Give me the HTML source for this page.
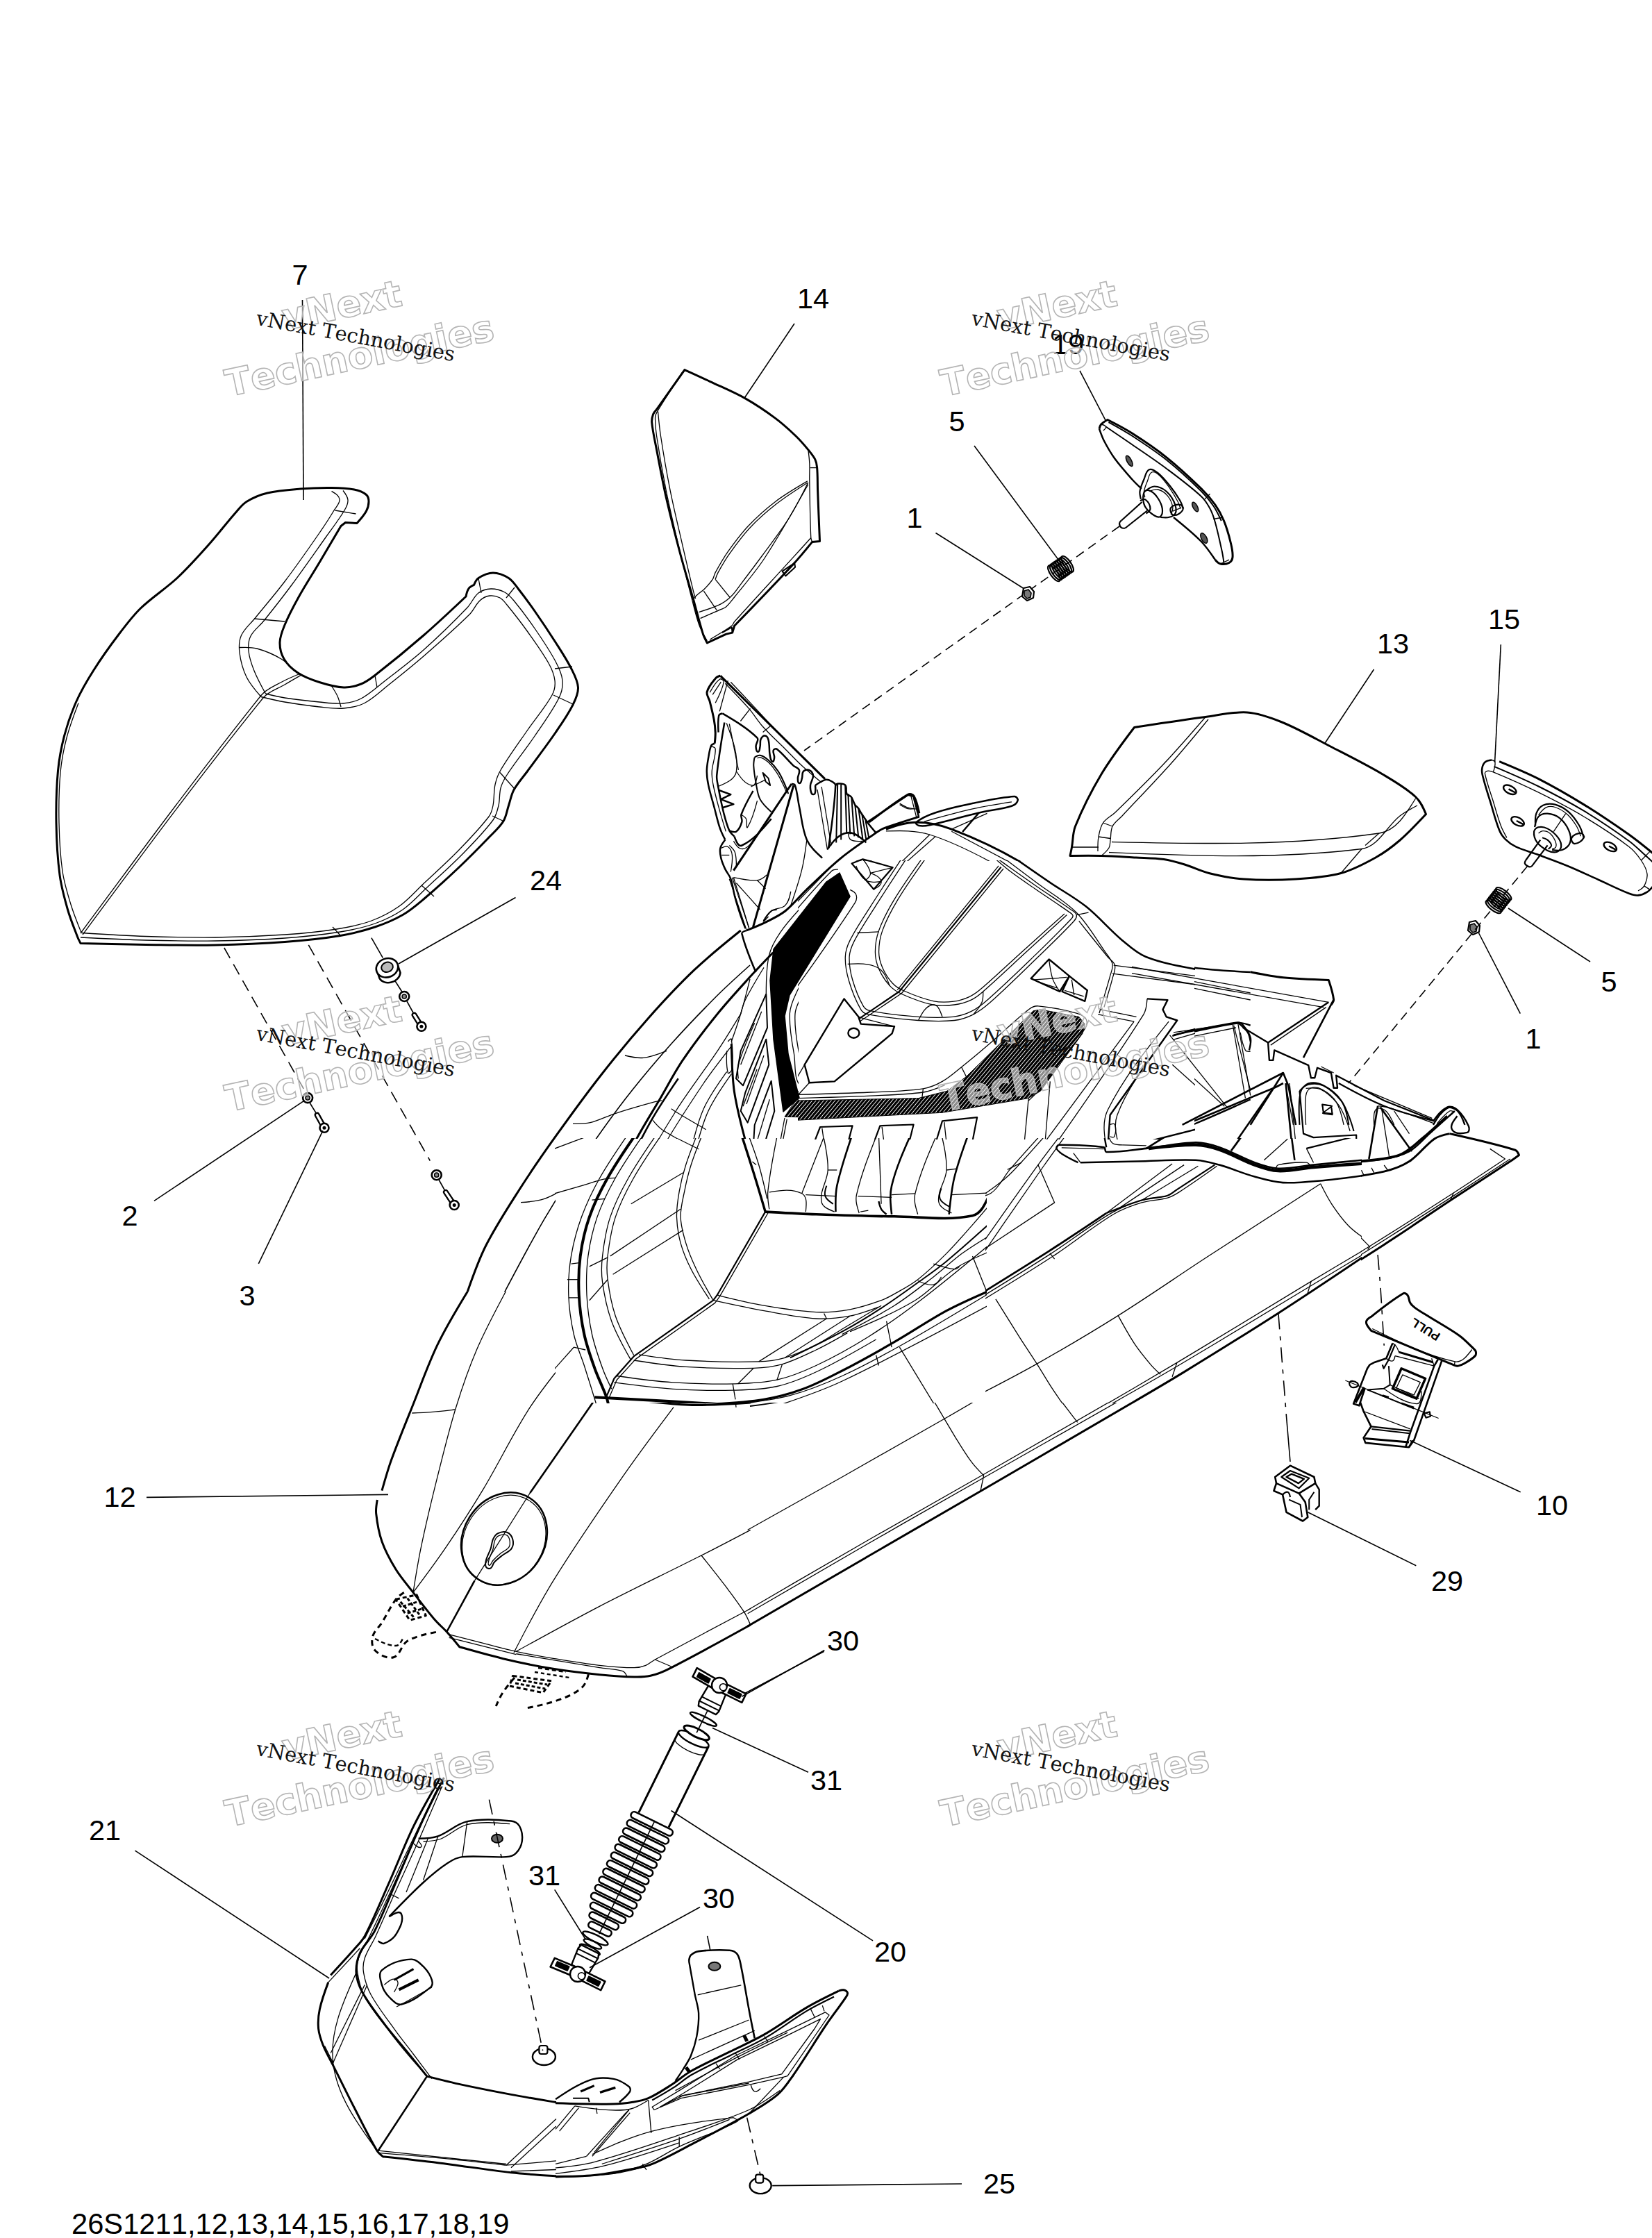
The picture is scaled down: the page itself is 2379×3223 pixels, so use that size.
<!DOCTYPE html>
<html><head><meta charset="utf-8"><title>26S1211</title>
<style>
html,body{margin:0;padding:0;background:#fff;}
svg{display:block;}
text{font-kerning:none;font-family:"Liberation Sans",sans-serif;fill:#000;}
path,line,ellipse,circle,polyline{stroke-linejoin:round;}
</style></head><body>
<svg width="2379" height="3223" viewBox="0 0 2379 3223">
<defs><clipPath id="exHD"><path clip-rule="evenodd" d="M0,0H2379V3223H0Z M800,1640H1420V2020H800Z M1150,1240H1720V1640H1150Z M1420,1640H1960V2020H1420Z"/></clipPath></defs>
<rect width="2379" height="3223" fill="#fff"/>
<g>
<defs>
<pattern id="hat" width="5" height="5" patternUnits="userSpaceOnUse" patternTransform="rotate(-50)"><rect width="5" height="5" fill="#fff"/><rect width="5" height="3.7" fill="#000"/></pattern>
<pattern id="hat2" width="4.2" height="4.2" patternUnits="userSpaceOnUse" patternTransform="rotate(-50)"><rect width="4.2" height="4.2" fill="#fff"/><rect width="4.2" height="3.3" fill="#000"/></pattern>
</defs>
<defs><clipPath id="inHD"><rect x="799" y="1639" width="622" height="382"/></clipPath></defs>
<defs><clipPath id="inHS"><rect x="1149" y="1239" width="572" height="402"/></clipPath></defs>
<defs><clipPath id="inHR"><rect x="1419" y="1639" width="542" height="382"/></clipPath></defs>
</g>
<g clip-path="url(#exHD)">
<path d="M1066.7,1340.0 C1043.9,1358.3 1021.1,1376.6 1000.0,1396.7 C976.6,1418.9 954.7,1442.6 933.3,1466.7 C910.3,1492.6 888.1,1519.4 866.7,1546.7 C843.6,1576.0 821.7,1606.3 800.0,1636.7 C782.8,1660.7 765.9,1685.1 750.0,1710.0 C732.6,1737.3 714.7,1764.5 700.0,1793.3 C689.1,1814.6 681.2,1837.3 673.3,1860.0" fill="none" stroke="#000" stroke-width="3"/>
<path d="M1080.0,1390.0 C1064.2,1404.2 1048.3,1418.3 1033.3,1433.3 C1010.5,1456.1 988.1,1479.3 966.7,1503.3 C943.6,1529.3 921.2,1555.8 900.0,1583.3 C876.7,1613.6 854.7,1644.9 833.3,1676.7 C815.8,1702.8 799.1,1729.5 783.3,1756.7 C763.5,1790.8 745.1,1825.7 726.7,1860.7" fill="none" stroke="#000" stroke-width="1.6"/>
<path d="M1113.3,1371.7 C1103.2,1382.1 1093.1,1392.6 1083.3,1403.3 C1066.4,1422.0 1049.2,1440.4 1033.3,1460.0 C1015.8,1481.6 998.9,1503.7 983.3,1526.7 C971.1,1544.8 961.1,1564.4 950.0,1583.3 C938.9,1602.2 927.1,1620.7 916.7,1640.0 C906.0,1659.7 895.8,1679.6 886.7,1700.0 C876.9,1721.8 867.9,1744.1 860.0,1766.7 C852.3,1788.6 846.3,1811.0 840.0,1833.3 C837.4,1842.4 835.4,1851.5 833.3,1860.7" fill="none" stroke="#000" stroke-width="3"/>
<path d="M976.7,1553.3 C964.0,1571.9 951.3,1590.6 940.0,1610.0 C928.0,1630.6 917.3,1652.0 906.7,1673.3 C895.1,1696.4 882.8,1719.3 873.3,1743.3 C863.9,1767.2 856.7,1791.9 850.0,1816.7 C846.1,1831.1 843.9,1845.9 841.7,1860.7" fill="none" stroke="#000" stroke-width="2.5"/>
<path d="M1066.7,1460.0 C1055.8,1477.9 1045.0,1495.9 1033.3,1513.3 C1013.8,1542.6 992.1,1570.3 973.3,1600.0 C954.2,1630.3 936.0,1661.3 920.0,1693.3 C907.1,1719.2 895.2,1745.7 886.7,1773.3 C880.7,1792.7 878.2,1813.1 876.7,1833.3 C876.0,1842.5 878.0,1851.6 880.0,1860.7" fill="none" stroke="#000" stroke-width="1.3"/>
<path d="M1053.3,1506.7 C1039.5,1524.1 1025.8,1541.6 1013.3,1560.0 C991.3,1592.7 969.8,1625.9 950.0,1660.0 C934.3,1687.1 919.6,1714.8 906.7,1743.3 C898.4,1761.6 890.7,1780.4 886.7,1800.0 C882.6,1819.9 882.6,1840.3 882.7,1860.7" fill="none" stroke="#000" stroke-width="1.3"/>
<path d="M1053.3,1546.7 C1041.1,1563.8 1028.9,1581.0 1020.0,1600.0 C1011.0,1619.1 1006.7,1640.0 1000.0,1660.0 C995.6,1673.3 989.7,1686.3 986.7,1700.0 C983.0,1716.4 980.0,1733.2 980.0,1750.0 C980.0,1764.6 982.2,1779.4 986.7,1793.3 C991.2,1807.5 998.6,1820.8 1006.7,1833.3 C1013.1,1843.4 1021.6,1852.0 1030.0,1860.7" fill="none" stroke="#000" stroke-width="1.3"/>
<path d="M1046.7,1543.3 C1034.4,1560.5 1022.0,1577.6 1013.3,1596.7 C1004.1,1616.8 1000.1,1638.9 993.3,1660.0 C989.0,1673.4 983.0,1686.3 980.0,1700.0 C976.5,1716.4 974.0,1733.2 974.0,1750.0 C974.0,1764.6 975.7,1779.4 980.0,1793.3 C984.4,1807.6 992.2,1820.7 1000.0,1833.3 C1006.1,1843.2 1013.9,1851.9 1021.7,1860.7" fill="none" stroke="#000" stroke-width="1.3"/>
<path d="M1080.0,1410.0 C1075.8,1426.7 1071.6,1443.5 1066.7,1460.0 C1062.7,1473.5 1058.0,1486.7 1053.3,1500.0" fill="none" stroke="#000" stroke-width="1.3"/>
<path d="M1100.0,1393.3 C1090.7,1408.7 1081.3,1424.0 1073.3,1440.0 C1070.2,1446.3 1068.4,1453.1 1066.7,1460.0" fill="none" stroke="#000" stroke-width="1.3"/>
<path d="M900.0,1520.0 C908.9,1522.2 917.8,1524.3 926.7,1523.3 C938.2,1522.1 949.1,1517.7 960.0,1513.3" fill="none" stroke="#000" stroke-width="1.3"/>
<path d="M825.0,1618.3 C833.4,1618.5 841.9,1618.6 850.0,1616.7 C862.6,1613.6 874.3,1607.3 886.7,1603.3 C905.4,1597.3 924.3,1591.9 943.3,1586.7 C946.6,1585.8 950.0,1585.4 953.3,1585.0" fill="none" stroke="#000" stroke-width="1.3"/>
<path d="M750.0,1731.7 C761.3,1731.0 772.7,1730.3 783.3,1726.7 C800.7,1720.7 815.9,1709.1 833.3,1703.3 C846.2,1699.1 859.9,1697.9 873.3,1696.7 C877.8,1696.2 882.2,1697.3 886.7,1698.3" fill="none" stroke="#000" stroke-width="1.3"/>
<path d="M940.0,1613.3 C944.1,1618.3 948.1,1623.2 953.3,1626.7 C968.2,1636.6 984.4,1644.5 1000.0,1653.3 C1002.2,1654.6 1004.4,1655.6 1006.7,1656.7" fill="none" stroke="#000" stroke-width="1.3"/>
<path d="M966.7,1596.7 C969.9,1599.0 973.2,1601.3 976.7,1603.3 C989.9,1611.3 1003.3,1619.0 1016.7,1626.7" fill="none" stroke="#000" stroke-width="1.3"/>
<path d="M900.0,1735.0 L985.0,1686.7" fill="none" stroke="#000" stroke-width="1.3"/>
<path d="M846.7,1826.7 C857.0,1823.5 867.4,1820.3 876.7,1815.0 C911.9,1794.7 945.3,1771.3 980.0,1750.0 C981.6,1749.0 983.5,1748.7 985.3,1748.3" fill="none" stroke="#000" stroke-width="1.3"/>
<path d="M886.7,1836.7 L980.0,1776.7" fill="none" stroke="#000" stroke-width="1.3"/>
<path d="M856.7,1726.7 L870.0,1725.0" fill="none" stroke="#000" stroke-width="1.3"/>
<path d="M820.0,1815.0 L838.3,1815.0" fill="none" stroke="#000" stroke-width="1.3"/>
<path d="M815.0,1850.0 L833.3,1850.0" fill="none" stroke="#000" stroke-width="1.3"/>
<path d="M875.0,1810.0 L883.3,1808.3" fill="none" stroke="#000" stroke-width="1.3"/>
<path d="M876.7,1838.3 L885.0,1836.7" fill="none" stroke="#000" stroke-width="1.3"/>
<path d="M813.3,1860.7 C815.8,1840.3 818.3,1819.9 823.3,1800.0 C828.3,1780.6 835.6,1761.8 843.3,1743.3 C850.1,1727.3 858.4,1712.0 866.7,1696.7" fill="none" stroke="#000" stroke-width="1.3"/>
<path d="M1053.3,1503.3 C1053.8,1524.5 1054.2,1545.7 1056.7,1566.7 C1058.7,1583.5 1062.7,1600.1 1066.7,1616.7 C1071.6,1636.8 1077.3,1656.8 1083.3,1676.7 C1090.1,1699.0 1097.6,1721.2 1105.0,1743.3" fill="none" stroke="#000" stroke-width="3"/>
<path d="M1048.3,1500.0 C1050.7,1497.3 1053.1,1494.7 1053.3,1496.7 C1055.4,1511.0 1055.5,1525.6 1054.0,1540.0 C1053.7,1542.5 1049.0,1547.4 1048.3,1545.0 C1045.5,1534.8 1046.1,1524.1 1046.7,1513.3" fill="none" stroke="#000" stroke-width="1.3"/>
<path d="M1105.0,1743.3 L1033.3,1860.7" fill="none" stroke="#000" stroke-width="2.5"/>
<path d="M1108.3,1746.0 L1037.3,1860.7" fill="none" stroke="#000" stroke-width="1.3"/>
<path d="M1105.0,1743.3 C1125.5,1745.1 1146.1,1746.8 1166.7,1748.3 C1194.7,1750.4 1222.7,1752.2 1250.7,1754.0" fill="none" stroke="#000" stroke-width="3"/>
<path d="M1110.0,1716.7 C1127.7,1715.1 1145.4,1713.5 1160.0,1721.7 C1168.0,1726.1 1167.3,1737.2 1166.7,1748.3" fill="none" stroke="#000" stroke-width="1.3"/>
<path d="M1105.0,1743.3 L1130.0,1610.0" fill="none" stroke="#000" stroke-width="1.3"/>
<path d="M1108.3,1743.3 L1133.3,1611.7" fill="none" stroke="#000" stroke-width="1.3"/>
<path d="M1160.0,1300.0 C1147.0,1313.9 1134.0,1327.7 1123.3,1343.3 C1116.4,1353.5 1110.0,1364.6 1107.3,1376.7 C1103.2,1395.2 1103.3,1414.2 1103.3,1433.3" fill="none" stroke="#000" stroke-width="1.3"/>
<path d="M1233.3,1300.0 C1214.8,1322.8 1196.3,1345.6 1180.0,1370.0 C1167.3,1389.0 1156.5,1409.3 1146.7,1430.0 C1142.2,1439.5 1137.7,1449.5 1137.3,1460.0 C1136.6,1479.0 1139.8,1498.0 1143.3,1516.7 C1146.5,1533.7 1141.5,1559.8 1157.3,1566.7 C1185.9,1579.1 1218.3,1571.2 1250.7,1563.3" fill="none" stroke="#000" stroke-width="1.3"/>
<path d="M1246.7,1300.0 C1227.1,1323.9 1207.5,1347.9 1190.0,1373.3 C1176.9,1392.4 1165.7,1412.8 1155.0,1433.3 C1150.6,1441.8 1145.6,1450.5 1145.0,1460.0 C1143.9,1477.8 1146.8,1495.8 1150.0,1513.3 C1152.9,1529.2 1158.1,1544.6 1163.3,1560.0" fill="none" stroke="#000" stroke-width="1.3"/>
<path d="M1130.0,1608.3 L1146.7,1583.3 L1250.7,1583.3 L1250.7,1610.7Z" fill="url(#hat2)" stroke="#000" stroke-width="1"/>
<path d="M1103.3,1431.7 L1066.7,1513.3 L1060.0,1553.3 L1070.0,1563.3 L1105.0,1480.0Z" fill="none" stroke="#000" stroke-width="2"/>
<path d="M1103.3,1496.7 L1073.3,1573.3 L1066.7,1600.0 L1076.7,1616.7 L1107.3,1533.3Z" fill="none" stroke="#000" stroke-width="2"/>
<path d="M1110.7,1556.7 L1086.7,1620.0 L1083.3,1676.7 L1090.0,1683.3 L1115.3,1600.0Z" fill="none" stroke="#000" stroke-width="2"/>
<path d="M1096.7,1456.7 L1066.7,1533.3" fill="none" stroke="#000" stroke-width="1.3"/>
<path d="M1100.0,1520.0 L1075.0,1590.0" fill="none" stroke="#000" stroke-width="1.3"/>
<path d="M1108.3,1583.3 L1088.3,1650.0" fill="none" stroke="#000" stroke-width="1.3"/>
<path d="M1086.7,1473.3 C1078.0,1493.0 1069.3,1512.7 1063.3,1533.3 C1061.5,1539.7 1062.4,1546.5 1063.3,1553.3" fill="none" stroke="#000" stroke-width="1.3"/>
<path d="M1090.0,1540.0 L1070.0,1593.3" fill="none" stroke="#000" stroke-width="1.3"/>
<path d="M1218.3,1438.3 C1222.2,1446.0 1226.0,1453.7 1233.3,1456.7 C1238.9,1459.0 1244.8,1455.3 1250.7,1451.7" fill="none" stroke="#000" stroke-width="2.2"/>
<path d="M1218.3,1438.3 C1196.4,1468.7 1174.5,1499.1 1160.0,1533.3 C1156.4,1541.8 1158.5,1555.9 1166.7,1560.0 C1178.6,1566.0 1194.1,1561.2 1206.7,1556.7 C1222.8,1550.9 1236.7,1540.4 1250.7,1530.0" fill="none" stroke="#000" stroke-width="2.2"/>
<path d="M1166.7,1560.0 C1154.4,1567.8 1142.2,1575.6 1150.0,1576.7 C1183.3,1581.3 1217.0,1576.5 1250.7,1571.7" fill="none" stroke="#000" stroke-width="1.3"/>
<ellipse cx="1229.3" cy="1490.0" rx="7" ry="8.5" fill="none" stroke="#000" stroke-width="2"/>
<path d="M1250.7,1320.0 C1242.0,1327.2 1233.2,1334.3 1226.7,1343.3 C1221.7,1350.2 1218.0,1358.3 1216.7,1366.7 C1215.6,1373.3 1217.6,1380.4 1220.0,1386.7 C1223.2,1395.0 1228.3,1402.5 1233.3,1410.0" fill="none" stroke="#000" stroke-width="1.3"/>
<path d="M1250.7,1331.7 C1244.1,1337.2 1237.5,1342.7 1233.3,1350.0 C1229.3,1357.0 1227.3,1365.3 1226.7,1373.3 C1226.2,1379.0 1228.1,1384.5 1230.0,1390.0" fill="none" stroke="#000" stroke-width="1.3"/>
<path d="M1218.3,1380.0 C1225.8,1380.3 1233.2,1380.5 1240.0,1383.3 C1244.5,1385.2 1247.6,1389.3 1250.7,1393.3" fill="none" stroke="#000" stroke-width="1.3"/>
<path d="M1180.0,1625.0 C1195.8,1622.4 1211.5,1619.8 1226.7,1623.3 C1231.1,1624.4 1230.7,1632.1 1230.0,1636.7 C1228.4,1647.1 1223.0,1656.5 1220.0,1666.7 C1215.2,1683.2 1210.2,1699.8 1206.7,1716.7 C1204.6,1726.5 1204.0,1736.6 1203.3,1746.7" fill="none" stroke="#000" stroke-width="2.2"/>
<path d="M1180.0,1625.0 C1172.5,1657.6 1165.1,1690.3 1160.0,1723.3 C1158.9,1730.5 1160.3,1737.7 1161.7,1745.0" fill="none" stroke="#000" stroke-width="1.3"/>
<path d="M1183.3,1626.7 C1188.6,1646.5 1194.0,1666.4 1193.3,1686.7 C1192.8,1702.8 1187.2,1718.9 1180.0,1733.3 C1176.8,1739.7 1170.1,1743.2 1163.3,1746.7" fill="none" stroke="#000" stroke-width="1.3"/>
<path d="M1193.3,1686.7 L1213.3,1686.7" fill="none" stroke="#000" stroke-width="1.3"/>
<path d="M1190.0,1710.0 C1188.0,1716.9 1186.0,1723.7 1188.3,1730.0 C1189.9,1734.2 1195.0,1735.4 1200.0,1736.7" fill="none" stroke="#000" stroke-width="1.3"/>
<path d="M1250.7,1670.0 C1245.0,1688.7 1239.2,1707.4 1236.7,1726.7 C1235.6,1734.5 1237.8,1742.2 1240.0,1750.0" fill="none" stroke="#000" stroke-width="1.3"/>
<path d="M1250.0,1583.3 L1333.3,1566.7 L1360.0,1556.7 L1383.3,1540.0 L1483.3,1456.7 L1496.7,1451.7 L1550.0,1460.0 L1563.3,1470.0 L1560.0,1486.7 L1490.0,1563.3 L1466.7,1576.7 L1383.3,1596.7 L1250.0,1611.7Z" fill="url(#hat2)" stroke="#000" stroke-width="1"/>
<path d="M1250.0,1563.3 C1276.8,1563.3 1303.5,1563.3 1330.0,1560.0 C1339.4,1558.8 1348.3,1554.5 1356.7,1550.0 C1365.1,1545.5 1372.5,1539.3 1380.0,1533.3 C1414.7,1505.9 1447.8,1476.4 1483.3,1450.0 C1487.0,1447.3 1492.1,1446.3 1496.7,1446.7 C1516.9,1448.5 1537.3,1450.6 1556.7,1456.7 C1562.8,1458.6 1569.0,1463.8 1570.7,1470.0 C1572.7,1477.6 1571.1,1486.8 1566.7,1493.3 C1551.5,1515.4 1532.4,1534.4 1513.3,1553.3" fill="none" stroke="#000" stroke-width="1.3"/>
<path d="M1250.0,1570.0 C1276.8,1569.3 1303.5,1568.7 1330.0,1565.0 C1339.9,1563.6 1349.4,1559.6 1358.3,1555.0 C1366.8,1550.6 1374.2,1544.5 1381.7,1538.3" fill="none" stroke="#000" stroke-width="1.3"/>
<path d="M1503.3,1640.0 L1513.3,1553.3" fill="none" stroke="#000" stroke-width="1.3"/>
<path d="M1466.7,1666.7 L1483.3,1583.3" fill="none" stroke="#000" stroke-width="1.3"/>
<path d="M1260.0,1300.0 C1258.3,1316.7 1256.7,1333.4 1258.3,1350.0 C1260.0,1367.0 1263.1,1384.3 1270.0,1400.0 C1275.1,1411.6 1282.4,1423.6 1293.3,1430.0 C1310.3,1439.9 1330.5,1444.0 1350.0,1446.7 C1363.3,1448.5 1377.2,1447.2 1390.0,1443.3 C1400.0,1440.3 1408.3,1433.0 1416.7,1426.7 C1459.5,1394.1 1501.8,1360.9 1543.3,1326.7 C1546.4,1324.1 1550.8,1320.6 1550.0,1316.7 C1549.2,1312.7 1543.4,1312.1 1540.0,1310.0 C1534.5,1306.6 1528.9,1303.3 1523.3,1300.0" fill="none" stroke="#000" stroke-width="1.3"/>
<path d="M1273.3,1300.0 C1271.1,1316.7 1268.8,1333.3 1270.0,1350.0 C1271.1,1364.8 1274.2,1379.7 1280.0,1393.3 C1284.4,1403.5 1290.6,1414.2 1300.0,1420.0 C1314.9,1429.2 1332.6,1434.0 1350.0,1436.7 C1362.1,1438.5 1374.8,1436.6 1386.7,1433.3 C1395.3,1430.9 1402.9,1425.4 1410.0,1420.0 C1452.9,1387.6 1496.5,1355.8 1536.7,1320.0 C1539.3,1317.7 1536.3,1313.8 1533.3,1310.0" fill="none" stroke="#000" stroke-width="1.3"/>
<path d="M1250.0,1456.7 L1293.3,1430.0" fill="none" stroke="#000" stroke-width="1.3"/>
<path d="M1250.0,1343.3 L1266.7,1343.3" fill="none" stroke="#000" stroke-width="1.3"/>
<path d="M1296.7,1426.7 L1396.7,1300.0" fill="none" stroke="#000" stroke-width="1.3"/>
<path d="M1303.3,1420.0 L1403.3,1300.0" fill="none" stroke="#000" stroke-width="1.3"/>
<path d="M1350.0,1446.7 L1356.7,1466.7" fill="none" stroke="#000" stroke-width="1.3"/>
<path d="M1413.3,1426.7 L1416.7,1446.7" fill="none" stroke="#000" stroke-width="1.3"/>
<path d="M1250.0,1460.0 C1283.3,1462.9 1316.6,1465.9 1350.0,1466.7 C1363.4,1467.0 1377.2,1467.2 1390.0,1463.3 C1400.0,1460.3 1408.8,1453.6 1416.7,1446.7 C1462.2,1406.8 1506.4,1365.3 1550.0,1323.3 C1552.2,1321.3 1552.7,1318.1 1553.3,1315.0" fill="none" stroke="#000" stroke-width="1.3"/>
<path d="M1250.0,1473.3 C1266.5,1470.9 1283.0,1468.4 1290.0,1480.0 C1295.7,1489.5 1277.9,1498.8 1270.0,1506.7 C1264.3,1512.3 1257.2,1516.2 1250.0,1520.0" fill="none" stroke="#000" stroke-width="2"/>
<path d="M1550.0,1300.0 C1561.4,1308.6 1572.8,1317.1 1583.3,1326.7 C1595.0,1337.2 1604.4,1350.2 1616.7,1360.0 C1626.8,1368.1 1637.7,1375.9 1650.0,1380.0 C1671.5,1387.2 1694.2,1390.4 1716.7,1393.3 C1744.5,1397.0 1772.6,1398.5 1800.7,1400.0" fill="none" stroke="#000" stroke-width="2.5"/>
<path d="M1523.3,1300.0 C1532.8,1303.5 1542.4,1307.0 1550.0,1313.3 C1562.7,1323.9 1573.9,1336.4 1583.3,1350.0 C1591.8,1362.2 1601.0,1375.3 1603.3,1390.0 C1605.6,1404.4 1600.1,1419.1 1596.7,1433.3 C1594.5,1442.6 1590.6,1451.3 1586.7,1460.0" fill="none" stroke="#000" stroke-width="1.3"/>
<path d="M1516.7,1300.0 C1526.1,1304.9 1535.5,1309.7 1543.3,1316.7 C1555.7,1327.6 1567.1,1339.9 1576.7,1353.3 C1585.0,1365.1 1594.3,1377.5 1596.7,1391.7 C1599.0,1405.5 1593.2,1419.6 1590.0,1433.3 C1588.1,1441.4 1584.9,1449.0 1581.7,1456.7" fill="none" stroke="#000" stroke-width="1.3"/>
<path d="M1603.3,1390.0 L1800.7,1430.0" fill="none" stroke="#000" stroke-width="1.3"/>
<path d="M1606.7,1400.0 L1800.7,1440.0" fill="none" stroke="#000" stroke-width="1.3"/>
<path d="M1536.7,1310.0 L1570.0,1316.7" fill="none" stroke="#000" stroke-width="1.3"/>
<path d="M1486.7,1410.0 L1513.3,1381.7 L1540.0,1410.0 L1526.7,1428.3Z" fill="none" stroke="#000" stroke-width="2.2"/>
<path d="M1513.3,1381.7 C1513.7,1391.3 1514.1,1400.9 1516.7,1410.0 C1518.6,1416.7 1522.6,1422.5 1526.7,1428.3" fill="none" stroke="#000" stroke-width="1.3"/>
<path d="M1491.7,1411.7 C1500.0,1410.8 1508.3,1410.0 1516.7,1410.0 C1523.4,1410.0 1530.0,1410.8 1536.7,1411.7" fill="none" stroke="#000" stroke-width="1.3"/>
<path d="M1503.3,1415.0 L1506.7,1411.7" fill="none" stroke="#000" stroke-width="1.3"/>
<path d="M1540.0,1410.0 L1563.3,1426.7 L1560.0,1436.7 L1530.0,1426.7Z" fill="none" stroke="#000" stroke-width="2.2"/>
<path d="M1543.3,1415.0 L1548.3,1431.7" fill="none" stroke="#000" stroke-width="1.3"/>
<path d="M1533.3,1425.0 L1558.3,1431.7" fill="none" stroke="#000" stroke-width="1.3"/>
<path d="M1655.0,1440.0 C1653.9,1451.8 1652.8,1463.6 1646.7,1473.3 C1608.5,1534.2 1565.9,1592.1 1523.3,1650.0" fill="none" stroke="#000" stroke-width="1.3"/>
<path d="M1636.7,1470.0 L1516.7,1643.3" fill="none" stroke="#000" stroke-width="1.3"/>
<path d="M1653.3,1440.0 C1663.5,1439.0 1673.8,1438.1 1681.7,1443.3 C1685.3,1445.7 1673.7,1449.0 1673.3,1453.3 C1673.0,1457.3 1676.9,1460.7 1680.0,1463.3 C1684.4,1467.0 1697.8,1466.7 1695.0,1471.7 C1667.6,1519.8 1624.5,1557.9 1598.3,1606.7 C1590.2,1621.9 1592.6,1640.1 1595.0,1658.3" fill="none" stroke="#000" stroke-width="2.4"/>
<path d="M1683.3,1473.3 C1650.9,1517.5 1618.5,1561.6 1593.3,1610.0 C1587.7,1620.8 1590.5,1633.8 1593.3,1646.7" fill="none" stroke="#000" stroke-width="1.3"/>
<path d="M1666.7,1513.3 C1644.7,1544.1 1622.8,1574.9 1610.0,1610.0 C1605.4,1622.7 1611.0,1636.3 1616.7,1650.0" fill="none" stroke="#000" stroke-width="1.3"/>
<path d="M1526.7,1660.0 C1524.2,1658.1 1521.7,1656.1 1521.7,1653.3 C1521.7,1650.6 1523.9,1646.9 1526.7,1646.7 C1547.7,1644.6 1568.8,1645.6 1590.0,1646.7" fill="none" stroke="#000" stroke-width="2.2"/>
<path d="M1596.7,1620.0 C1599.6,1619.0 1602.6,1617.9 1603.3,1620.0 C1605.2,1625.2 1604.7,1631.5 1602.7,1636.7 C1601.9,1638.5 1599.3,1637.6 1596.7,1636.7" fill="none" stroke="#000" stroke-width="1.3"/>
<path d="M1526.7,1660.0 C1536.2,1666.3 1545.7,1672.6 1556.7,1673.3 C1598.8,1676.0 1641.1,1670.0 1683.3,1670.0 C1700.0,1670.0 1717.2,1669.2 1733.3,1673.3 C1756.7,1679.3 1778.7,1689.7 1800.7,1700.0" fill="none" stroke="#000" stroke-width="3"/>
<path d="M1540.0,1663.3 L1556.7,1676.0" fill="none" stroke="#000" stroke-width="1.3"/>
<path d="M1653.3,1653.3 C1674.4,1651.3 1695.5,1649.3 1716.7,1650.0 C1728.0,1650.4 1739.2,1653.2 1750.0,1656.7 C1767.3,1662.2 1784.0,1669.4 1800.7,1676.7" fill="none" stroke="#000" stroke-width="3"/>
<path d="M1616.7,1650.0 C1628.1,1650.2 1639.5,1650.5 1650.0,1646.7 C1701.2,1628.1 1750.9,1605.7 1800.7,1583.3" fill="none" stroke="#000" stroke-width="2.4"/>
<path d="M1626.7,1646.7 C1633.2,1649.2 1639.8,1651.7 1646.7,1651.7 C1649.4,1651.7 1651.4,1649.2 1653.3,1646.7" fill="none" stroke="#000" stroke-width="1.3"/>
<path d="M1686.7,1493.3 C1718.7,1485.7 1750.8,1478.1 1783.3,1473.3 C1789.2,1472.5 1794.9,1474.6 1800.7,1476.7" fill="none" stroke="#000" stroke-width="2.4"/>
<path d="M1690.0,1498.3 L1780.0,1480.0" fill="none" stroke="#000" stroke-width="1.3"/>
<path d="M1683.3,1520.0 L1763.3,1593.3" fill="none" stroke="#000" stroke-width="1.3"/>
<path d="M1776.7,1476.7 L1800.7,1570.0" fill="none" stroke="#000" stroke-width="1.3"/>
<path d="M1783.3,1473.3 C1788.3,1477.4 1793.2,1481.4 1796.7,1486.7 C1799.2,1490.6 1799.9,1495.3 1800.7,1500.0" fill="none" stroke="#000" stroke-width="2.2"/>
<path d="M1293.3,1860.7 C1330.7,1824.5 1368.1,1788.3 1403.3,1750.0 C1422.6,1729.1 1437.5,1704.4 1456.7,1683.3 C1470.9,1667.6 1489.3,1655.9 1503.3,1640.0 C1531.6,1608.0 1557.0,1573.6 1583.3,1540.0 C1601.4,1516.9 1619.1,1493.5 1636.7,1470.0" fill="none" stroke="#000" stroke-width="1.3"/>
<path d="M1303.3,1860.7 C1339.6,1825.6 1375.9,1790.5 1410.0,1753.3 C1429.3,1732.4 1446.3,1709.5 1463.3,1686.7" fill="none" stroke="#000" stroke-width="1.3"/>
<path d="M1250.0,1860.7 C1272.2,1840.4 1294.4,1820.2 1316.7,1800.0 C1341.1,1777.8 1366.6,1756.7 1390.0,1733.3 C1411.1,1712.2 1430.6,1689.4 1450.0,1666.7" fill="none" stroke="#000" stroke-width="2"/>
<path d="M1450.0,1666.7 C1456.7,1663.3 1463.3,1660.0 1470.0,1656.7 C1481.1,1651.1 1492.2,1645.6 1503.3,1640.0" fill="none" stroke="#000" stroke-width="1.3"/>
<path d="M1453.3,1680.0 L1466.7,1690.0" fill="none" stroke="#000" stroke-width="1.3"/>
<path d="M1376.7,1833.3 C1396.8,1807.9 1416.9,1782.4 1436.7,1756.7 C1456.9,1730.2 1475.6,1702.5 1496.7,1676.7 C1504.6,1666.9 1514.0,1658.5 1523.3,1650.0" fill="none" stroke="#000" stroke-width="1.3"/>
<path d="M1383.3,1836.7 C1403.5,1811.2 1423.6,1785.8 1443.3,1760.0 C1463.6,1733.5 1483.5,1706.8 1503.3,1680.0" fill="none" stroke="#000" stroke-width="1.3"/>
<path d="M1493.3,1676.7 C1510.7,1695.4 1528.0,1714.1 1520.0,1733.3 C1499.0,1783.8 1457.8,1822.2 1416.7,1860.7" fill="none" stroke="#000" stroke-width="1.3"/>
<path d="M1403.3,1810.0 L1416.7,1860.7" fill="none" stroke="#000" stroke-width="1.3"/>
<path d="M1336.7,1860.7 C1383.5,1825.6 1430.4,1790.6 1483.3,1766.7 C1518.5,1750.8 1558.8,1750.9 1596.7,1743.3 C1620.0,1738.7 1643.5,1735.3 1666.7,1730.0 C1672.5,1728.7 1678.5,1726.9 1683.3,1723.3 C1695.4,1714.5 1704.4,1701.9 1716.7,1693.3 C1726.8,1686.2 1738.4,1681.4 1750.0,1676.7" fill="none" stroke="#000" stroke-width="2.2"/>
<path d="M1350.0,1860.7 C1394.9,1828.3 1439.8,1795.9 1490.0,1773.3 C1524.3,1757.9 1563.2,1756.2 1600.0,1748.3 C1623.2,1743.4 1646.9,1740.6 1670.0,1735.0 C1677.0,1733.3 1684.1,1730.9 1690.0,1726.7 C1702.1,1717.9 1712.7,1707.3 1723.3,1696.7" fill="none" stroke="#000" stroke-width="1.3"/>
<path d="M1436.7,1860.7 C1484.9,1821.8 1533.1,1782.9 1583.3,1746.7 C1619.8,1720.4 1658.3,1696.8 1696.7,1673.3" fill="none" stroke="#000" stroke-width="1.3"/>
<path d="M1663.3,1860.7 L1800.7,1773.3" fill="none" stroke="#000" stroke-width="1.3"/>
<path d="M1316.7,1840.0 C1325.6,1846.8 1334.5,1853.5 1343.3,1850.0 C1350.8,1847.0 1350.4,1836.8 1350.0,1826.7" fill="none" stroke="#000" stroke-width="1.3"/>
<path d="M1510.0,1803.3 L1523.3,1815.0" fill="none" stroke="#000" stroke-width="1.3"/>
<path d="M1250.0,1754.0 L1403.3,1750.0" fill="none" stroke="#000" stroke-width="3"/>
<path d="M1250.0,1748.3 L1400.0,1745.0" fill="none" stroke="#000" stroke-width="1.3"/>
<path d="M1265.0,1623.3 C1282.5,1619.7 1300.0,1616.1 1316.7,1620.7 C1321.9,1622.1 1315.0,1631.5 1313.3,1636.7 C1309.4,1649.1 1304.0,1661.0 1300.0,1673.3 C1294.0,1692.1 1287.9,1710.9 1283.3,1730.0 C1281.8,1736.5 1281.7,1743.3 1281.7,1750.0" fill="none" stroke="#000" stroke-width="2.2"/>
<path d="M1265.0,1623.3 C1265.8,1649.0 1266.7,1674.6 1270.0,1700.0 C1272.2,1717.0 1276.9,1733.5 1281.7,1750.0" fill="none" stroke="#000" stroke-width="1.3"/>
<path d="M1250.0,1663.3 L1265.0,1623.3" fill="none" stroke="#000" stroke-width="1.3"/>
<path d="M1356.7,1615.0 C1375.6,1607.6 1394.6,1600.1 1406.7,1611.7 C1417.0,1621.5 1401.7,1640.0 1396.7,1653.3 C1390.5,1669.6 1379.7,1683.8 1373.3,1700.0 C1369.6,1709.5 1367.3,1719.8 1366.7,1730.0 C1366.2,1736.7 1368.1,1743.4 1370.0,1750.0" fill="none" stroke="#000" stroke-width="2.2"/>
<path d="M1356.7,1615.0 C1341.8,1652.9 1326.9,1690.7 1316.7,1730.0 C1314.9,1736.7 1318.3,1743.3 1321.7,1750.0" fill="none" stroke="#000" stroke-width="1.3"/>
<path d="M1360.0,1616.7 C1361.5,1639.0 1363.1,1661.3 1360.0,1683.3 C1357.4,1701.8 1352.0,1720.2 1343.3,1736.7 C1340.3,1742.4 1333.5,1744.5 1326.7,1746.7" fill="none" stroke="#000" stroke-width="1.3"/>
<path d="M1360.0,1683.3 L1380.0,1683.3" fill="none" stroke="#000" stroke-width="1.3"/>
<path d="M1356.7,1711.7 C1354.9,1719.0 1353.1,1726.4 1355.0,1733.3 C1356.2,1737.5 1360.6,1739.6 1365.0,1741.7" fill="none" stroke="#000" stroke-width="1.3"/>
<path d="M1283.3,1730.0 L1316.7,1730.0" fill="none" stroke="#000" stroke-width="1.3"/>
<path d="M1366.7,1730.0 L1406.7,1730.0" fill="none" stroke="#000" stroke-width="1.3"/>
<path d="M1263.3,1730.0 C1264.6,1736.2 1265.8,1742.4 1270.0,1746.7 C1271.8,1748.4 1274.2,1745.9 1276.7,1743.3" fill="none" stroke="#000" stroke-width="1.3"/>
<path d="M1275.9,1194.1 C1290.2,1189.2 1304.4,1184.3 1319.2,1184.3 C1336.6,1184.3 1354.1,1187.9 1370.3,1194.1 C1405.7,1207.7 1440.3,1223.7 1472.6,1243.3 C1510.0,1265.9 1544.5,1292.9 1578.9,1320.0" fill="none" stroke="#000" stroke-width="3"/>
<path d="M1275.9,1196.9 C1297.4,1196.2 1318.8,1195.6 1338.9,1202.0 C1374.7,1213.3 1408.4,1230.9 1441.2,1249.2 C1476.8,1269.0 1510.1,1292.6 1543.5,1316.1" fill="none" stroke="#000" stroke-width="1.3"/>
<path d="M1370.3,1197.3 L1460.8,1245.3" fill="none" stroke="#000" stroke-width="1.3"/>
<path d="M1319.2,1184.3 C1327.3,1177.9 1337.0,1173.7 1346.7,1170.5 C1364.7,1164.5 1383.3,1160.6 1401.8,1156.7 C1421.4,1152.7 1440.9,1148.1 1460.8,1146.9 C1463.4,1146.7 1466.3,1150.4 1465.6,1152.8 C1464.5,1156.5 1460.6,1159.5 1456.9,1160.7 C1441.6,1165.5 1425.3,1166.8 1409.7,1170.5 C1386.0,1176.0 1362.7,1183.1 1338.9,1188.2 C1333.7,1189.3 1328.3,1190.0 1323.1,1189.0 C1321.1,1188.6 1317.6,1185.5 1319.2,1184.3Z" fill="none" stroke="#000" stroke-width="2.5"/>
<path d="M1331.0,1183.1 C1354.5,1176.5 1378.0,1170.0 1401.8,1164.6 C1420.0,1160.5 1438.5,1157.6 1456.9,1154.8" fill="none" stroke="#000" stroke-width="1.3"/>
<path d="M1409.7,1170.5 L1386.1,1198.0" fill="none" stroke="#000" stroke-width="2.5"/>
<path d="M1421.5,1171.3 L1370.3,1194.1" fill="none" stroke="#000" stroke-width="1.3"/>
<path d="M1248.4,1184.3 L1307.4,1144.9 L1315.3,1146.9 L1323.1,1176.4" fill="none" stroke="#000" stroke-width="2.5"/>
<path d="M1295.6,1158.7 C1299.4,1161.1 1303.1,1163.4 1307.4,1164.6 C1310.6,1165.5 1313.9,1165.0 1317.2,1164.6" fill="none" stroke="#000" stroke-width="1.3"/>
<path d="M1441.2,1249.2 L1378.2,1320.0" fill="none" stroke="#000" stroke-width="2.5"/>
<path d="M1445.1,1250.8 L1382.9,1320.0" fill="none" stroke="#000" stroke-width="1.3"/>
<path d="M1438.0,1247.6 L1374.3,1320.0" fill="none" stroke="#000" stroke-width="1.3"/>
<path d="M1472.6,1243.3 L1441.2,1249.2" fill="none" stroke="#000" stroke-width="1.3"/>
<path d="M1338.9,1202.0 L1298.3,1241.3" fill="none" stroke="#000" stroke-width="1.3"/>
<path d="M1346.7,1205.1 L1305.4,1241.3" fill="none" stroke="#000" stroke-width="1.3"/>
<path d="M1539.5,1312.1 C1541.8,1315.1 1544.1,1318.0 1547.4,1318.0 C1554.2,1318.0 1560.7,1315.1 1567.1,1312.1" fill="none" stroke="#000" stroke-width="1.3"/>
<path d="M1226.7,1243.3 L1242.5,1237.4 L1285.7,1249.2 L1258.2,1280.7Z" fill="none" stroke="#000" stroke-width="2.2"/>
<path d="M1242.5,1237.4 C1246.2,1242.3 1249.9,1247.3 1250.3,1253.1 C1250.6,1257.5 1247.5,1261.2 1244.4,1264.9" fill="none" stroke="#000" stroke-width="1.3"/>
<path d="M1250.3,1253.1 L1285.7,1249.2" fill="none" stroke="#000" stroke-width="1.3"/>
<path d="M1250.3,1253.1 C1258.2,1255.6 1266.1,1258.1 1268.0,1264.9 C1269.7,1270.9 1264.0,1275.8 1258.2,1280.7" fill="none" stroke="#000" stroke-width="1.3"/>
<path d="M1232.6,1245.3 C1235.2,1253.2 1237.7,1261.2 1244.4,1264.9 C1251.3,1268.8 1259.7,1266.8 1268.0,1264.9" fill="none" stroke="#000" stroke-width="1.3"/>
<path d="M1209.0,1253.1 C1205.0,1256.9 1200.9,1260.8 1197.2,1264.9 C1181.2,1283.1 1165.6,1301.5 1150.0,1320.0" fill="none" stroke="#000" stroke-width="1.3"/>
<path d="M1205.1,1251.2 L1150.0,1312.1" fill="none" stroke="#000" stroke-width="1.3"/>
<path d="M673.3,1860.0 C658.0,1885.1 642.7,1910.2 630.0,1936.7 C616.0,1965.9 605.4,1996.6 593.3,2026.7 C583.1,2052.1 572.7,2077.5 563.3,2103.3 C558.2,2117.5 554.1,2132.1 550.0,2146.7" fill="none" stroke="#000" stroke-width="3"/>
<path d="M543.3,2160.0 C542.1,2166.7 540.9,2173.4 541.7,2180.0 C543.2,2193.5 545.5,2207.2 550.0,2220.0 C555.0,2234.1 562.2,2247.3 570.0,2260.0 C577.3,2271.8 586.5,2282.3 595.0,2293.3 C605.4,2306.8 615.6,2320.4 626.7,2333.3 C631.8,2339.3 638.0,2344.2 643.3,2350.0 C649.7,2357.0 655.7,2364.3 661.7,2371.7 C684.4,2378.1 707.0,2384.6 730.0,2390.0 C752.1,2395.2 774.3,2399.7 796.7,2403.3 C818.8,2406.9 841.0,2409.4 863.3,2411.7 C880.0,2413.3 896.6,2414.6 913.3,2415.0 C921.1,2415.2 929.1,2415.1 936.7,2413.3 C945.9,2411.2 954.9,2407.6 963.3,2403.3 C1002.9,2383.2 1041.8,2361.6 1080.7,2340.0" fill="none" stroke="#000" stroke-width="3"/>
<path d="M645.0,2353.3 C662.2,2357.8 679.4,2362.3 696.7,2366.7 C712.2,2370.6 727.7,2374.9 743.3,2378.3 C761.0,2382.2 778.8,2385.4 796.7,2388.3 C818.8,2392.0 841.0,2395.8 863.3,2398.3 C879.9,2400.2 896.6,2401.7 913.3,2401.7 C919.0,2401.7 924.7,2400.4 930.0,2398.3 C934.9,2396.4 938.7,2392.5 943.3,2390.0 C989.0,2365.3 1034.8,2341.0 1080.7,2316.7" fill="none" stroke="#000" stroke-width="1.3"/>
<path d="M743.3,2381.7 C783.3,2388.4 823.3,2395.1 863.3,2401.7 C874.4,2403.5 886.0,2403.1 896.7,2406.7 C900.0,2407.8 901.7,2411.4 903.3,2415.0" fill="none" stroke="#000" stroke-width="1.3"/>
<path d="M943.3,2390.0 L966.7,2400.0" fill="none" stroke="#000" stroke-width="1.3"/>
<path d="M646.7,2358.3 L743.3,2382.7" fill="none" stroke="#000" stroke-width="1.3"/>
<path d="M728.3,1860.0 C713.6,1887.4 698.9,1914.8 686.7,1943.3 C675.0,1970.5 665.4,1998.5 656.7,2026.7 C646.5,2059.6 638.4,2093.2 630.0,2126.7 C621.7,2159.9 613.7,2193.2 606.7,2226.7 C602.0,2248.7 598.5,2271.0 595.0,2293.3" fill="none" stroke="#000" stroke-width="1.3"/>
<path d="M593.3,2035.0 C603.3,2034.6 613.4,2034.1 623.3,2033.3 C633.9,2032.5 644.5,2031.2 655.0,2030.0" fill="none" stroke="#000" stroke-width="1.3"/>
<path d="M828.3,1941.7 C805.6,1969.2 782.8,1996.8 763.3,2026.7 C738.8,2064.2 719.7,2104.9 696.7,2143.3 C679.7,2171.6 661.8,2199.4 643.3,2226.7 C627.9,2249.4 611.5,2271.4 595.0,2293.3" fill="none" stroke="#000" stroke-width="1.3"/>
<path d="M858.3,2013.3 L763.3,2150.0" fill="none" stroke="#000" stroke-width="2.6"/>
<path d="M683.3,2276.7 L643.3,2350.0" fill="none" stroke="#000" stroke-width="2.6"/>
<path d="M763.3,2150.0 L683.3,2276.7" fill="none" stroke="#000" stroke-width="1.3"/>
<path d="M970.0,2026.7 C945.1,2059.7 920.2,2092.7 896.7,2126.7 C862.4,2176.1 828.3,2225.6 796.7,2276.7 C776.0,2310.1 758.0,2345.0 740.0,2380.0" fill="none" stroke="#000" stroke-width="1.3"/>
<path d="M743.3,2378.3 C783.1,2356.3 823.0,2334.3 863.3,2313.3 C911.9,2288.2 961.2,2264.7 1010.0,2240.0 C1033.7,2228.0 1057.2,2215.7 1080.7,2203.3" fill="none" stroke="#000" stroke-width="1.3"/>
<path d="M1010.0,2240.0 C1022.4,2255.4 1034.7,2270.9 1046.7,2286.7 C1055.3,2298.1 1064.0,2309.6 1071.7,2321.7 C1075.3,2327.4 1078.0,2333.7 1080.7,2340.0" fill="none" stroke="#000" stroke-width="1.3"/>
<ellipse cx="726.0" cy="2216.0" rx="58.7" ry="69.3" transform="rotate(32 726.0 2216.0)" fill="none" stroke="#000" stroke-width="2.6"/>
<ellipse cx="727.0" cy="2218.0" rx="57.0" ry="67.7" transform="rotate(32 726.0 2216.0)" fill="none" stroke="#000" stroke-width="1.2"/>
<path d="M716.7,2208.3 C720.7,2206.3 725.8,2205.1 730.0,2206.7 C734.0,2208.2 737.1,2212.5 738.3,2216.7 C739.6,2221.0 739.1,2226.2 736.7,2230.0 C733.7,2234.7 727.7,2236.5 723.3,2240.0 C719.3,2243.2 715.1,2246.2 711.7,2250.0 C709.5,2252.4 709.5,2256.7 706.7,2258.3 C704.7,2259.5 701.1,2258.7 700.0,2256.7 C698.3,2253.8 699.2,2249.9 700.0,2246.7 C701.5,2240.9 704.8,2235.7 706.7,2230.0 C708.1,2225.7 708.1,2220.8 710.0,2216.7 C711.5,2213.4 713.5,2209.9 716.7,2208.3Z" fill="none" stroke="#000" stroke-width="2"/>
<path d="M718.3,2211.7 C721.7,2210.1 725.9,2209.2 729.3,2210.7 C732.1,2211.8 733.4,2215.4 734.0,2218.3 C734.6,2221.6 734.6,2225.6 732.7,2228.3 C729.8,2232.4 724.5,2234.1 720.7,2237.3 C716.9,2240.5 713.3,2243.7 710.0,2247.3 C708.2,2249.3 707.6,2252.2 705.7,2254.0 C705.1,2254.5 703.5,2254.1 703.3,2253.3 C702.8,2251.2 703.4,2248.8 704.0,2246.7 C705.6,2241.2 708.3,2236.1 710.0,2230.7 C711.2,2226.6 711.0,2222.2 712.7,2218.3 C713.8,2215.7 715.7,2212.9 718.3,2211.7Z" fill="none" stroke="#000" stroke-width="1.3"/>
<path d="M831.7,1860.0 C834.0,1876.7 836.4,1893.5 840.0,1910.0 C843.7,1926.9 847.9,1943.6 853.3,1960.0 C859.0,1977.0 866.2,1993.5 873.3,2010.0" fill="none" stroke="#000" stroke-width="3.5"/>
<path d="M858.3,2013.3 C876.7,2014.3 895.0,2015.3 913.3,2016.7 C941.1,2018.7 968.8,2022.8 996.7,2023.3 C1024.7,2023.9 1052.7,2021.9 1080.7,2020.0" fill="none" stroke="#000" stroke-width="3.2"/>
<path d="M813.3,1860.0 C814.8,1876.8 816.2,1893.6 820.0,1910.0 C824.0,1927.1 830.2,1943.7 836.7,1960.0 C843.6,1977.6 851.8,1994.6 860.0,2011.7" fill="none" stroke="#000" stroke-width="1.3"/>
<path d="M820.0,1860.0 C821.6,1875.7 823.2,1891.3 826.7,1906.7 C830.5,1923.6 835.8,1940.3 841.7,1956.7 C848.1,1974.8 855.7,1992.4 863.3,2010.0" fill="none" stroke="#000" stroke-width="1.3"/>
<path d="M850.0,1860.0 C854.2,1876.7 858.4,1893.5 863.3,1910.0 C870.6,1934.6 883.2,1957.9 886.7,1983.3 C887.8,1991.7 882.2,1999.2 876.7,2006.7" fill="none" stroke="#000" stroke-width="1.3"/>
<path d="M876.7,1860.0 C880.1,1874.9 883.4,1889.7 890.0,1903.3 C898.0,1920.0 920.0,1931.5 920.0,1950.0 C920.0,1964.9 905.0,1974.1 890.0,1983.3" fill="none" stroke="#000" stroke-width="1.3"/>
<path d="M896.7,1860.0 C899.7,1872.3 902.8,1884.6 906.7,1896.7 C911.7,1912.4 917.5,1927.9 923.3,1943.3" fill="none" stroke="#000" stroke-width="1.3"/>
<path d="M1080.7,1890.0 L920.0,1950.0" fill="none" stroke="#000" stroke-width="2.4"/>
<path d="M1080.7,1893.3 C1026.6,1911.0 972.6,1928.6 921.7,1953.3 C907.5,1960.2 898.3,1974.5 888.3,1986.7 C882.6,1993.6 878.8,2001.8 875.0,2010.0" fill="none" stroke="#000" stroke-width="1.3"/>
<path d="M1030.0,1873.3 L1080.7,1866.7" fill="none" stroke="#000" stroke-width="1.3"/>
<path d="M890.0,1983.3 C925.5,1985.7 961.1,1988.1 996.7,1990.0 C1024.7,1991.5 1052.7,1992.4 1080.7,1993.3" fill="none" stroke="#000" stroke-width="1.3"/>
<path d="M880.0,2006.7 C918.9,2008.8 957.7,2011.0 996.7,2011.7 C1024.7,2012.1 1052.7,2011.1 1080.7,2010.0" fill="none" stroke="#000" stroke-width="1.3"/>
<path d="M920.0,1950.0 C934.4,1952.7 948.8,1955.5 963.3,1956.7 C1002.4,1959.9 1041.5,1961.6 1080.7,1963.3" fill="none" stroke="#000" stroke-width="1.3"/>
<path d="M828.3,1941.7 L843.3,1940.0" fill="none" stroke="#000" stroke-width="1.3"/>
<path d="M1056.7,1993.3 L1060.0,2026.7" fill="none" stroke="#000" stroke-width="1.3"/>
<path d="M1023.3,1860.0 C1026.9,1866.7 1030.4,1873.3 1036.7,1873.3 C1043.0,1873.3 1046.5,1866.7 1050.0,1860.0" fill="none" stroke="#000" stroke-width="1.3"/>
<path d="M581.7,2293.3 C577.3,2296.3 573.0,2299.2 570.0,2303.3 C562.4,2313.8 556.9,2325.7 550.0,2336.7 C545.8,2343.5 538.6,2348.9 536.7,2356.7 C535.0,2363.2 535.2,2371.9 540.0,2376.7 C546.7,2383.4 557.5,2389.3 566.7,2386.7 C576.5,2383.9 577.8,2368.5 586.7,2363.3 C599.7,2355.8 614.9,2352.9 630.0,2350.0" fill="none" stroke="#000" stroke-width="3" stroke-dasharray="8 6"/>
<path d="M570.0,2303.3 L600.0,2296.7 L613.3,2326.7 L590.0,2333.3 L570.0,2303.3" fill="none" stroke="#000" stroke-width="3" stroke-dasharray="6 4"/>
<path d="M576.7,2306.7 L596.7,2330.0" fill="none" stroke="#000" stroke-width="3" stroke-dasharray="5 3"/>
<path d="M586.7,2301.7 L605.0,2326.7" fill="none" stroke="#000" stroke-width="3" stroke-dasharray="5 3"/>
<path d="M580.0,2313.3 L601.7,2306.7" fill="none" stroke="#000" stroke-width="3" stroke-dasharray="5 3"/>
<path d="M586.7,2323.3 L608.3,2316.7" fill="none" stroke="#000" stroke-width="3" stroke-dasharray="5 3"/>
<path d="M540.0,2360.0 C549.7,2365.0 559.5,2370.0 570.0,2370.0 C574.7,2370.0 577.4,2365.0 580.0,2360.0" fill="none" stroke="#000" stroke-width="2.4" stroke-dasharray="6 4"/>
<path d="M847.5,2411.0 C845.4,2418.3 843.2,2425.7 837.8,2430.5 C828.9,2438.4 817.5,2443.3 806.3,2447.4 C790.7,2453.2 774.3,2456.6 757.9,2460.0" fill="none" stroke="#000" stroke-width="3" stroke-dasharray="8 6"/>
<path d="M741.0,2416.0 C735.0,2423.0 729.0,2430.0 724.0,2437.7 C720.1,2443.7 717.2,2450.4 714.3,2457.0" fill="none" stroke="#000" stroke-width="3" stroke-dasharray="8 6"/>
<path d="M738.5,2413.5 L794.2,2420.8 L782.1,2437.7 L733.7,2428.0Z" fill="none" stroke="#000" stroke-width="3" stroke-dasharray="6 4"/>
<path d="M745.0,2419.0 L788.0,2426.0" fill="none" stroke="#000" stroke-width="3" stroke-dasharray="5 3"/>
<path d="M742.0,2424.0 L785.0,2432.0" fill="none" stroke="#000" stroke-width="3" stroke-dasharray="5 3"/>
<path d="M775.0,2402.0 L815.0,2408.0" fill="none" stroke="#000" stroke-width="2.4" stroke-dasharray="6 4"/>
<path d="M770.0,2408.0 L820.0,2416.0" fill="none" stroke="#000" stroke-width="2.4" stroke-dasharray="5 4"/>
<path d="M211.0,2156.4 L559.0,2152.4" fill="none" stroke="#000" stroke-width="1.6"/>
<path d="M1076.7,2342.0 C1133.3,2309.1 1190.0,2276.2 1246.7,2243.3 C1302.2,2211.1 1357.8,2179.0 1413.3,2146.7 C1485.8,2104.5 1558.2,2062.3 1630.7,2020.0" fill="none" stroke="#000" stroke-width="3"/>
<path d="M1076.7,2318.7 C1133.3,2285.7 1189.9,2252.6 1246.7,2220.0 C1303.2,2187.5 1360.1,2155.7 1416.7,2123.3 C1488.1,2082.4 1559.4,2041.2 1630.7,2000.0" fill="none" stroke="#000" stroke-width="1.3"/>
<path d="M1076.7,2323.7 C1133.3,2290.7 1189.9,2257.7 1246.7,2225.0 C1302.1,2193.1 1357.7,2161.6 1413.3,2130.0 C1485.7,2088.8 1558.2,2047.7 1630.7,2006.7" fill="none" stroke="#000" stroke-width="1.3"/>
<path d="M1416.7,2125.0 L1411.7,2148.3" fill="none" stroke="#000" stroke-width="1.3"/>
<path d="M1076.7,2203.3 C1122.3,2177.8 1167.9,2152.4 1213.3,2126.7 C1262.3,2099.0 1311.3,2071.4 1360.0,2043.3 C1404.6,2017.6 1449.0,1991.3 1493.3,1965.0 C1533.4,1941.3 1573.3,1917.1 1613.3,1893.3 C1619.1,1889.9 1624.9,1886.6 1630.7,1883.3" fill="none" stroke="#000" stroke-width="1.3"/>
<path d="M1296.7,1940.0 C1302.0,1950.1 1307.3,1960.3 1313.3,1970.0 C1321.8,1983.6 1331.4,1996.5 1340.0,2010.0 C1347.0,2020.9 1353.3,2032.2 1360.0,2043.3 C1366.7,2054.4 1373.1,2065.7 1380.0,2076.7 C1386.4,2086.8 1392.7,2097.1 1400.0,2106.7 C1405.0,2113.2 1410.8,2119.1 1416.7,2125.0" fill="none" stroke="#000" stroke-width="1.3"/>
<path d="M1430.0,1866.7 C1435.5,1875.6 1441.0,1884.5 1446.7,1893.3 C1455.4,1906.8 1464.6,1919.9 1473.3,1933.3 C1480.1,1943.8 1486.8,1954.3 1493.3,1965.0 C1499.0,1974.3 1503.9,1984.2 1510.0,1993.3 C1516.2,2002.6 1523.3,2011.1 1530.0,2020.0 C1537.2,2029.5 1544.4,2038.9 1551.7,2048.3" fill="none" stroke="#000" stroke-width="1.3"/>
<path d="M1610.0,1895.0 L1630.7,1923.3" fill="none" stroke="#000" stroke-width="1.3"/>
<path d="M1080.0,2016.7 C1096.8,2013.9 1113.6,2011.0 1130.0,2006.7 C1147.0,2002.1 1163.7,1996.5 1180.0,1990.0 C1197.1,1983.2 1213.5,1974.9 1230.0,1966.7 C1246.9,1958.2 1263.4,1949.0 1280.0,1940.0 C1302.3,1927.9 1324.4,1915.6 1346.7,1903.3 C1368.9,1891.1 1391.0,1878.7 1413.3,1866.7 C1417.7,1864.3 1422.2,1862.1 1426.7,1860.0" fill="none" stroke="#000" stroke-width="3.2"/>
<path d="M1080.0,2025.0 C1102.5,2022.3 1125.0,2019.6 1146.7,2013.3 C1169.7,2006.7 1191.6,1996.8 1213.3,1986.7 C1241.7,1973.4 1269.1,1958.2 1296.7,1943.3 C1324.7,1928.2 1352.2,1912.1 1380.0,1896.7 C1402.2,1884.3 1424.4,1872.2 1446.7,1860.0" fill="none" stroke="#000" stroke-width="1.8"/>
<path d="M1080.0,2020.0 C1102.5,2017.3 1125.0,2014.6 1146.7,2008.3 C1169.7,2001.7 1191.6,1991.8 1213.3,1981.7 C1240.6,1969.0 1267.0,1954.5 1293.3,1940.0" fill="none" stroke="#000" stroke-width="1.3"/>
<path d="M1080.0,1873.3 C1102.2,1877.2 1124.3,1881.1 1146.7,1883.3 C1168.8,1885.5 1191.1,1887.3 1213.3,1886.7 C1231.2,1886.2 1249.4,1884.6 1266.7,1880.0 C1283.0,1875.6 1298.2,1867.8 1313.3,1860.0" fill="none" stroke="#000" stroke-width="1.3"/>
<path d="M1080.0,1880.0 C1102.1,1884.8 1124.2,1889.5 1146.7,1891.7 C1171.0,1894.0 1195.6,1895.5 1220.0,1893.3 C1240.4,1891.5 1260.2,1885.8 1280.0,1880.0" fill="none" stroke="#000" stroke-width="1.3"/>
<path d="M1080.0,1963.3 C1096.0,1963.5 1112.0,1963.7 1126.7,1958.3 C1149.3,1950.1 1167.6,1932.3 1190.0,1923.3 C1219.0,1911.7 1251.9,1910.4 1280.0,1896.7 C1296.3,1888.7 1308.1,1874.4 1320.0,1860.0" fill="none" stroke="#000" stroke-width="1.3"/>
<path d="M1080.0,1973.3 C1093.1,1978.0 1106.3,1982.6 1120.0,1983.3 C1129.2,1983.8 1138.1,1980.0 1146.7,1976.7 C1169.3,1967.8 1192.0,1958.4 1213.3,1946.7 C1236.6,1933.9 1258.5,1918.9 1280.0,1903.3 C1298.6,1889.9 1316.0,1875.0 1333.3,1860.0" fill="none" stroke="#000" stroke-width="1.3"/>
<path d="M1093.3,1960.0 L1190.0,1893.3" fill="none" stroke="#000" stroke-width="1.3"/>
<path d="M1130.0,1960.0 L1220.0,1886.7" fill="none" stroke="#000" stroke-width="1.3"/>
<path d="M1276.7,1903.3 L1283.3,1940.0" fill="none" stroke="#000" stroke-width="1.3"/>
<path d="M1123.3,1961.7 L1120.0,1983.3" fill="none" stroke="#000" stroke-width="1.3"/>
<path d="M1260.0,1953.3 L1265.0,1966.7" fill="none" stroke="#000" stroke-width="1.3"/>
<path d="M1190.0,1893.3 L1193.3,1885.0" fill="none" stroke="#000" stroke-width="1.3"/>
<path d="M1223.3,1893.3 L1226.7,1886.7" fill="none" stroke="#000" stroke-width="1.3"/>
<path d="M1080.0,2006.7 C1091.0,2003.3 1102.0,2000.0 1113.3,2000.0 C1127.9,2000.0 1142.3,2003.3 1156.7,2006.7" fill="none" stroke="#000" stroke-width="1.3"/>
<path d="M1186.7,2378.3 L1066.7,2441.7" fill="none" stroke="#000" stroke-width="1.6"/>
<path d="M1630.0,2019.4 C1666.6,1998.8 1703.2,1978.1 1739.0,1955.9 C1788.0,1925.4 1835.7,1892.7 1884.2,1861.5 C1920.4,1838.2 1957.1,1815.9 1993.2,1792.4 C2026.2,1771.1 2058.5,1748.7 2091.3,1727.1 C2119.0,1708.8 2147.1,1690.9 2174.8,1672.6 C2179.1,1669.7 2183.3,1666.6 2187.5,1663.5 C2186.2,1660.3 2185.0,1657.1 2182.1,1656.2 C2151.1,1646.7 2119.3,1639.7 2087.6,1632.6" fill="none" stroke="#000" stroke-width="3"/>
<path d="M1630.0,1994.0 C1652.0,1982.9 1674.0,1971.8 1695.4,1959.5 C1760.6,1922.1 1825.1,1883.5 1889.7,1845.1 C1917.7,1828.4 1945.6,1811.5 1973.2,1794.3 C2013.4,1769.2 2053.3,1743.7 2093.1,1718.0 C2118.1,1701.9 2142.8,1685.4 2167.5,1669.0" fill="none" stroke="#000" stroke-width="1.3"/>
<path d="M1630.0,1999.5 C1652.0,1988.4 1674.0,1977.3 1695.4,1965.0 C1758.8,1928.3 1821.4,1890.0 1884.2,1852.4 C1913.4,1834.9 1942.6,1817.7 1971.4,1799.7 C2011.6,1774.7 2051.4,1749.0 2091.3,1723.4 C2119.2,1705.5 2147.0,1687.2 2174.8,1669.0" fill="none" stroke="#000" stroke-width="1.3"/>
<path d="M1695.4,1959.5 L1691.7,1974.0" fill="none" stroke="#000" stroke-width="1.3"/>
<path d="M1889.7,1845.1 L1884.2,1861.5" fill="none" stroke="#000" stroke-width="1.3"/>
<path d="M1973.2,1794.3 L1969.6,1799.7" fill="none" stroke="#000" stroke-width="1.3"/>
<path d="M2093.1,1718.0 L2089.4,1727.1" fill="none" stroke="#000" stroke-width="1.3"/>
<path d="M2145.7,1654.4 L2167.5,1669.0" fill="none" stroke="#000" stroke-width="1.3"/>
<path d="M1630.0,1879.6 C1678.3,1848.0 1726.6,1816.3 1775.3,1785.2 C1817.4,1758.2 1859.9,1731.7 1902.4,1705.3" fill="none" stroke="#000" stroke-width="1.3"/>
<path d="M1902.4,1705.3 C1908.2,1715.1 1914.1,1724.9 1920.6,1734.3 C1927.4,1744.3 1934.5,1754.2 1942.4,1763.4 C1951.5,1774.2 1961.5,1784.2 1971.4,1794.3" fill="none" stroke="#000" stroke-width="1.3"/>
<path d="M1630.0,1926.8 C1635.9,1935.4 1641.7,1944.1 1648.2,1952.3 C1655.1,1961.0 1662.5,1969.4 1670.0,1977.7" fill="none" stroke="#000" stroke-width="1.3"/>
<path d="M1630.0,1665.3 C1654.2,1664.6 1678.5,1663.9 1702.6,1665.3 C1720.9,1666.4 1739.3,1668.4 1757.1,1672.6 C1775.8,1676.9 1793.4,1684.9 1811.6,1690.8 C1823.6,1694.6 1835.3,1700.8 1847.9,1701.6 C1872.1,1703.3 1896.4,1700.4 1920.6,1698.0 C1944.9,1695.6 1969.4,1692.7 1993.2,1687.1 C2005.9,1684.2 2018.6,1679.7 2029.5,1672.6 C2043.2,1663.7 2052.4,1649.1 2065.8,1639.9 C2072.2,1635.6 2079.9,1634.1 2087.6,1632.6" fill="none" stroke="#000" stroke-width="3"/>
<path d="M1651.8,1650.8 C1674.8,1647.9 1697.7,1645.0 1720.8,1645.4 C1733.1,1645.6 1745.4,1648.8 1757.1,1652.6 C1773.4,1657.9 1788.1,1667.4 1804.3,1672.6 C1818.5,1677.1 1833.1,1681.2 1847.9,1681.7 C1872.2,1682.4 1896.4,1678.3 1920.6,1676.2 C1944.8,1674.1 1969.2,1673.0 1993.2,1669.0 C2005.7,1666.9 2018.5,1664.2 2029.5,1658.1 C2040.8,1651.8 2049.0,1641.2 2058.6,1632.6 C2070.8,1621.8 2082.8,1610.9 2094.9,1600.0" fill="none" stroke="#000" stroke-width="2.4"/>
<path d="M1659.1,1655.2 C1685.7,1651.9 1712.4,1648.6 1739.0,1650.8 C1754.2,1652.1 1767.9,1660.8 1782.5,1665.3 C1799.4,1670.5 1815.9,1677.4 1833.4,1679.9 C1850.2,1682.3 1867.3,1680.9 1884.2,1679.9 C1908.5,1678.4 1932.7,1675.6 1956.9,1672.6 C1976.3,1670.2 1996.5,1670.2 2015.0,1663.5 C2027.6,1659.0 2037.3,1648.4 2047.7,1639.9 C2060.3,1629.6 2072.2,1618.4 2084.0,1607.2" fill="none" stroke="#000" stroke-width="3.5"/>
<path d="M1630.0,1650.8 C1697.9,1623.1 1765.7,1595.5 1833.4,1567.3 C1838.4,1565.2 1843.2,1562.6 1847.9,1560.0" fill="none" stroke="#000" stroke-width="2.6"/>
<path d="M1775.3,1650.8 L1833.4,1567.3" fill="none" stroke="#000" stroke-width="2.6"/>
<path d="M1851.6,1560.0 L1862.4,1669.0" fill="none" stroke="#000" stroke-width="2.6"/>
<path d="M1847.9,1643.5 L1818.9,1669.0" fill="none" stroke="#000" stroke-width="1.3"/>
<path d="M1857.0,1560.0 L1867.9,1665.3" fill="none" stroke="#000" stroke-width="1.3"/>
<path d="M1871.5,1570.9 C1875.3,1566.9 1879.1,1562.9 1884.2,1561.8 C1891.4,1560.3 1899.5,1560.4 1906.0,1563.6 C1916.0,1568.6 1924.3,1576.8 1931.5,1585.4 C1936.7,1591.7 1939.2,1599.7 1942.4,1607.2 C1945.3,1614.3 1947.5,1621.6 1949.6,1629.0" fill="none" stroke="#000" stroke-width="2"/>
<path d="M1880.6,1567.3 C1888.2,1566.6 1895.8,1565.9 1902.4,1569.1 C1911.7,1573.5 1919.3,1581.3 1926.0,1589.1 C1931.0,1594.8 1933.8,1602.1 1936.9,1609.0 C1939.8,1615.5 1942.0,1622.2 1944.2,1629.0" fill="none" stroke="#000" stroke-width="1.3"/>
<path d="M1871.5,1570.9 L1877.0,1632.6 L1891.5,1638.1 L1953.2,1634.5 L1953.2,1650.8 L1884.2,1669.0 L1880.6,1654.4" fill="none" stroke="#000" stroke-width="2.2"/>
<path d="M1904.2,1590.9 L1916.9,1592.7 L1918.7,1605.4 L1906.0,1603.6Z" fill="none" stroke="#000" stroke-width="1.8"/>
<path d="M1904.2,1603.6 L1918.7,1592.7" fill="none" stroke="#000" stroke-width="1.3"/>
<path d="M1984.1,1592.7 L1971.4,1669.0" fill="none" stroke="#000" stroke-width="2.6"/>
<path d="M1987.8,1594.5 L2033.2,1658.1" fill="none" stroke="#000" stroke-width="2.6"/>
<path d="M2007.7,1600.0 L2029.5,1632.6" fill="none" stroke="#000" stroke-width="1.3"/>
<path d="M1989.6,1596.3 L2000.5,1665.3" fill="none" stroke="#000" stroke-width="1.3"/>
<path d="M1984.1,1592.7 C1990.9,1593.5 1997.6,1594.3 2004.1,1596.3 C2024.9,1602.8 2045.4,1610.5 2065.8,1618.1" fill="none" stroke="#000" stroke-width="1.3"/>
<path d="M1927.8,1560.0 C1949.2,1571.9 1970.5,1583.7 1993.2,1592.7 C2016.7,1602.0 2041.3,1608.2 2065.8,1614.5" fill="none" stroke="#000" stroke-width="2.2"/>
<path d="M2064.0,1614.5 C2069.8,1606.5 2075.5,1598.5 2084.0,1594.5 C2088.5,1592.4 2094.8,1594.8 2098.5,1598.1 C2105.7,1604.5 2111.0,1613.0 2114.9,1621.7 C2116.1,1624.6 2116.1,1630.1 2113.1,1630.8 C2105.9,1632.5 2095.1,1633.5 2091.3,1627.2 C2087.6,1621.2 2093.0,1614.2 2098.5,1607.2" fill="none" stroke="#000" stroke-width="2.4"/>
<path d="M2069.5,1618.1 C2075.0,1611.3 2080.4,1604.6 2087.6,1600.0 C2089.7,1598.6 2092.3,1600.2 2094.9,1601.8" fill="none" stroke="#000" stroke-width="1.3"/>
<path d="M1630.0,1730.7 C1642.1,1729.6 1654.2,1728.5 1666.3,1727.1 C1674.8,1726.1 1684.2,1727.4 1691.7,1723.4 C1712.6,1712.6 1731.2,1698.0 1749.9,1683.5" fill="none" stroke="#000" stroke-width="1.3"/>
<path d="M1630.0,1738.0 C1644.6,1737.1 1659.1,1736.2 1673.6,1734.3 C1682.2,1733.2 1690.6,1731.0 1699.0,1728.9" fill="none" stroke="#000" stroke-width="1.3"/>
<path d="M1630.0,1676.2 L1720.8,1669.0" fill="none" stroke="#000" stroke-width="1.3"/>
<path d="M1630.0,1716.2 L1702.6,1669.0" fill="none" stroke="#000" stroke-width="1.3"/>
<path d="M1630.0,1705.3 L1684.5,1669.0" fill="none" stroke="#000" stroke-width="1.3"/>
<path d="M1960.5,1685.3 L1964.1,1692.6" fill="none" stroke="#000" stroke-width="1.3"/>
<path d="M1975.0,1681.7 L1978.7,1688.9" fill="none" stroke="#000" stroke-width="1.3"/>
<path d="M1993.2,1678.0 L1998.6,1685.3" fill="none" stroke="#000" stroke-width="1.3"/>
<path d="M1630.0,1645.4 C1634.8,1642.9 1639.7,1640.5 1644.5,1641.7 C1648.3,1642.7 1650.0,1646.7 1651.8,1650.8" fill="none" stroke="#000" stroke-width="1.3"/>
<path d="M2030.2,2074.4 L2189.7,2148.8" fill="none" stroke="#000" stroke-width="1.6"/>
<path d="M1984.1,1807.0 L1987.8,1850.6 L1993.2,1937.7" fill="none" stroke="#000" stroke-width="1.6" stroke-dasharray="22 10 6 10"/>
</g>
<g>
<path d="M514.0,753.5 L497.5,752.5 L491.0,757.5 C480.7,775.0 470.4,792.5 460.0,810.0 C450.1,826.7 439.4,843.0 430.0,860.0 C422.8,873.0 415.7,886.2 410.0,900.0 C406.7,908.0 403.2,916.3 403.0,925.0 C402.8,933.2 404.8,941.9 409.0,949.0 C413.8,957.1 421.1,963.8 429.0,969.0 C438.4,975.2 449.3,979.1 460.0,982.5 C471.4,986.1 483.1,989.5 495.0,990.0 C503.5,990.4 512.1,988.1 520.0,985.0 C527.3,982.2 533.8,977.3 540.0,972.5 C563.8,954.0 587.2,934.8 610.0,915.0 C630.9,896.9 650.9,878.0 671.0,859.0 C671.8,854.9 672.7,850.8 675.0,847.5 C676.7,845.0 679.6,843.8 682.5,842.5 C684.1,838.6 685.6,834.6 689.0,832.5 C695.3,828.5 702.6,825.0 710.0,825.0 C717.9,825.0 725.8,828.3 732.5,832.5 C738.2,836.1 741.8,842.2 746.0,847.5 C754.3,858.1 762.3,869.0 770.0,880.0 C780.3,894.8 790.3,909.8 800.0,925.0 C807.8,937.3 816.0,949.5 822.5,962.5 C826.9,971.2 832.0,980.3 832.5,990.0 C832.9,998.7 828.9,1007.2 825.0,1015.0 C818.0,1029.1 808.9,1042.0 800.0,1055.0 C787.2,1073.7 773.3,1091.7 760.0,1110.0 C753.3,1119.2 745.5,1127.6 740.0,1137.5 C736.2,1144.4 735.0,1152.5 732.5,1160.0 C730.0,1167.5 729.1,1175.8 725.0,1182.5 C719.8,1191.1 712.0,1197.8 705.0,1205.0 C690.3,1220.3 675.4,1235.4 660.0,1250.0 C643.7,1265.4 627.1,1280.5 610.0,1295.0 C600.4,1303.1 590.9,1311.3 580.0,1317.5 C567.4,1324.7 553.8,1330.4 540.0,1335.0 C523.7,1340.4 506.9,1344.7 490.0,1347.5 C463.5,1351.9 436.8,1354.5 410.0,1356.5 C376.7,1359.0 343.4,1360.3 310.0,1361.0 C276.7,1361.7 243.3,1360.9 210.0,1360.5 C178.7,1360.1 147.3,1359.3 116.0,1358.5 C114.4,1355.4 112.7,1352.3 111.5,1349.0 C106.6,1336.1 101.3,1323.3 97.5,1310.0 C92.8,1293.6 88.2,1277.0 86.0,1260.0 C82.7,1235.2 81.4,1210.1 81.0,1185.0 C80.6,1160.0 81.2,1134.9 83.5,1110.0 C85.1,1093.1 88.2,1076.4 92.5,1060.0 C97.0,1042.9 102.8,1026.1 110.0,1010.0 C117.0,994.3 125.8,979.5 135.0,965.0 C145.9,947.8 157.7,931.2 170.0,915.0 C180.2,901.5 190.4,887.8 202.5,876.0 C218.8,860.2 238.4,848.0 255.0,832.5 C270.9,817.6 285.5,801.3 300.0,785.0 C313.8,769.6 326.3,753.0 340.0,737.5 C344.7,732.2 349.0,726.2 355.0,722.5 C364.2,716.9 374.5,712.5 385.0,710.0 C400.5,706.3 416.6,705.3 432.5,704.0 C447.5,702.8 462.5,702.3 477.5,702.5 C488.4,702.6 499.3,702.9 510.0,705.0 C516.2,706.2 522.6,708.4 527.5,712.5 C530.2,714.8 531.0,719.0 531.0,722.5 C531.0,727.1 529.7,731.9 527.5,736.0 C524.0,742.5 519.0,748.0 514.0,753.5Z" fill="none" stroke="#000" stroke-width="3"/>
<path d="M477.5,707.5 C482.9,710.6 488.3,713.6 489.0,719.0 C489.8,724.9 484.1,729.9 481.0,735.0 C474.4,746.1 467.3,756.9 460.0,767.5 C443.7,791.1 427.3,814.6 410.0,837.5 C396.4,855.5 381.6,872.5 367.5,890.0 C360.8,898.3 351.9,905.3 347.5,915.0 C344.1,922.6 344.0,931.7 345.0,940.0 C346.5,952.0 349.7,964.1 355.0,975.0 C360.2,985.6 368.1,994.6 376.0,1003.5" fill="none" stroke="#000" stroke-width="1.3"/>
<path d="M494.0,706.5 C497.3,710.7 500.6,714.9 501.0,720.0 C501.4,725.3 498.7,730.5 496.0,735.0 C488.3,748.1 478.8,760.1 470.0,772.5 C453.4,795.9 437.1,819.5 420.0,842.5 C407.1,860.0 393.6,877.0 380.0,894.0 C373.9,901.6 365.4,907.4 361.0,916.0 C357.7,922.5 357.3,930.3 358.0,937.5 C359.0,947.3 362.3,956.8 366.0,966.0 C370.6,977.4 376.5,988.2 382.5,999.0" fill="none" stroke="#000" stroke-width="1.3"/>
<path d="M376.0,1003.5 C387.3,1006.3 398.6,1009.0 410.0,1011.0 C426.6,1013.9 443.3,1016.2 460.0,1018.0 C471.6,1019.2 483.4,1021.0 495.0,1020.0 C505.3,1019.1 515.9,1017.3 525.0,1012.5 C538.0,1005.7 548.5,995.1 560.0,986.0 C576.9,972.6 593.7,959.2 610.0,945.0 C632.4,925.5 654.8,905.9 676.0,885.0 C681.9,879.1 684.9,870.7 691.0,865.0 C694.8,861.4 699.8,858.7 705.0,858.0 C710.1,857.3 715.5,858.6 720.0,861.0 C724.2,863.2 727.0,867.3 730.0,871.0 C740.4,883.7 750.5,896.7 760.0,910.0 C770.5,924.7 781.2,939.3 790.0,955.0 C794.3,962.7 798.0,971.2 799.0,980.0 C799.8,987.1 798.4,994.8 795.0,1001.0 C785.2,1018.8 771.5,1034.2 760.0,1051.0 C746.8,1070.2 732.9,1089.0 721.0,1109.0 C717.2,1115.4 714.6,1122.7 713.0,1130.0 C710.9,1139.8 711.9,1150.1 710.0,1160.0 C708.9,1165.6 707.5,1171.5 704.0,1176.0 C690.6,1193.4 675.3,1209.3 660.0,1225.0 C644.0,1241.5 626.7,1256.7 610.0,1272.5 C598.4,1283.4 588.0,1295.8 575.0,1305.0 C562.7,1313.7 549.1,1320.8 535.0,1326.0 C518.9,1331.9 501.9,1335.3 485.0,1338.0 C460.2,1342.0 435.1,1344.3 410.0,1346.0 C376.7,1348.3 343.4,1349.6 310.0,1350.0 C276.7,1350.4 243.3,1349.6 210.0,1348.5 C179.1,1347.5 148.3,1345.5 117.5,1343.5" fill="none" stroke="#000" stroke-width="1.3"/>
<path d="M382.5,999.0 C391.6,1001.3 400.7,1003.6 410.0,1005.0 C426.6,1007.6 443.3,1009.4 460.0,1011.0 C471.3,1012.1 482.7,1013.9 494.0,1013.0 C502.9,1012.3 512.1,1010.3 520.0,1006.0 C532.8,999.1 543.5,988.9 555.0,980.0 C573.5,965.6 592.5,951.6 610.0,936.0 C631.8,916.6 652.7,896.1 673.0,875.0 C679.1,868.7 682.1,859.5 689.0,854.0 C694.0,850.1 700.7,848.2 707.0,848.0 C713.9,847.8 720.9,849.9 727.0,853.0 C732.2,855.7 736.2,860.5 740.0,865.0 C750.6,877.8 760.6,891.3 770.0,905.0 C780.6,920.4 791.2,936.0 800.0,952.5 C804.6,961.1 809.1,970.3 810.0,980.0 C810.8,988.5 808.8,997.4 805.0,1005.0 C795.3,1024.4 782.2,1042.0 770.0,1060.0 C757.2,1079.0 742.5,1096.8 730.0,1116.0 C726.2,1121.9 722.8,1128.2 721.0,1135.0 C718.8,1143.1 720.0,1151.8 718.0,1160.0 C716.3,1167.3 714.5,1175.0 710.0,1181.0 C696.9,1198.6 681.4,1214.3 666.0,1230.0 C649.7,1246.7 632.1,1262.1 615.0,1278.0 C603.4,1288.8 593.0,1301.0 580.0,1310.0 C567.7,1318.5 554.0,1325.0 540.0,1330.0 C523.9,1335.7 506.9,1339.3 490.0,1342.0 C463.5,1346.3 436.8,1349.1 410.0,1351.0 C376.7,1353.4 343.4,1354.5 310.0,1355.0 C276.7,1355.5 243.3,1354.9 210.0,1354.0 C178.6,1353.2 147.3,1351.6 116.0,1350.0" fill="none" stroke="#000" stroke-width="1.3"/>
<path d="M116.0,1344.0 C201.2,1228.7 286.5,1113.5 376.0,1001.5 C383.2,992.5 394.9,988.1 405.0,982.5 C413.8,977.6 423.1,973.8 432.5,970.0" fill="none" stroke="#000" stroke-width="1.3"/>
<path d="M119.0,1346.0 C204.1,1231.1 289.1,1116.2 379.0,1005.0 C386.6,995.6 399.6,992.2 410.0,986.0 C417.9,981.2 426.0,976.6 434.0,972.0" fill="none" stroke="#000" stroke-width="1.3"/>
<path d="M366.0,891.0 L410.0,895.0" fill="none" stroke="#000" stroke-width="1.3"/>
<path d="M345.0,932.5 C353.5,932.1 362.0,931.8 370.0,934.0 C382.2,937.4 394.2,942.4 405.0,949.0 C413.6,954.2 420.5,961.6 427.5,969.0" fill="none" stroke="#000" stroke-width="1.3"/>
<path d="M477.5,988.0 C480.6,992.7 483.7,997.4 486.0,1002.5 C488.2,1007.5 489.6,1012.7 491.0,1018.0" fill="none" stroke="#000" stroke-width="1.3"/>
<path d="M540.0,973.0 L543.0,990.0" fill="none" stroke="#000" stroke-width="1.3"/>
<path d="M689.0,833.0 L693.0,854.0" fill="none" stroke="#000" stroke-width="1.3"/>
<path d="M741.0,846.0 L729.0,861.0" fill="none" stroke="#000" stroke-width="1.3"/>
<path d="M799.0,963.0 L824.0,960.0" fill="none" stroke="#000" stroke-width="1.3"/>
<path d="M797.0,1001.0 L825.0,1014.0" fill="none" stroke="#000" stroke-width="1.3"/>
<path d="M720.0,1112.5 L741.0,1136.0" fill="none" stroke="#000" stroke-width="1.3"/>
<path d="M709.0,1175.0 L726.0,1183.0" fill="none" stroke="#000" stroke-width="1.3"/>
<path d="M607.0,1275.0 L625.0,1291.0" fill="none" stroke="#000" stroke-width="1.3"/>
<path d="M479.0,1335.0 L491.0,1348.0" fill="none" stroke="#000" stroke-width="1.3"/>
<path d="M512.5,740.0 L482.5,735.0" fill="none" stroke="#000" stroke-width="1.3"/>
<path d="M117.0,1343.0 C111.6,1329.6 106.2,1316.3 102.0,1302.5 C97.2,1286.9 92.3,1271.2 90.0,1255.0 C86.7,1231.8 85.5,1208.4 85.0,1185.0 C84.5,1160.8 84.8,1136.6 87.0,1112.5 C88.5,1095.6 91.7,1078.9 96.0,1062.5 C100.4,1045.5 106.7,1029.0 113.0,1012.5" fill="none" stroke="#000" stroke-width="1.3"/>
<path d="M985.9,532.6 C998.0,538.1 1010.2,543.6 1022.2,549.3 C1039.3,557.4 1056.9,564.6 1073.4,573.9 C1088.4,582.4 1102.8,592.1 1116.6,602.4 C1127.1,610.2 1136.7,619.0 1146.1,628.0 C1152.5,634.1 1158.2,640.8 1163.8,647.6 C1167.4,652.0 1171.1,656.4 1173.7,661.4 C1175.5,665.0 1176.3,669.2 1176.6,673.2 C1177.6,684.3 1177.2,695.5 1177.6,706.6 C1178.5,730.9 1179.5,755.1 1180.5,779.4 L1169.7,780.4 C1160.8,791.4 1151.8,802.4 1142.2,812.8 C1114.5,842.7 1086.1,872.0 1057.6,901.3 L1054.7,911.1 L1045.8,913.1 L1018.3,925.9 C1016.1,921.7 1013.8,917.6 1012.4,913.1 C1007.3,896.9 1003.3,880.3 998.7,863.9 C992.1,841.0 985.1,818.2 979.0,795.1 C972.0,769.0 965.3,742.8 959.3,716.5 C954.2,693.6 949.9,670.6 945.6,647.6 C943.1,634.6 940.0,621.6 938.7,608.3 C938.3,604.3 939.3,600.3 940.6,596.5 C941.6,593.9 943.6,591.8 945.6,589.6 L985.9,532.6Z" fill="none" stroke="#000" stroke-width="3"/>
<path d="M982.9,535.6 C970.6,554.4 958.2,573.3 946.5,592.6 C945.1,595.0 943.7,597.7 943.6,600.4 C943.3,609.6 944.2,618.9 945.6,628.0 C949.5,654.3 954.1,680.5 959.3,706.6 C964.6,733.0 970.8,759.1 977.0,785.3 C982.6,808.9 988.6,832.5 994.7,856.1 C998.5,870.5 1001.5,885.2 1006.5,899.3 C1009.4,907.6 1013.9,915.3 1018.3,922.9" fill="none" stroke="#000" stroke-width="1.3"/>
<path d="M947.5,592.6 C948.6,604.4 949.6,616.2 951.5,628.0 C955.5,654.3 960.0,680.5 965.2,706.6 C970.5,733.0 976.9,759.1 982.9,785.3 C988.0,807.6 993.2,829.9 998.7,852.1 C999.5,855.5 1000.5,858.7 1001.6,862.0" fill="none" stroke="#000" stroke-width="1.3"/>
<path d="M1163.8,647.6 C1164.7,654.2 1165.5,660.7 1165.8,667.3 C1166.2,675.8 1165.6,684.3 1165.8,692.9 C1166.3,720.1 1166.5,747.3 1167.8,774.5 C1167.8,776.5 1168.8,778.5 1169.7,780.4" fill="none" stroke="#000" stroke-width="1.3"/>
<path d="M1166.8,673.6 L1176.6,673.6" fill="none" stroke="#000" stroke-width="1.3"/>
<path d="M1167.8,774.5 C1158.6,784.6 1149.4,794.8 1140.2,804.9 C1112.7,835.1 1084.9,865.0 1057.6,895.4 C1056.1,897.2 1055.6,899.9 1053.7,901.3 C1043.7,908.5 1033.0,914.7 1022.2,921.0" fill="none" stroke="#000" stroke-width="1.3"/>
<path d="M1162.8,692.9 C1147.0,702.1 1131.2,711.3 1116.6,722.4 C1102.6,733.0 1089.4,744.9 1077.3,757.8 C1066.4,769.3 1057.0,782.2 1047.8,795.1 C1041.2,804.5 1035.6,814.6 1030.1,824.6 C1028.4,827.7 1028.1,831.5 1026.2,834.4 C1022.8,839.5 1018.7,843.9 1014.4,848.2 C1010.8,851.8 1006.2,854.4 1002.6,858.0 C1000.9,859.7 998.7,861.6 998.7,863.9 C998.7,870.6 1000.9,877.1 1002.6,883.6 C1004.2,889.6 1006.3,895.5 1008.5,901.3" fill="none" stroke="#000" stroke-width="1.3"/>
<path d="M1162.8,695.2 C1147.7,704.8 1132.7,714.3 1118.6,725.3 C1105.1,735.9 1092.0,747.2 1080.3,759.7 C1069.4,771.3 1060.0,784.2 1050.8,797.1 C1044.5,805.8 1039.2,815.2 1034.0,824.6 C1032.3,827.7 1031.2,831.1 1030.1,834.4" fill="none" stroke="#000" stroke-width="1.3"/>
<path d="M1163.8,694.8 C1155.2,712.2 1146.6,729.6 1136.3,746.0 C1124.3,765.0 1110.3,782.8 1097.0,801.0 C1087.3,814.3 1077.4,827.3 1067.5,840.3 C1063.0,846.3 1059.0,852.8 1053.7,858.0 C1049.1,862.7 1043.8,866.9 1038.0,869.8 C1028.0,874.8 1017.2,878.2 1006.5,881.6" fill="none" stroke="#000" stroke-width="1.3"/>
<path d="M1163.8,697.8 C1143.6,733.7 1123.4,769.5 1100.9,804.0 C1088.0,823.7 1072.3,841.5 1057.6,860.0 C1053.9,864.7 1050.3,869.7 1045.8,873.8 C1043.7,875.7 1040.7,876.5 1038.0,877.7 C1028.2,882.1 1018.3,886.3 1008.5,890.5" fill="none" stroke="#000" stroke-width="1.3"/>
<path d="M1013.4,851.2 L1032.1,878.7" fill="none" stroke="#000" stroke-width="1.3"/>
<path d="M1030.1,834.4 L1050.8,860.0" fill="none" stroke="#000" stroke-width="1.3"/>
<path d="M1126.5,822.6 L1144.2,810.8 L1145.1,816.7 L1131.4,829.5Z" fill="none" stroke="#000" stroke-width="2"/>
<path d="M1039.9,911.1 L1053.7,903.3 L1054.7,911.1" fill="none" stroke="#000" stroke-width="2"/>
<path d="M1144.0,466.0 L1072.5,572.5" fill="none" stroke="#000" stroke-width="1.6"/>
<path d="M1583.0,617.5 C1583.5,615.2 1584.0,612.9 1585.5,611.2 C1588.1,608.4 1591.6,606.4 1595.0,604.5 C1606.9,610.5 1618.8,616.6 1630.0,623.8 C1647.1,634.7 1664.1,646.0 1680.0,658.8 C1697.5,672.8 1713.9,688.1 1730.0,703.8 C1737.3,710.9 1744.1,718.6 1750.0,727.0 C1755.0,734.1 1759.2,741.9 1762.5,750.0 C1766.8,760.5 1769.9,771.5 1772.5,782.5 C1774.1,789.0 1775.6,795.8 1775.0,802.5 C1774.7,805.6 1772.8,809.0 1770.0,810.5 C1766.3,812.5 1761.6,812.9 1757.5,812.0 C1754.4,811.3 1752.2,808.8 1750.0,806.2" fill="none" stroke="#000" stroke-width="3"/>
<path d="M1583.0,617.5 C1585.1,623.5 1587.1,629.4 1590.0,635.0 C1594.5,643.6 1599.3,652.1 1605.0,660.0 C1612.7,670.5 1621.4,680.3 1630.0,690.0 C1634.3,694.9 1639.0,699.3 1643.8,703.8" fill="none" stroke="#000" stroke-width="2.5"/>
<path d="M1690.0,745.0 C1703.8,756.2 1717.6,767.3 1730.0,780.0 C1737.7,787.9 1743.8,797.1 1750.0,806.2" fill="none" stroke="#000" stroke-width="2.5"/>
<path d="M1592.5,614.5 C1605.0,623.0 1617.6,631.4 1630.0,640.0 C1646.7,651.6 1663.7,662.8 1680.0,675.0 C1697.1,687.8 1714.3,700.5 1730.0,715.0 C1735.3,719.9 1739.1,726.2 1742.5,732.5 C1745.9,738.8 1748.1,745.6 1750.0,752.5 C1753.9,766.5 1756.9,780.8 1760.0,795.0 C1761.1,800.1 1761.8,805.3 1762.5,810.5" fill="none" stroke="#000" stroke-width="2"/>
<path d="M1596.5,608.0 C1607.8,614.2 1619.2,620.4 1630.0,627.5 C1647.0,638.6 1664.1,649.8 1680.0,662.5 C1697.5,676.5 1714.0,691.8 1730.0,707.5 C1736.5,713.9 1742.4,721.1 1747.5,728.8 C1752.0,735.4 1755.4,742.7 1758.8,750.0" fill="none" stroke="#000" stroke-width="2"/>
<path d="M1585.5,611.2 C1588.6,611.7 1591.6,612.1 1592.5,614.5 C1593.3,616.6 1591.0,618.3 1588.8,620.0" fill="none" stroke="#000" stroke-width="1.3"/>
<path d="M1735.0,718.8 L1742.5,711.2" fill="none" stroke="#000" stroke-width="1.3"/>
<path d="M1747.5,747.5 L1761.2,745.0" fill="none" stroke="#000" stroke-width="1.3"/>
<path d="M1757.5,812.0 L1770.0,806.2" fill="none" stroke="#000" stroke-width="1.3"/>
<path d="M1643.0,718.8 C1642.0,715.0 1640.9,711.2 1641.5,707.5 C1642.5,701.4 1645.1,695.7 1647.5,690.0 C1649.6,685.2 1650.2,678.3 1655.0,676.2 C1659.1,674.5 1664.0,678.5 1667.5,681.2 C1674.2,686.6 1679.6,693.3 1685.0,700.0 C1690.1,706.3 1694.6,713.0 1698.8,720.0 C1701.1,723.9 1702.7,728.2 1704.2,732.5" fill="none" stroke="#000" stroke-width="2.2"/>
<path d="M1648.8,716.2 C1647.9,713.3 1647.0,710.4 1647.5,707.5 C1648.3,702.3 1650.5,697.4 1652.5,692.5 C1654.3,688.2 1654.5,681.8 1658.8,680.0 C1662.5,678.4 1667.0,682.2 1670.0,685.0 C1675.9,690.4 1680.4,697.2 1685.0,703.8 C1689.2,709.7 1692.9,716.0 1696.2,722.5 C1697.9,725.7 1698.9,729.1 1700.0,732.5" fill="none" stroke="#000" stroke-width="1.3"/>
<path d="M1648.8,707.5 C1650.8,705.4 1654.9,706.1 1657.5,707.5 C1661.7,709.7 1664.9,713.5 1667.5,717.5 C1670.5,722.0 1673.0,727.1 1673.8,732.5 C1674.3,736.3 1674.1,741.2 1671.2,743.8 C1669.0,745.7 1665.0,744.0 1662.5,742.5 C1657.7,739.7 1653.2,735.9 1650.0,731.2 C1647.5,727.7 1646.5,723.1 1646.2,718.8 C1646.0,714.9 1646.0,710.2 1648.8,707.5Z" fill="none" stroke="#000" stroke-width="2.2"/>
<path d="M1648.8,707.5 C1653.1,704.0 1657.4,700.4 1662.5,700.5 C1668.8,700.6 1675.3,703.8 1680.0,708.0 C1685.7,713.2 1690.2,720.1 1692.5,727.5 C1693.9,732.2 1694.3,738.9 1690.5,742.0 C1685.5,746.1 1678.4,745.6 1671.2,745.0" fill="none" stroke="#000" stroke-width="2.2"/>
<path d="M1655.0,707.5 C1659.2,705.8 1663.4,704.0 1667.5,705.0 C1672.8,706.3 1677.7,709.6 1681.2,713.8 C1685.1,718.3 1687.7,724.1 1688.8,730.0 C1689.4,733.8 1687.8,737.5 1686.2,741.2" fill="none" stroke="#000" stroke-width="1.3"/>
<path d="M1644.5,723.0 L1615.0,749.5" fill="none" stroke="#000" stroke-width="2.2"/>
<path d="M1652.0,735.5 L1620.5,760.5" fill="none" stroke="#000" stroke-width="2.2"/>
<path d="M1615.0,749.5 C1613.5,750.8 1612.0,752.0 1612.0,753.8 C1612.0,756.1 1613.2,758.6 1615.0,760.0 C1616.4,761.1 1618.5,760.8 1620.5,760.5" fill="none" stroke="#000" stroke-width="2.2"/>
<path d="M1642.0,721.2 C1644.7,719.6 1647.5,717.9 1649.5,719.5 C1653.4,722.5 1656.3,727.6 1656.5,732.5 C1656.7,735.6 1653.6,737.5 1650.5,739.5" fill="none" stroke="#000" stroke-width="2.2"/>
<path d="M1686.2,731.2 C1688.9,727.3 1695.3,726.0 1700.0,727.0 C1702.8,727.6 1704.6,732.6 1703.0,735.0 C1700.3,739.0 1694.8,742.8 1690.0,741.8 C1686.4,740.9 1684.2,734.3 1686.2,731.2Z" fill="none" stroke="#000" stroke-width="2.2"/>
<path d="M1688.8,736.2 L1701.2,731.2" fill="none" stroke="#000" stroke-width="1.3"/>
<ellipse cx="1626.2" cy="663.8" rx="3.2" ry="8.5" transform="rotate(-28 1626.2 663.8)" fill="#555" stroke="#000" stroke-width="1.5"/>
<ellipse cx="1721.2" cy="730.0" rx="3.2" ry="7.5" transform="rotate(-28 1721.2 730.0)" fill="#555" stroke="#000" stroke-width="1.5"/>
<ellipse cx="1733.8" cy="775.0" rx="3.8" ry="8.0" transform="rotate(-28 1733.8 775.0)" fill="#555" stroke="#000" stroke-width="1.5"/>
<path d="M1555.0,533.8 L1592.5,606.2" fill="none" stroke="#000" stroke-width="1.6"/>
<path d="M1403.0,642.0 L1526.2,808.8" fill="none" stroke="#000" stroke-width="1.6"/>
<path d="M1347.5,767.5 L1476.2,848.8" fill="none" stroke="#000" stroke-width="1.6"/>
<path d="M1612.0,758.0 L1158.0,1081.0" fill="none" stroke="#000" stroke-width="1.6" stroke-dasharray="13 8"/>
<ellipse cx="1517.8" cy="825.8" rx="5" ry="13.5" transform="rotate(-35 1517.8 825.8)" fill="none" stroke="#000" stroke-width="2.2"/>
<ellipse cx="1520.5" cy="823.9" rx="5" ry="13.5" transform="rotate(-35 1520.5 823.9)" fill="none" stroke="#000" stroke-width="2.2"/>
<ellipse cx="1523.3" cy="821.9" rx="5" ry="13.5" transform="rotate(-35 1523.3 821.9)" fill="none" stroke="#000" stroke-width="2.2"/>
<ellipse cx="1526.1" cy="820.0" rx="5" ry="13.5" transform="rotate(-35 1526.1 820.0)" fill="none" stroke="#000" stroke-width="2.2"/>
<ellipse cx="1528.9" cy="818.0" rx="5" ry="13.5" transform="rotate(-35 1528.9 818.0)" fill="none" stroke="#000" stroke-width="2.2"/>
<ellipse cx="1531.7" cy="816.1" rx="5" ry="13.5" transform="rotate(-35 1531.7 816.1)" fill="none" stroke="#000" stroke-width="2.2"/>
<ellipse cx="1534.5" cy="814.1" rx="5" ry="13.5" transform="rotate(-35 1534.5 814.1)" fill="none" stroke="#000" stroke-width="2.2"/>
<ellipse cx="1537.2" cy="812.2" rx="5" ry="13.5" transform="rotate(-35 1537.2 812.2)" fill="none" stroke="#000" stroke-width="2.2"/>
<g transform="translate(1480.0 856.0)" fill="#fff" stroke="#000" stroke-width="2.2"><path d="M-6,-9 L3,-11 L9,-4 L8,5 L-1,9 L-8,3 Z"/><path d="M-5,-5 L1,-7 L5,-2 L4,4 L-1,6 L-5,2 Z" fill="#777" stroke-width="1.6"/></g>
<path d="M2148.2,1094.5 C2144.5,1094.9 2140.9,1095.3 2138.4,1097.7 C2135.7,1100.5 2134.4,1104.7 2134.1,1108.6 C2133.7,1113.0 2135.1,1117.4 2136.3,1121.6 C2139.1,1132.6 2142.7,1143.4 2146.0,1154.2 C2150.3,1168.0 2153.7,1182.1 2159.1,1195.5 C2161.0,1200.4 2164.1,1204.9 2167.8,1208.6 C2172.2,1213.0 2177.4,1216.7 2183.0,1219.4 C2192.7,1224.1 2203.3,1226.5 2213.4,1230.3 C2228.7,1236.0 2244.0,1241.4 2259.0,1247.7 C2273.7,1253.8 2288.0,1260.7 2302.5,1267.2 C2317.0,1273.8 2331.2,1281.0 2346.0,1286.8 C2350.1,1288.4 2354.6,1289.8 2359.0,1289.4 C2363.6,1289.0 2368.1,1287.1 2372.0,1284.6 C2375.5,1282.5 2378.1,1279.2 2380.7,1275.9" fill="none" stroke="#000" stroke-width="2.6"/>
<path d="M2159.1,1096.6 C2178.2,1104.5 2197.2,1112.3 2215.6,1121.6 C2237.8,1133.0 2259.5,1145.5 2280.8,1158.6 C2303.0,1172.3 2324.6,1187.0 2346.0,1202.0 C2358.0,1210.5 2369.4,1219.9 2380.7,1229.2" fill="none" stroke="#000" stroke-width="3"/>
<path d="M2151.5,1103.8 C2173.0,1113.0 2194.6,1122.1 2215.6,1132.5 C2237.7,1143.4 2259.6,1155.0 2280.8,1167.7 C2303.1,1181.2 2324.8,1195.9 2346.0,1211.2 C2353.8,1216.8 2360.5,1223.9 2367.7,1230.3 C2372.1,1234.2 2376.4,1238.2 2380.7,1242.2" fill="none" stroke="#000" stroke-width="2"/>
<path d="M2169.9,1206.4 C2166.7,1200.7 2163.5,1195.1 2161.3,1189.0 C2157.0,1177.6 2153.9,1165.9 2150.4,1154.2 C2146.3,1140.9 2141.2,1127.7 2138.4,1114.0 C2138.1,1112.4 2140.1,1110.6 2141.7,1110.3 C2144.6,1109.8 2147.7,1110.7 2150.4,1111.9 C2172.4,1121.0 2194.2,1130.7 2215.6,1141.2 C2237.7,1152.1 2259.7,1163.3 2280.8,1176.0 C2303.2,1189.4 2325.2,1203.6 2346.0,1219.4 C2352.9,1224.7 2358.5,1231.7 2363.4,1239.0 C2367.3,1244.9 2371.2,1251.5 2372.0,1258.5 C2372.7,1264.5 2370.5,1270.7 2367.7,1275.9 C2365.9,1279.2 2362.5,1281.0 2359.0,1282.9" fill="none" stroke="#000" stroke-width="1.3"/>
<path d="M2148.2,1094.5 C2150.5,1095.1 2152.8,1095.8 2153.0,1097.7 C2153.6,1102.5 2152.0,1107.2 2150.4,1111.9" fill="none" stroke="#000" stroke-width="1.3"/>
<path d="M2363.4,1239.0 L2376.4,1225.9" fill="none" stroke="#000" stroke-width="1.3"/>
<path d="M2367.7,1275.9 L2376.4,1281.4" fill="none" stroke="#000" stroke-width="1.3"/>
<path d="M2211.2,1189.0 C2210.8,1183.0 2210.3,1177.1 2212.3,1171.6 C2214.1,1166.8 2217.5,1161.9 2222.1,1159.7 C2227.3,1157.2 2233.9,1157.1 2239.5,1158.6 C2246.7,1160.5 2253.4,1164.5 2259.0,1169.4 C2265.3,1174.9 2270.1,1181.9 2274.3,1189.0 C2277.4,1194.3 2279.1,1200.4 2280.8,1206.4" fill="none" stroke="#000" stroke-width="2.2"/>
<path d="M2215.6,1173.8 C2218.7,1169.5 2221.8,1165.1 2226.4,1162.9 C2230.4,1161.1 2235.3,1161.2 2239.5,1162.5 C2245.9,1164.5 2251.8,1168.3 2256.9,1172.7 C2262.1,1177.3 2266.2,1183.1 2269.9,1189.0 C2272.8,1193.7 2274.6,1199.0 2276.4,1204.2" fill="none" stroke="#000" stroke-width="1.3"/>
<path d="M2210.1,1191.2 C2211.0,1185.5 2211.9,1179.9 2215.6,1176.0 C2218.7,1172.6 2224.0,1171.3 2228.6,1171.6 C2234.8,1172.1 2241.1,1174.3 2246.0,1178.1 C2251.7,1182.6 2256.1,1188.9 2259.0,1195.5 C2261.4,1200.9 2262.9,1207.3 2261.2,1212.9 C2259.7,1217.8 2255.1,1221.8 2250.3,1223.8 C2245.7,1225.7 2240.4,1224.8 2235.1,1223.8" fill="none" stroke="#000" stroke-width="2.2"/>
<path d="M2254.7,1171.6 L2237.3,1197.7" fill="none" stroke="#000" stroke-width="1.3"/>
<path d="M2209.1,1197.7 C2209.4,1194.6 2212.6,1191.8 2215.6,1191.2 C2219.9,1190.2 2224.7,1191.3 2228.6,1193.4 C2234.5,1196.5 2239.8,1201.0 2243.8,1206.4 C2246.6,1210.1 2248.7,1214.9 2248.2,1219.4 C2247.8,1222.7 2244.9,1226.1 2241.7,1227.0 C2237.4,1228.2 2232.6,1226.8 2228.6,1224.9 C2222.9,1222.0 2217.2,1218.1 2213.4,1212.9 C2210.3,1208.6 2208.5,1202.9 2209.1,1197.7Z" fill="none" stroke="#000" stroke-width="2.2"/>
<path d="M2215.6,1199.9 C2217.6,1198.2 2219.7,1196.6 2222.1,1196.6 C2225.5,1196.6 2229.2,1197.7 2231.9,1199.9 C2235.3,1202.7 2237.7,1206.7 2239.5,1210.7 C2240.7,1213.4 2241.6,1216.7 2240.6,1219.4 C2239.8,1221.4 2237.5,1222.1 2235.1,1222.7" fill="none" stroke="#000" stroke-width="1.3"/>
<path d="M2263.4,1206.4 C2265.8,1202.2 2271.6,1199.9 2276.4,1199.9 C2279.0,1199.9 2282.1,1204.1 2280.8,1206.4 C2278.2,1210.9 2273.0,1215.1 2267.7,1215.1 C2264.5,1215.1 2261.8,1209.2 2263.4,1206.4Z" fill="none" stroke="#000" stroke-width="2.2"/>
<path d="M2218.2,1209.6 L2197.1,1239.0" fill="none" stroke="#000" stroke-width="2.2"/>
<path d="M2228.6,1217.3 L2205.8,1247.7" fill="none" stroke="#000" stroke-width="2.2"/>
<path d="M2197.1,1239.0 C2196.2,1240.6 2195.3,1242.3 2196.0,1243.8 C2197.0,1245.9 2199.3,1247.3 2201.5,1248.1 C2202.8,1248.7 2204.3,1248.2 2205.8,1247.7" fill="none" stroke="#000" stroke-width="2.2"/>
<path d="M2221.0,1206.4 C2223.8,1207.1 2226.5,1207.9 2228.6,1209.6 C2231.0,1211.6 2233.8,1214.2 2234.1,1217.3 C2234.2,1219.6 2232.0,1221.1 2229.7,1222.7" fill="none" stroke="#000" stroke-width="2"/>
<g transform="translate(2174.3 1137.3) rotate(28)"><ellipse rx="10" ry="5.5" fill="#fff" stroke="#000" stroke-width="2.4"/><path d="M-2,0 L9,0" stroke="#000" stroke-width="2.4"/></g>
<g transform="translate(2185.6 1182.9) rotate(28)"><ellipse rx="10" ry="5.5" fill="#fff" stroke="#000" stroke-width="2.4"/><path d="M-2,0 L9,0" stroke="#000" stroke-width="2.4"/></g>
<g transform="translate(2318.8 1219.4) rotate(28)"><ellipse rx="10" ry="5.5" fill="#fff" stroke="#000" stroke-width="2.4"/><path d="M-2,0 L9,0" stroke="#000" stroke-width="2.4"/></g>
<path d="M2161.3,928.2 L2152.6,1097.7" fill="none" stroke="#000" stroke-width="1.6"/>
<ellipse cx="2150.7" cy="1306.0" rx="5" ry="13.5" transform="rotate(-52 2150.7 1306.0)" fill="none" stroke="#000" stroke-width="2.2"/>
<ellipse cx="2152.8" cy="1303.3" rx="5" ry="13.5" transform="rotate(-52 2152.8 1303.3)" fill="none" stroke="#000" stroke-width="2.2"/>
<ellipse cx="2154.9" cy="1300.6" rx="5" ry="13.5" transform="rotate(-52 2154.9 1300.6)" fill="none" stroke="#000" stroke-width="2.2"/>
<ellipse cx="2156.9" cy="1297.9" rx="5" ry="13.5" transform="rotate(-52 2156.9 1297.9)" fill="none" stroke="#000" stroke-width="2.2"/>
<ellipse cx="2159.0" cy="1295.2" rx="5" ry="13.5" transform="rotate(-52 2159.0 1295.2)" fill="none" stroke="#000" stroke-width="2.2"/>
<ellipse cx="2161.1" cy="1292.6" rx="5" ry="13.5" transform="rotate(-52 2161.1 1292.6)" fill="none" stroke="#000" stroke-width="2.2"/>
<ellipse cx="2163.2" cy="1289.9" rx="5" ry="13.5" transform="rotate(-52 2163.2 1289.9)" fill="none" stroke="#000" stroke-width="2.2"/>
<ellipse cx="2165.3" cy="1287.2" rx="5" ry="13.5" transform="rotate(-52 2165.3 1287.2)" fill="none" stroke="#000" stroke-width="2.2"/>
<g transform="translate(2122.0 1337.0)" fill="#fff" stroke="#000" stroke-width="2.2"><path d="M-6,-9 L3,-11 L9,-4 L8,5 L-1,9 L-8,3 Z"/><path d="M-5,-5 L1,-7 L5,-2 L4,4 L-1,6 L-5,2 Z" fill="#777" stroke-width="1.6"/></g>
<path d="M2199.3,1247.7 L1942.0,1560.0" fill="none" stroke="#000" stroke-width="1.6" stroke-dasharray="13 8"/>
<path d="M2172.0,1308.0 L2290.0,1385.0" fill="none" stroke="#000" stroke-width="1.6"/>
<path d="M2129.4,1343.5 L2189.3,1459.7" fill="none" stroke="#000" stroke-width="1.6"/>
<path d="M1633.5,1047.5 C1667.6,1042.3 1701.8,1037.0 1736.0,1032.5 C1755.9,1029.9 1775.9,1024.6 1796.0,1026.0 C1813.3,1027.2 1830.0,1033.5 1846.0,1040.0 C1870.2,1049.9 1892.8,1063.0 1916.0,1075.0 C1941.2,1088.0 1966.6,1100.6 1991.0,1115.0 C2007.5,1124.8 2024.4,1134.5 2038.5,1147.5 C2045.7,1154.1 2049.6,1163.3 2053.5,1172.5 C2041.4,1185.5 2029.4,1198.5 2016.0,1210.0 C2005.1,1219.4 1993.5,1228.0 1981.0,1235.0 C1965.0,1243.9 1948.6,1252.7 1931.0,1257.5 C1909.9,1263.2 1887.8,1264.7 1866.0,1266.0 C1841.0,1267.5 1815.9,1267.7 1791.0,1266.0 C1774.1,1264.9 1757.4,1261.6 1741.0,1257.5 C1729.0,1254.5 1717.8,1248.6 1706.0,1245.0 C1696.1,1242.0 1686.2,1239.0 1676.0,1237.5 C1662.8,1235.6 1649.3,1235.7 1636.0,1235.0 C1619.3,1234.1 1602.7,1232.9 1586.0,1232.5 C1571.0,1232.1 1556.0,1232.3 1541.0,1232.5 C1541.9,1228.3 1542.8,1224.2 1543.5,1220.0 C1545.3,1210.0 1544.7,1199.4 1548.5,1190.0 C1559.0,1164.1 1571.7,1139.0 1586.0,1115.0 C1600.1,1091.4 1616.8,1069.4 1633.5,1047.5Z" fill="none" stroke="#000" stroke-width="3"/>
<path d="M1736.0,1032.5 C1716.3,1055.3 1696.7,1078.1 1676.0,1100.0 C1653.3,1124.0 1629.7,1147.0 1606.0,1170.0 C1600.5,1175.4 1592.8,1178.7 1588.5,1185.0 C1584.5,1190.8 1583.3,1198.1 1582.0,1205.0 C1580.7,1211.9 1580.9,1218.9 1581.0,1226.0" fill="none" stroke="#000" stroke-width="1.3"/>
<path d="M1740.0,1036.0 C1722.3,1057.6 1704.6,1079.2 1686.0,1100.0 C1663.2,1125.5 1639.3,1150.0 1616.0,1175.0 C1611.3,1180.0 1605.0,1183.8 1602.0,1190.0 C1599.1,1196.1 1600.1,1203.3 1599.0,1210.0 C1598.4,1213.7 1598.9,1217.8 1597.0,1221.0 C1594.3,1225.6 1590.2,1229.0 1586.0,1232.5" fill="none" stroke="#000" stroke-width="1.3"/>
<path d="M1601.0,1212.5 C1729.9,1215.3 1858.9,1218.2 1986.0,1200.0 C2009.9,1196.6 2024.2,1173.3 2038.5,1150.0" fill="none" stroke="#000" stroke-width="1.3"/>
<path d="M1597.0,1227.5 C1718.8,1232.5 1840.6,1237.6 1961.0,1222.5 C1985.0,1219.5 1996.9,1189.9 2016.0,1175.0 C2023.7,1169.0 2032.3,1164.5 2041.0,1160.0" fill="none" stroke="#000" stroke-width="1.3"/>
<path d="M1543.5,1220.0 L1582.0,1220.0" fill="none" stroke="#000" stroke-width="1.3"/>
<path d="M1588.5,1185.0 L1602.0,1190.0" fill="none" stroke="#000" stroke-width="1.3"/>
<path d="M1582.0,1205.0 L1599.0,1207.5" fill="none" stroke="#000" stroke-width="1.3"/>
<path d="M1961.0,1222.5 L1931.0,1257.5" fill="none" stroke="#000" stroke-width="1.3"/>
<path d="M1986.0,1200.0 L1966.0,1217.5" fill="none" stroke="#000" stroke-width="1.3"/>
<path d="M1978.5,964.0 L1907.5,1071.0" fill="none" stroke="#000" stroke-width="1.6"/>
<path d="M1037.3,973.1 L1188.1,1121.9" fill="none" stroke="#000" stroke-width="3"/>
<path d="M1037.3,973.1 C1035.0,973.8 1032.7,974.4 1031.2,976.1 C1026.1,982.3 1020.2,988.5 1018.2,996.3 C1016.9,1001.0 1021.0,1005.6 1022.2,1010.3 C1024.3,1019.0 1026.6,1027.7 1028.2,1036.5 C1029.3,1042.4 1030.0,1048.5 1030.2,1054.6 C1030.4,1059.9 1029.8,1065.3 1029.2,1070.7" fill="none" stroke="#000" stroke-width="3"/>
<path d="M1029.2,1070.7 C1027.1,1071.3 1025.0,1071.9 1024.2,1073.7 C1021.8,1079.0 1021.2,1085.0 1020.2,1090.8 C1019.0,1097.4 1017.8,1104.1 1017.8,1110.9 C1017.8,1117.6 1018.8,1124.4 1020.2,1131.0 C1022.3,1141.2 1025.5,1151.1 1028.2,1161.2 C1030.9,1171.2 1033.0,1181.4 1036.3,1191.3 C1038.3,1197.6 1041.3,1203.5 1044.3,1209.4" fill="none" stroke="#000" stroke-width="2.5"/>
<path d="M1044.3,1209.4 C1041.3,1213.2 1038.3,1216.9 1037.3,1221.5 C1036.2,1226.1 1037.2,1231.0 1038.3,1235.6 C1039.6,1241.1 1041.9,1246.5 1044.3,1251.6 C1046.6,1256.5 1050.6,1260.6 1052.3,1265.7 C1055.3,1274.2 1056.0,1283.2 1058.4,1291.9 C1060.7,1300.7 1063.5,1309.4 1066.4,1318.0 C1068.6,1324.4 1071.0,1330.8 1073.5,1337.1" fill="none" stroke="#000" stroke-width="2.5"/>
<path d="M1022.2,997.3 C1026.1,990.1 1029.9,982.9 1036.3,978.2 C1038.2,976.7 1042.7,979.8 1042.3,982.2 C1040.4,992.8 1035.3,1002.6 1030.2,1012.3" fill="none" stroke="#000" stroke-width="1.3"/>
<path d="M1026.2,1000.3 L1038.3,982.2" fill="none" stroke="#000" stroke-width="1.3"/>
<path d="M1048.3,980.2 L1036.3,1024.4" fill="none" stroke="#000" stroke-width="1.3"/>
<path d="M1044.3,984.2 C1055.9,996.0 1067.6,1007.9 1078.5,1020.4 C1085.7,1028.7 1091.3,1038.3 1098.6,1046.5 C1108.7,1057.8 1120.0,1068.0 1130.8,1078.7 C1138.8,1086.7 1146.5,1095.1 1154.9,1102.8 C1164.0,1111.2 1173.5,1119.1 1183.1,1127.0" fill="none" stroke="#000" stroke-width="1.3"/>
<path d="M1052.3,982.2 C1063.1,993.6 1073.8,1004.9 1084.5,1016.4 C1093.3,1025.7 1101.7,1035.3 1110.7,1044.5 C1123.9,1058.1 1137.5,1071.3 1150.9,1084.7 C1162.3,1096.1 1173.7,1107.5 1185.1,1118.9" fill="none" stroke="#000" stroke-width="1.3"/>
<path d="M1066.4,1038.5 L1080.5,1020.4" fill="none" stroke="#000" stroke-width="1.3"/>
<path d="M1098.6,1054.6 L1110.7,1044.5" fill="none" stroke="#000" stroke-width="1.3"/>
<path d="M1040.3,1027.4 C1058.1,1037.9 1075.9,1048.3 1090.5,1062.6 C1093.5,1065.5 1088.3,1070.6 1088.5,1074.7 C1088.7,1077.5 1088.7,1082.7 1091.6,1082.7 C1094.4,1082.7 1093.9,1077.5 1094.6,1074.7 C1095.3,1071.4 1094.2,1067.7 1095.6,1064.6 C1096.7,1062.3 1099.0,1059.4 1101.6,1059.6 C1104.2,1059.8 1106.0,1063.1 1106.6,1065.6 C1108.4,1072.5 1107.4,1079.8 1108.6,1086.7 C1109.3,1090.3 1109.2,1094.9 1112.3,1096.8 C1114.1,1098.0 1114.9,1093.0 1115.1,1090.8 C1115.4,1087.4 1112.7,1084.0 1113.7,1080.7 C1114.2,1079.0 1117.3,1077.6 1118.7,1078.7 C1127.8,1085.6 1134.5,1095.1 1142.8,1102.8 C1145.3,1105.1 1149.8,1105.7 1150.9,1108.9 C1152.2,1112.7 1148.8,1116.9 1148.9,1120.9 C1148.9,1123.4 1148.8,1128.0 1151.3,1128.0 C1153.9,1128.0 1154.1,1123.4 1154.9,1120.9 C1156.0,1117.7 1154.7,1113.5 1156.9,1110.9 C1158.7,1108.8 1162.4,1107.8 1165.0,1108.9 C1168.0,1110.2 1170.7,1113.6 1171.0,1116.9 C1171.4,1121.8 1167.3,1126.1 1167.0,1131.0 C1166.7,1135.1 1167.1,1139.5 1169.0,1143.1 C1169.7,1144.4 1172.8,1144.4 1173.4,1143.1 C1175.0,1139.3 1174.5,1135.2 1174.0,1131.0" fill="none" stroke="#000" stroke-width="2.5"/>
<path d="M1040.3,1027.4 C1038.0,1028.0 1035.6,1028.5 1035.2,1030.4 C1033.6,1038.3 1034.1,1046.4 1034.6,1054.6" fill="none" stroke="#000" stroke-width="2.5"/>
<path d="M1043.3,1040.5 C1039.0,1065.9 1034.7,1091.3 1032.2,1116.9 C1031.7,1122.3 1033.3,1127.7 1034.2,1133.0 C1036.6,1145.8 1039.1,1158.6 1042.3,1171.2 C1044.5,1179.7 1046.7,1188.3 1050.3,1196.3 C1051.8,1199.6 1054.6,1202.0 1057.4,1204.4" fill="none" stroke="#000" stroke-width="2.5"/>
<path d="M1023.2,1074.7 C1026.6,1075.3 1030.1,1076.0 1030.2,1078.7 C1030.8,1089.5 1025.8,1100.0 1025.2,1110.9 C1024.8,1117.6 1025.9,1124.4 1027.2,1131.0 C1029.6,1143.2 1033.0,1155.2 1036.3,1167.2 C1039.0,1177.3 1042.2,1187.3 1045.3,1197.4" fill="none" stroke="#000" stroke-width="1.3"/>
<path d="M1046.3,1041.5 C1055.0,1064.5 1063.7,1087.5 1060.4,1110.9 C1058.7,1122.4 1046.0,1127.7 1033.2,1133.0" fill="none" stroke="#000" stroke-width="1.3"/>
<path d="M1060.4,1110.9 C1066.6,1120.0 1072.7,1129.0 1082.5,1131.0 C1087.8,1132.0 1089.2,1124.5 1090.5,1116.9" fill="none" stroke="#000" stroke-width="1.3"/>
<path d="M1050.3,1042.5 L1063.4,1108.9" fill="none" stroke="#000" stroke-width="1.3"/>
<path d="M1035.2,1138.0 L1052.3,1144.1 L1038.3,1151.1 L1056.4,1158.1 L1040.3,1163.2" fill="none" stroke="#000" stroke-width="2.5"/>
<path d="M1086.5,1090.8 C1089.1,1089.0 1091.8,1087.2 1094.6,1087.8 C1099.1,1088.7 1103.1,1091.7 1106.6,1094.8 C1112.0,1099.5 1116.8,1104.9 1120.7,1110.9 C1124.9,1117.1 1127.7,1124.2 1130.8,1131.0 C1132.5,1134.9 1133.9,1139.0 1135.2,1143.1" fill="none" stroke="#000" stroke-width="2"/>
<path d="M1090.5,1091.8 C1092.3,1091.0 1094.0,1090.2 1095.6,1090.8 C1099.7,1092.3 1103.5,1094.8 1106.6,1097.8 C1111.3,1102.3 1115.2,1107.5 1118.7,1112.9 C1122.6,1118.9 1125.6,1125.5 1128.8,1132.0 C1130.2,1134.9 1131.3,1138.0 1132.4,1141.0" fill="none" stroke="#000" stroke-width="1.3"/>
<path d="M1086.5,1090.8 C1085.8,1094.8 1085.1,1098.8 1085.3,1102.8 C1085.8,1110.9 1087.0,1119.0 1088.5,1127.0 C1090.1,1135.1 1090.7,1143.8 1094.6,1151.1 C1098.3,1158.2 1104.5,1163.7 1110.7,1169.2" fill="none" stroke="#000" stroke-width="2"/>
<path d="M1098.6,1112.9 L1106.6,1120.9 L1109.1,1131.0 L1102.6,1125.4Z" fill="none" stroke="#000" stroke-width="2"/>
<path d="M1081.5,1133.0 L1102.6,1122.9" fill="none" stroke="#000" stroke-width="1.3"/>
<path d="M1139.8,1129.0 L1056.4,1253.7" fill="none" stroke="#000" stroke-width="3"/>
<path d="M1142.8,1131.0 L1084.5,1335.1" fill="none" stroke="#000" stroke-width="3"/>
<path d="M1139.8,1129.0 C1142.0,1128.9 1144.3,1128.9 1144.8,1130.6 C1148.2,1140.4 1148.7,1151.0 1150.9,1161.2 C1154.4,1177.3 1155.2,1194.3 1161.9,1209.4 C1166.6,1219.8 1175.3,1227.7 1184.1,1235.6" fill="none" stroke="#000" stroke-width="2.5"/>
<path d="M1084.5,1139.0 C1078.1,1150.1 1071.8,1161.2 1067.4,1173.2 C1066.3,1176.4 1069.4,1180.0 1068.4,1183.3 C1066.9,1188.5 1064.8,1194.2 1060.4,1197.4 C1057.7,1199.3 1054.0,1197.8 1050.3,1196.3" fill="none" stroke="#000" stroke-width="2.5"/>
<path d="M1090.5,1153.1 C1087.1,1166.4 1083.6,1179.8 1076.5,1191.3 C1074.3,1194.8 1076.3,1182.9 1074.5,1179.3 C1073.1,1176.5 1070.3,1174.9 1067.4,1173.2" fill="none" stroke="#000" stroke-width="1.3"/>
<path d="M1057.4,1204.4 C1060.3,1212.1 1063.3,1219.9 1068.4,1217.5 C1085.6,1209.4 1098.1,1194.3 1110.7,1179.3" fill="none" stroke="#000" stroke-width="2.5"/>
<path d="M1056.4,1211.4 C1060.1,1217.3 1063.8,1223.2 1069.4,1222.5 C1077.0,1221.5 1081.7,1214.4 1086.5,1207.4" fill="none" stroke="#000" stroke-width="1.3"/>
<path d="M1056.4,1263.7 C1067.7,1266.2 1079.1,1268.7 1090.5,1267.7 C1095.9,1267.3 1100.3,1263.5 1104.6,1259.7" fill="none" stroke="#000" stroke-width="1.3"/>
<path d="M1090.5,1267.7 L1102.6,1279.8" fill="none" stroke="#000" stroke-width="1.3"/>
<path d="M1060.4,1271.8 C1066.4,1278.5 1072.5,1285.1 1078.5,1291.9 C1083.9,1297.9 1089.2,1303.9 1094.6,1310.0" fill="none" stroke="#000" stroke-width="1.3"/>
<path d="M1056.4,1263.7 L1078.5,1336.1" fill="none" stroke="#000" stroke-width="1.3"/>
<path d="M1161.9,1209.4 C1160.1,1223.6 1158.3,1237.8 1154.9,1251.6 C1150.6,1269.4 1144.7,1286.6 1138.8,1303.9" fill="none" stroke="#000" stroke-width="1.3"/>
<path d="M1138.8,1283.8 C1137.3,1291.3 1135.9,1298.8 1130.8,1303.9 C1125.7,1309.0 1116.5,1307.8 1110.7,1312.0 C1105.8,1315.4 1102.3,1320.7 1099.6,1326.1 C1098.2,1328.8 1102.4,1324.4 1106.6,1320.0" fill="none" stroke="#000" stroke-width="1.3"/>
<path d="M1099.6,1326.1 C1102.8,1320.9 1106.1,1315.8 1110.7,1312.0 C1112.8,1310.2 1115.7,1310.1 1118.7,1310.0" fill="none" stroke="#000" stroke-width="2"/>
<path d="M1038.3,1221.5 C1041.8,1219.6 1045.4,1217.7 1048.3,1219.5 C1052.1,1221.9 1053.9,1227.1 1054.4,1231.5 C1055.2,1239.6 1053.8,1247.6 1052.3,1255.7" fill="none" stroke="#000" stroke-width="1.3"/>
<path d="M1039.3,1231.5 L1050.3,1231.5" fill="none" stroke="#000" stroke-width="1.3"/>
<path d="M1050.3,1217.5 C1053.7,1220.5 1057.0,1223.4 1058.4,1227.5 C1060.5,1233.9 1060.4,1240.8 1060.4,1247.6" fill="none" stroke="#000" stroke-width="1.3"/>
<path d="M1050.3,1265.7 L1074.5,1338.1" fill="none" stroke="#000" stroke-width="1.3"/>
<path d="M1054.4,1263.7 L1078.5,1336.1" fill="none" stroke="#000" stroke-width="1.3"/>
<path d="M1174.0,1131.0 C1178.8,1127.7 1183.6,1124.4 1189.1,1122.9 C1191.8,1122.2 1194.7,1123.6 1197.1,1125.0 C1199.6,1126.4 1203.3,1128.1 1203.2,1131.0 C1201.9,1161.3 1197.5,1191.4 1193.1,1221.5" fill="none" stroke="#000" stroke-width="2.5"/>
<path d="M1177.0,1137.0 L1191.1,1221.5" fill="none" stroke="#000" stroke-width="1.3"/>
<path d="M1183.1,1133.0 L1197.1,1217.5" fill="none" stroke="#000" stroke-width="1.3"/>
<path d="M1206.2,1129.0 L1204.2,1213.4" fill="none" stroke="#000" stroke-width="2"/>
<path d="M1211.2,1130.0 L1211.2,1209.4" fill="none" stroke="#000" stroke-width="2"/>
<path d="M1217.2,1131.0 L1219.3,1200.4" fill="none" stroke="#000" stroke-width="2"/>
<path d="M1221.3,1143.1 L1224.3,1201.4" fill="none" stroke="#000" stroke-width="2"/>
<path d="M1226.3,1148.1 L1230.3,1204.4" fill="none" stroke="#000" stroke-width="2"/>
<path d="M1231.3,1159.1 L1236.3,1206.4" fill="none" stroke="#000" stroke-width="2"/>
<path d="M1236.3,1164.2 L1242.4,1208.4" fill="none" stroke="#000" stroke-width="2"/>
<path d="M1241.4,1173.2 L1247.4,1209.4" fill="none" stroke="#000" stroke-width="2"/>
<path d="M1246.4,1181.3 L1251.4,1207.4" fill="none" stroke="#000" stroke-width="2"/>
<path d="M1203.2,1131.0 C1204.0,1129.8 1204.9,1128.6 1206.2,1128.6 C1209.9,1128.5 1214.7,1127.8 1217.2,1130.6 C1220.1,1133.7 1217.4,1139.3 1219.3,1143.1 C1220.4,1145.4 1224.1,1145.4 1225.7,1147.5 C1228.3,1150.9 1229.0,1155.5 1231.3,1159.1 C1232.4,1160.9 1234.5,1161.9 1235.7,1163.6 C1237.5,1165.9 1238.7,1168.7 1240.4,1171.2 C1244.0,1176.6 1247.5,1182.1 1251.4,1187.3 C1254.6,1191.5 1258.0,1195.4 1261.5,1199.4" fill="none" stroke="#000" stroke-width="2.5"/>
<path d="M1191.1,1223.5 C1199.1,1212.5 1207.1,1201.5 1219.3,1199.4 C1229.6,1197.5 1238.5,1205.5 1247.4,1213.4" fill="none" stroke="#000" stroke-width="2.5"/>
<path d="M1221.3,1199.4 C1221.7,1203.5 1222.2,1207.6 1225.3,1209.4 C1229.9,1212.2 1235.6,1211.8 1241.4,1211.4" fill="none" stroke="#000" stroke-width="1.3"/>
<path d="M1323.8,1176.2 C1306.3,1181.6 1288.7,1187.0 1271.5,1193.3 C1267.9,1194.7 1264.7,1197.1 1261.5,1199.4 C1244.6,1211.2 1227.2,1222.5 1211.2,1235.6 C1193.6,1250.0 1177.4,1266.1 1160.9,1281.8 C1150.6,1291.6 1141.9,1303.1 1130.8,1312.0 C1122.3,1318.7 1112.3,1323.2 1102.6,1328.1 C1093.5,1332.6 1084.0,1336.4 1074.5,1340.1" fill="none" stroke="#000" stroke-width="3"/>
<path d="M1074.5,1340.1 C1071.2,1341.1 1067.9,1342.1 1068.4,1344.6 C1072.9,1363.7 1080.7,1381.9 1088.5,1400.1" fill="none" stroke="#000" stroke-width="2.5"/>
<path d="M1251.4,1184.3 C1269.7,1170.1 1287.9,1155.8 1307.7,1144.1 C1310.1,1142.6 1314.4,1143.7 1315.8,1146.1 C1320.3,1153.6 1322.0,1162.4 1323.8,1171.2" fill="none" stroke="#000" stroke-width="3"/>
<path d="M1295.7,1157.1 C1299.6,1159.5 1303.4,1161.8 1307.7,1163.2 C1312.3,1164.6 1317.0,1164.9 1321.8,1165.2" fill="none" stroke="#000" stroke-width="1.3"/>
<path d="M1311.8,1146.1 L1319.8,1177.2" fill="none" stroke="#000" stroke-width="1.3"/>
<path d="M1800.7,1399.8 C1816.4,1402.9 1832.0,1406.1 1847.9,1407.8 C1869.6,1410.0 1891.5,1410.7 1913.3,1411.4 C1916.4,1420.7 1919.6,1430.0 1920.6,1439.7 C1920.8,1442.4 1918.9,1444.7 1916.9,1447.0" fill="none" stroke="#000" stroke-width="3"/>
<path d="M1630.0,1392.5 L1913.3,1443.3" fill="none" stroke="#000" stroke-width="1.3"/>
<path d="M1630.0,1401.6 L1906.0,1450.6" fill="none" stroke="#000" stroke-width="1.3"/>
<path d="M1920.6,1439.7 L1877.0,1523.2" fill="none" stroke="#000" stroke-width="2.6"/>
<path d="M1913.3,1443.3 L1826.1,1501.5" fill="none" stroke="#000" stroke-width="2.4"/>
<path d="M1909.7,1450.6 L1829.8,1505.1" fill="none" stroke="#000" stroke-width="1.3"/>
<path d="M1689.9,1490.6 C1720.7,1483.7 1751.4,1476.9 1782.5,1472.4 C1785.2,1472.0 1788.1,1474.0 1789.8,1476.0 C1794.3,1481.5 1799.0,1487.3 1800.7,1494.2 C1802.2,1500.1 1800.5,1506.2 1798.9,1512.4" fill="none" stroke="#000" stroke-width="2.4"/>
<path d="M1789.8,1479.7 L1826.1,1501.5 L1827.9,1526.9 L1833.4,1526.9 L1835.2,1512.4 L1884.2,1534.1 L1887.9,1552.3 L1893.3,1552.3 L1897.0,1537.8 L1916.9,1545.0 L1920.6,1566.8 L1926.0,1566.8 L1924.2,1548.7 L1993.2,1585.0 L2065.8,1614.0" fill="none" stroke="#000" stroke-width="2.4"/>
<path d="M1786.2,1486.9 C1787.7,1495.8 1789.3,1504.6 1793.4,1512.4 C1794.6,1514.6 1797.7,1514.4 1800.7,1514.2" fill="none" stroke="#000" stroke-width="1.3"/>
<path d="M1902.4,1536.0 L1920.6,1545.0" fill="none" stroke="#000" stroke-width="1.3"/>
<path d="M1775.3,1476.0 L1793.4,1581.4" fill="none" stroke="#000" stroke-width="1.3"/>
<path d="M1782.5,1472.4 L1800.7,1577.7" fill="none" stroke="#000" stroke-width="1.3"/>
<path d="M1702.6,1619.9 L1847.9,1545.0 L1855.2,1563.2 L1866.1,1619.9" fill="none" stroke="#000" stroke-width="2.6"/>
<path d="M1847.9,1545.0 L1800.7,1619.9" fill="none" stroke="#000" stroke-width="2.6"/>
<path d="M1684.5,1490.6 L1768.0,1595.9" fill="none" stroke="#000" stroke-width="1.3"/>
<path d="M1689.9,1486.9 L1775.3,1474.2" fill="none" stroke="#000" stroke-width="1.3"/>
<path d="M1851.6,1563.2 L1862.4,1619.9" fill="none" stroke="#000" stroke-width="1.3"/>
<path d="M1871.5,1619.9 C1870.5,1604.4 1869.4,1589.0 1872.6,1574.1 C1873.9,1568.2 1878.5,1562.2 1884.2,1560.3 C1891.2,1558.0 1899.5,1559.8 1906.0,1563.2 C1915.9,1568.4 1925.4,1575.6 1931.5,1585.0 C1938.0,1595.2 1940.2,1607.6 1942.4,1619.9" fill="none" stroke="#000" stroke-width="2"/>
<path d="M1880.6,1619.9 C1879.7,1605.8 1878.7,1591.6 1880.6,1577.7 C1881.2,1573.4 1883.8,1568.3 1887.9,1566.8 C1893.0,1564.9 1899.4,1566.4 1904.2,1569.0 C1912.0,1573.3 1919.6,1579.2 1924.2,1586.8 C1930.2,1596.7 1932.7,1608.3 1935.1,1619.9" fill="none" stroke="#000" stroke-width="1.3"/>
<path d="M1904.2,1590.4 L1916.9,1592.3 L1918.7,1603.9 L1906.0,1602.4Z" fill="none" stroke="#000" stroke-width="1.8"/>
<path d="M1904.2,1603.2 L1918.7,1592.3" fill="none" stroke="#000" stroke-width="1.3"/>
<path d="M1949.6,1563.2 L2062.2,1610.4" fill="none" stroke="#000" stroke-width="1.3"/>
<path d="M1978.7,1619.9 C1978.1,1607.9 1977.6,1595.9 1985.9,1595.9 C1996.7,1595.9 2002.2,1607.9 2007.7,1619.9" fill="none" stroke="#000" stroke-width="1.3"/>
<path d="M2064.0,1619.9 C2069.5,1610.5 2075.0,1601.2 2084.0,1595.9 C2088.3,1593.4 2094.9,1596.1 2098.5,1599.5 C2104.1,1604.8 2106.8,1612.3 2109.4,1619.9" fill="none" stroke="#000" stroke-width="2.4"/>
<g clip-path="url(#inHD)">
<path d="M916.3,1632.5 C901.9,1653.4 887.5,1674.2 875.1,1696.3 C864.9,1714.3 855.6,1733.0 848.8,1752.6 C842.4,1770.8 838.2,1789.8 835.7,1808.9 C833.2,1827.5 832.8,1846.4 833.8,1865.2 C834.7,1884.1 837.3,1903.0 841.3,1921.5 C844.8,1938.1 850.6,1954.2 856.3,1970.3 C861.3,1984.3 868.1,1997.6 873.2,2011.6 C875.0,2016.4 875.9,2021.5 876.9,2026.6" fill="none" stroke="#000" stroke-width="4"/>
<path d="M905.1,1632.5 C890.7,1653.4 876.2,1674.2 863.8,1696.3 C853.6,1714.3 844.7,1733.1 837.5,1752.6 C830.8,1770.8 825.7,1789.7 822.5,1808.9 C819.4,1827.4 818.1,1846.4 818.8,1865.2 C819.4,1884.1 822.2,1903.0 826.3,1921.5 C829.7,1936.9 836.4,1951.5 841.3,1966.5 C847.7,1986.5 853.9,2006.5 860.0,2026.6" fill="none" stroke="#000" stroke-width="1.3"/>
<path d="M927.6,1632.5 C913.2,1653.4 898.7,1674.2 886.3,1696.3 C876.2,1714.3 866.9,1733.0 860.0,1752.6 C853.7,1770.8 849.5,1789.8 846.9,1808.9 C844.4,1827.5 844.1,1846.4 845.0,1865.2 C846.0,1884.1 848.6,1903.0 852.5,1921.5 C856.1,1938.1 861.8,1954.2 867.6,1970.3 C871.2,1980.6 876.0,1990.4 880.7,2000.3" fill="none" stroke="#000" stroke-width="1.3"/>
<path d="M822.5,1820.1 L835.7,1818.3" fill="none" stroke="#000" stroke-width="1.3"/>
<path d="M816.9,1842.7 L833.8,1842.7" fill="none" stroke="#000" stroke-width="1.3"/>
<path d="M818.8,1868.9 L833.8,1868.9" fill="none" stroke="#000" stroke-width="1.3"/>
<path d="M826.3,1940.2 L843.2,1944.0" fill="none" stroke="#000" stroke-width="1.3"/>
<path d="M852.5,1728.2 L871.3,1726.3" fill="none" stroke="#000" stroke-width="1.3"/>
<path d="M856.3,2012.3 C887.6,2013.9 918.9,2015.4 950.1,2017.2 C981.4,2018.9 1012.7,2020.9 1043.9,2022.8" fill="none" stroke="#000" stroke-width="4"/>
<path d="M953.9,1632.5 C939.4,1653.4 925.0,1674.2 912.6,1696.3 C902.4,1714.3 892.9,1732.9 886.3,1752.6 C880.3,1770.7 877.4,1789.9 875.1,1808.9 C873.7,1820.1 873.6,1831.5 875.1,1842.7 C877.4,1860.4 880.5,1878.3 886.3,1895.2 C893.1,1914.8 902.8,1933.1 912.6,1951.5" fill="none" stroke="#000" stroke-width="1.3"/>
<path d="M946.4,1632.5 C931.9,1653.4 917.5,1674.2 905.1,1696.3 C894.9,1714.3 885.4,1732.9 878.8,1752.6 C872.8,1770.7 869.8,1789.9 867.6,1808.9 C866.1,1821.3 865.8,1834.0 867.6,1846.4 C870.2,1865.5 874.1,1884.6 880.7,1902.7 C887.9,1922.4 898.4,1940.7 908.8,1959.0" fill="none" stroke="#000" stroke-width="1.3"/>
<path d="M920.1,1950.8 C942.6,1954.2 965.0,1957.7 987.7,1959.0 C1022.6,1961.1 1057.7,1961.8 1092.7,1960.9 C1105.4,1960.6 1118.1,1958.8 1130.3,1955.3 C1145.9,1950.6 1160.8,1943.8 1175.3,1936.5 C1188.4,1930.0 1200.3,1921.5 1212.8,1914.0 C1231.6,1902.7 1250.4,1891.5 1269.1,1880.2" fill="none" stroke="#000" stroke-width="1.3"/>
<path d="M912.6,1959.0 C937.5,1962.9 962.5,1966.8 987.7,1968.4 C1020.1,1970.5 1052.7,1971.1 1085.2,1970.3 C1099.1,1969.9 1113.2,1968.5 1126.5,1964.6 C1143.5,1959.7 1159.4,1951.6 1175.3,1944.0 C1190.7,1936.6 1205.5,1928.1 1220.3,1919.6" fill="none" stroke="#000" stroke-width="1.3"/>
<path d="M888.2,1981.5 C915.0,1985.3 941.9,1989.1 968.9,1990.9 C998.9,1992.9 1028.9,1993.5 1059.0,1992.8 C1079.1,1992.3 1099.4,1991.6 1119.0,1987.2 C1138.5,1982.8 1157.2,1975.0 1175.3,1966.5 C1201.1,1954.3 1226.2,1940.4 1250.4,1925.2 C1276.3,1909.0 1301.1,1891.2 1325.4,1872.7 C1358.7,1847.4 1390.9,1820.6 1423.0,1793.9" fill="none" stroke="#000" stroke-width="1.3"/>
<path d="M884.4,1990.9 C912.5,1994.7 940.6,1998.4 968.9,2000.3 C997.6,2002.2 1026.4,2002.9 1055.2,2002.2 C1076.6,2001.6 1098.2,2001.3 1119.0,1996.5 C1139.9,1991.8 1159.7,1983.2 1179.1,1974.0 C1207.4,1960.6 1234.5,1944.8 1261.6,1929.0" fill="none" stroke="#000" stroke-width="1.3"/>
<path d="M1102.1,1745.1 L1032.7,1865.2 L1027.1,1872.7 L912.6,1953.4 L884.4,1985.3 L873.2,2011.6" fill="none" stroke="#000" stroke-width="2.2"/>
<path d="M1105.9,1747.0 L1036.4,1867.1 L1029.7,1876.4 L915.6,1957.1 L888.2,1987.2 L876.9,2013.4" fill="none" stroke="#000" stroke-width="1.3"/>
<path d="M1012.0,1632.5 C1006.0,1647.4 1000.0,1662.3 995.2,1677.5 C991.2,1689.8 988.3,1702.4 985.8,1715.1 C983.3,1727.5 979.8,1739.9 980.1,1752.6 C980.5,1765.3 984.0,1777.9 987.7,1790.1 C991.5,1803.0 996.9,1815.5 1002.7,1827.7 C1010.0,1843.1 1018.5,1857.9 1027.1,1872.7" fill="none" stroke="#000" stroke-width="1.3"/>
<path d="M1004.5,1632.5 C998.5,1647.4 992.5,1662.3 987.7,1677.5 C983.7,1689.8 980.5,1702.4 978.3,1715.1 C976.1,1727.4 974.2,1740.0 974.5,1752.6 C974.8,1765.2 976.8,1777.9 980.1,1790.1 C983.7,1803.1 989.0,1815.7 995.2,1827.7 C1002.8,1842.6 1012.1,1856.7 1021.4,1870.8" fill="none" stroke="#000" stroke-width="1.3"/>
<path d="M1032.7,1865.2 C1055.1,1870.7 1077.5,1876.3 1100.2,1880.2 C1125.1,1884.4 1150.1,1888.4 1175.3,1889.6 C1191.6,1890.3 1208.0,1888.7 1224.1,1885.8 C1239.5,1883.1 1254.4,1878.0 1269.1,1872.7 C1277.0,1869.8 1284.4,1865.6 1291.6,1861.4 C1301.9,1855.6 1312.4,1850.0 1321.7,1842.7 C1336.3,1831.1 1349.8,1818.3 1363.0,1805.1 C1376.1,1792.0 1388.1,1777.8 1400.5,1763.9 C1408.2,1755.2 1415.6,1746.4 1423.0,1737.6" fill="none" stroke="#000" stroke-width="1.3"/>
<path d="M1027.1,1872.7 C1051.4,1878.0 1075.7,1883.4 1100.2,1887.7 C1125.2,1892.1 1150.1,1897.4 1175.3,1899.0 C1191.6,1899.9 1208.1,1898.2 1224.1,1895.2 C1238.3,1892.5 1251.8,1887.3 1265.4,1882.1" fill="none" stroke="#000" stroke-width="1.3"/>
<path d="M796.2,1719.6 C810.0,1715.6 823.8,1711.6 837.5,1707.6 C848.2,1704.4 858.6,1700.7 869.4,1698.2 C875.0,1696.9 880.6,1696.6 886.3,1696.3" fill="none" stroke="#000" stroke-width="1.3"/>
<path d="M908.8,1733.8 L983.9,1688.8" fill="none" stroke="#000" stroke-width="1.3"/>
<path d="M878.8,1808.9 L980.1,1741.3" fill="none" stroke="#000" stroke-width="1.3"/>
<path d="M882.6,1835.2 L983.9,1771.4" fill="none" stroke="#000" stroke-width="1.3"/>
<path d="M848.8,1823.9 L875.1,1810.8" fill="none" stroke="#000" stroke-width="1.3"/>
<path d="M848.8,1872.7 L875.1,1842.7" fill="none" stroke="#000" stroke-width="1.3"/>
<path d="M796.2,1974.0 L826.3,1940.2" fill="none" stroke="#000" stroke-width="1.3"/>
<path d="M976.4,1640.0 L1006.4,1655.0" fill="none" stroke="#000" stroke-width="1.3"/>
<path d="M796.2,1655.0 L856.3,1632.5" fill="none" stroke="#000" stroke-width="1.3"/>
<path d="M1092.7,1960.9 L1190.3,1899.0" fill="none" stroke="#000" stroke-width="1.3"/>
<path d="M1130.3,1955.3 L1224.1,1895.2" fill="none" stroke="#000" stroke-width="1.3"/>
<path d="M1062.7,1992.8 L1085.2,1970.3" fill="none" stroke="#000" stroke-width="1.3"/>
<path d="M1059.0,2015.3 L1055.2,1992.8" fill="none" stroke="#000" stroke-width="1.3"/>
<path d="M1119.0,1987.2 L1126.5,1964.6" fill="none" stroke="#000" stroke-width="1.3"/>
<path d="M1190.3,1899.0 L1186.6,1891.5" fill="none" stroke="#000" stroke-width="1.3"/>
<path d="M1276.6,1902.7 L1284.1,1940.2" fill="none" stroke="#000" stroke-width="1.3"/>
<path d="M1295.4,1940.2 L1347.9,2026.6" fill="none" stroke="#000" stroke-width="1.3"/>
<path d="M1261.6,1951.5 L1265.4,1966.5" fill="none" stroke="#000" stroke-width="1.3"/>
<path d="M1025.2,2022.1 C1050.3,2020.7 1075.5,2019.4 1100.2,2015.3 C1119.4,2012.1 1138.3,2007.0 1156.5,2000.3 C1176.0,1993.2 1194.4,1983.5 1212.8,1974.0 C1238.2,1961.0 1263.1,1947.0 1287.9,1932.7 C1313.2,1918.2 1337.3,1901.6 1363.0,1887.7 C1382.4,1877.2 1402.7,1868.4 1423.0,1859.6" fill="none" stroke="#000" stroke-width="3.2"/>
<path d="M1062.7,2022.1 C1088.0,2019.2 1113.3,2016.3 1137.8,2009.7 C1163.6,2002.7 1188.5,1992.6 1212.8,1981.5 C1242.4,1968.1 1270.9,1952.4 1299.2,1936.5 C1340.9,1913.0 1382.0,1888.1 1423.0,1863.3" fill="none" stroke="#000" stroke-width="1.3"/>
<path d="M1126.5,2022.1 C1155.8,2012.2 1185.0,2002.3 1212.8,1989.0 C1284.0,1955.0 1353.5,1917.6 1423.0,1880.2" fill="none" stroke="#000" stroke-width="1.3"/>
<path d="M1137.8,1955.3 C1163.0,1943.2 1188.3,1931.1 1212.8,1917.7 C1232.1,1907.3 1250.8,1895.9 1269.1,1883.9 C1288.3,1871.5 1306.8,1857.9 1325.4,1844.5 C1338.1,1835.4 1350.9,1826.4 1363.0,1816.4 C1383.5,1799.4 1403.2,1781.6 1423.0,1763.9" fill="none" stroke="#000" stroke-width="2"/>
<path d="M1212.8,1921.5 C1238.3,1908.4 1263.7,1895.4 1287.9,1880.2 C1307.6,1867.8 1325.7,1853.1 1344.2,1838.9 C1358.3,1828.1 1371.2,1815.7 1385.5,1805.1 C1397.5,1796.3 1410.2,1788.5 1423.0,1780.7" fill="none" stroke="#000" stroke-width="1.3"/>
<path d="M1224.1,1917.7 C1256.1,1904.1 1288.2,1890.5 1317.9,1872.7 C1338.5,1860.3 1354.2,1840.9 1374.2,1827.7 C1389.4,1817.6 1406.2,1810.4 1423.0,1803.3" fill="none" stroke="#000" stroke-width="1.3"/>
<path d="M1344.2,1820.1 C1354.1,1823.4 1364.0,1826.6 1374.2,1827.7 C1377.0,1827.9 1379.4,1825.9 1381.7,1823.9" fill="none" stroke="#000" stroke-width="1.3"/>
<path d="M1321.7,1844.5 C1329.1,1848.0 1336.6,1851.4 1344.2,1850.2 C1349.4,1849.3 1352.4,1844.1 1355.5,1838.9" fill="none" stroke="#000" stroke-width="1.3"/>
<path d="M1400.5,1808.9 L1423.0,1865.2" fill="none" stroke="#000" stroke-width="1.3"/>
<path d="M1102.1,1745.1 C1126.5,1746.5 1150.9,1748.0 1175.3,1748.8 C1212.8,1750.2 1250.4,1751.5 1287.9,1751.8 C1325.4,1752.2 1363.7,1758.2 1400.5,1750.7 C1411.8,1748.4 1417.4,1736.4 1423.0,1724.4" fill="none" stroke="#000" stroke-width="3.6"/>
<path d="M1067.2,1632.5 C1073.3,1651.2 1079.4,1670.0 1085.2,1688.8 C1091.0,1707.5 1096.6,1726.3 1102.1,1745.1" fill="none" stroke="#000" stroke-width="3.4"/>
<path d="M1077.0,1632.5 C1082.6,1647.4 1088.2,1662.3 1092.7,1677.5 C1097.5,1693.6 1101.1,1710.0 1104.7,1726.3" fill="none" stroke="#000" stroke-width="1.3"/>
<path d="M1089.0,1677.5 L1083.4,1673.0" fill="none" stroke="#000" stroke-width="1.3"/>
<path d="M1119.8,1632.5 C1114.3,1659.9 1108.9,1687.3 1105.9,1715.1 C1104.9,1723.8 1106.3,1732.6 1107.8,1741.3" fill="none" stroke="#000" stroke-width="1.3"/>
<path d="M1107.8,1716.9 C1124.3,1714.2 1140.9,1711.4 1154.7,1718.8 C1162.6,1723.0 1161.4,1734.1 1160.3,1745.1" fill="none" stroke="#000" stroke-width="1.3"/>
<path d="M1154.7,1718.8 L1188.4,1632.5" fill="none" stroke="#000" stroke-width="1.3"/>
<path d="M1186.6,1640.0 C1189.7,1655.0 1192.8,1669.9 1192.2,1685.0 C1191.6,1700.4 1180.4,1714.9 1182.8,1730.1 C1184.0,1738.0 1192.8,1741.5 1201.6,1745.1" fill="none" stroke="#000" stroke-width="1.3"/>
<path d="M1192.2,1685.0 L1205.3,1685.0" fill="none" stroke="#000" stroke-width="1.3"/>
<path d="M1227.8,1632.5 C1219.4,1657.3 1210.9,1682.0 1205.3,1707.6 C1202.7,1719.8 1203.1,1732.4 1203.5,1745.1" fill="none" stroke="#000" stroke-width="2.6"/>
<path d="M1190.3,1707.6 C1188.5,1712.7 1186.7,1717.8 1188.4,1722.6 C1190.2,1727.6 1195.0,1730.7 1199.7,1733.8" fill="none" stroke="#000" stroke-width="2"/>
<path d="M1263.5,1632.5 C1252.0,1661.5 1240.4,1690.4 1233.5,1720.7 C1231.5,1729.3 1234.4,1738.1 1237.2,1747.0" fill="none" stroke="#000" stroke-width="1.3"/>
<path d="M1265.4,1632.5 L1269.1,1733.8" fill="none" stroke="#000" stroke-width="1.3"/>
<path d="M1312.3,1632.5 C1301.4,1657.0 1290.4,1681.6 1284.1,1707.6 C1280.9,1720.9 1282.5,1734.9 1284.1,1748.8" fill="none" stroke="#000" stroke-width="2.6"/>
<path d="M1265.4,1730.1 C1266.2,1734.0 1267.1,1737.9 1269.1,1741.3 C1271.0,1744.4 1273.8,1746.6 1276.6,1748.8" fill="none" stroke="#000" stroke-width="2.4"/>
<path d="M1239.1,1745.1 L1250.4,1743.2" fill="none" stroke="#000" stroke-width="1.3"/>
<path d="M1349.8,1632.5 C1337.5,1660.7 1325.1,1689.0 1317.9,1718.8 C1315.5,1728.6 1318.6,1738.7 1321.7,1748.8" fill="none" stroke="#000" stroke-width="1.3"/>
<path d="M1355.5,1632.5 C1359.5,1649.9 1363.6,1667.4 1363.0,1685.0 C1362.4,1700.5 1349.8,1714.7 1351.7,1730.1 C1352.7,1738.4 1361.6,1742.7 1370.5,1747.0" fill="none" stroke="#000" stroke-width="1.3"/>
<path d="M1355.5,1711.3 C1353.5,1716.5 1351.6,1721.7 1353.6,1726.3 C1355.8,1731.6 1361.3,1734.6 1366.7,1737.6" fill="none" stroke="#000" stroke-width="2"/>
<path d="M1394.9,1632.5 C1387.2,1653.5 1379.5,1674.6 1374.2,1696.3 C1370.1,1713.5 1368.4,1731.2 1366.7,1748.8" fill="none" stroke="#000" stroke-width="2.6"/>
<path d="M1363.0,1685.0 L1378.0,1683.2" fill="none" stroke="#000" stroke-width="1.3"/>
<path d="M1317.9,1718.8 L1284.1,1720.7" fill="none" stroke="#000" stroke-width="1.3"/>
<path d="M1370.5,1720.7 L1423.0,1718.1" fill="none" stroke="#000" stroke-width="1.3"/>
<path d="M1160.3,1720.7 L1203.5,1722.6" fill="none" stroke="#000" stroke-width="1.3"/>
<path d="M1235.4,1722.6 L1284.1,1724.4" fill="none" stroke="#000" stroke-width="1.3"/>
</g>
<g clip-path="url(#inHS)">
<path d="M1146.5,1585.0 L1322.5,1581.6 L1363.9,1571.2 L1391.5,1550.5 L1488.1,1455.7 L1498.5,1453.9 L1553.7,1464.3 L1562.3,1474.6 L1558.9,1488.4 L1498.5,1571.2 L1481.2,1581.6 L1357.0,1602.3 L1146.5,1613.3Z" fill="url(#hat2)" stroke="#000" stroke-width="1"/>
<path d="M1146.5,1310.7 C1163.2,1291.2 1179.9,1271.7 1198.3,1253.8 C1200.4,1251.8 1203.7,1251.9 1206.9,1252.1" fill="none" stroke="#000" stroke-width="1.3"/>
<path d="M1146.5,1300.4 L1194.9,1250.4" fill="none" stroke="#000" stroke-width="1.3"/>
<path d="M1224.2,1281.4 C1227.9,1283.1 1231.6,1284.8 1232.8,1288.3 C1234.2,1292.1 1233.3,1297.0 1231.1,1300.4 C1204.3,1342.1 1175.4,1382.5 1146.5,1422.9" fill="none" stroke="#000" stroke-width="1.3"/>
<path d="M1298.4,1236.5 C1283.3,1259.5 1268.2,1282.4 1253.5,1305.6 C1243.4,1321.5 1232.6,1337.0 1224.2,1353.9 C1220.4,1361.4 1217.5,1369.6 1217.3,1378.0 C1216.9,1389.6 1219.2,1401.4 1222.5,1412.5 C1226.7,1426.9 1232.3,1440.9 1239.7,1453.9 C1241.8,1457.5 1246.0,1460.1 1250.1,1460.8 C1274.0,1465.3 1298.3,1467.8 1322.5,1469.5 C1339.7,1470.6 1357.1,1471.3 1374.3,1469.5 C1383.9,1468.4 1393.3,1465.1 1401.9,1460.8 C1410.7,1456.4 1418.6,1450.1 1426.0,1443.6 C1449.7,1422.5 1472.3,1400.1 1495.0,1378.0 C1512.5,1361.0 1530.3,1344.3 1546.8,1326.3 C1548.9,1324.0 1550.9,1320.7 1550.2,1317.6 C1549.5,1314.5 1546.0,1312.6 1543.3,1310.7 C1527.5,1299.4 1511.1,1289.0 1495.0,1278.0 C1483.5,1270.0 1472.0,1261.9 1460.5,1253.8 C1452.5,1248.1 1444.4,1242.3 1436.4,1236.5" fill="none" stroke="#000" stroke-width="1.3"/>
<path d="M1305.3,1236.5 C1290.2,1259.5 1275.1,1282.4 1260.4,1305.6 C1250.0,1322.0 1239.0,1338.2 1230.0,1355.6 C1226.5,1362.5 1223.5,1370.2 1223.1,1378.0 C1222.7,1389.0 1224.6,1400.2 1227.6,1410.8 C1231.4,1423.9 1236.3,1436.9 1243.2,1448.8 C1245.2,1452.3 1249.4,1454.9 1253.5,1455.7 C1276.3,1460.1 1299.4,1462.6 1322.5,1464.3 C1339.2,1465.5 1356.0,1465.9 1372.6,1464.3 C1381.5,1463.4 1390.4,1460.7 1398.4,1456.7 C1407.3,1452.3 1415.2,1446.0 1422.6,1439.4 C1446.3,1418.6 1468.9,1396.5 1491.6,1374.6 C1508.6,1358.2 1525.3,1341.6 1541.6,1324.5 C1543.2,1322.9 1545.5,1320.9 1545.1,1318.7 C1544.5,1316.0 1541.4,1314.7 1539.2,1313.1 C1523.5,1302.0 1507.4,1291.6 1491.6,1280.7 C1480.0,1272.7 1468.3,1265.0 1457.1,1256.6 C1448.7,1250.3 1440.8,1243.4 1432.9,1236.5" fill="none" stroke="#000" stroke-width="1.3"/>
<path d="M1327.7,1236.5 C1313.9,1255.8 1300.2,1275.0 1288.0,1295.2 C1279.4,1309.5 1271.3,1324.4 1265.6,1340.1 C1262.0,1349.9 1260.4,1360.6 1260.4,1371.1 C1260.4,1379.3 1262.3,1387.7 1265.6,1395.3 C1269.4,1404.1 1274.7,1412.3 1281.1,1419.4 C1285.8,1424.6 1292.0,1428.6 1298.4,1431.5 C1312.8,1437.9 1327.7,1443.9 1343.2,1447.0 C1353.4,1449.1 1364.0,1448.3 1374.3,1447.0 C1382.6,1446.0 1390.8,1443.6 1398.4,1440.1 C1404.8,1437.2 1410.4,1432.7 1415.7,1428.0 C1436.9,1409.6 1457.1,1390.1 1477.8,1371.1 C1497.3,1353.3 1516.9,1335.4 1536.4,1317.6" fill="none" stroke="#000" stroke-width="1.3"/>
<path d="M1332.9,1236.5 C1319.1,1255.8 1305.3,1275.0 1293.2,1295.2 C1284.6,1309.5 1276.5,1324.4 1270.8,1340.1 C1267.2,1349.9 1265.6,1360.6 1265.6,1371.1 C1265.6,1378.8 1267.7,1386.5 1270.8,1393.5 C1274.3,1401.7 1279.2,1409.4 1285.3,1416.0 C1289.8,1420.8 1295.7,1424.4 1301.8,1427.0 C1315.8,1433.1 1330.1,1438.7 1344.9,1441.8 C1354.3,1443.8 1364.1,1443.4 1373.6,1442.2 C1381.2,1441.3 1388.7,1438.8 1395.7,1435.6 C1401.7,1432.9 1407.2,1428.9 1412.2,1424.6 C1433.5,1406.4 1453.6,1387.0 1474.3,1368.4 C1493.8,1350.8 1513.4,1333.4 1533.0,1315.9" fill="none" stroke="#000" stroke-width="1.3"/>
<path d="M1441.6,1248.6 L1294.9,1428.0 L1236.3,1467.7" fill="none" stroke="#000" stroke-width="2.2"/>
<path d="M1445.0,1251.0 L1298.4,1430.5 L1239.0,1470.5" fill="none" stroke="#000" stroke-width="1.3"/>
<path d="M1438.1,1246.9 L1292.2,1425.6" fill="none" stroke="#000" stroke-width="1.3"/>
<path d="M1234.5,1343.5 L1265.6,1341.8" fill="none" stroke="#000" stroke-width="1.3"/>
<path d="M1220.7,1388.4 C1235.9,1387.6 1251.0,1386.9 1263.9,1393.5 C1273.1,1398.3 1277.1,1408.9 1281.1,1419.4" fill="none" stroke="#000" stroke-width="1.3"/>
<path d="M1322.5,1469.5 C1327.8,1459.0 1333.2,1448.5 1343.2,1447.0 C1350.5,1445.9 1353.8,1455.1 1357.0,1464.3" fill="none" stroke="#000" stroke-width="1.3"/>
<path d="M1415.7,1428.0 C1415.8,1433.4 1416.0,1438.8 1414.0,1443.6 C1411.2,1450.0 1406.6,1455.4 1401.9,1460.8" fill="none" stroke="#000" stroke-width="1.3"/>
<path d="M1550.2,1317.6 L1567.5,1314.2" fill="none" stroke="#000" stroke-width="1.3"/>
<path d="M1446.7,1236.5 C1462.8,1248.6 1478.9,1260.7 1495.0,1272.8 C1513.4,1286.6 1534.1,1297.8 1550.2,1314.2 C1566.7,1330.9 1578.2,1351.9 1591.7,1371.1 C1595.5,1376.6 1600.7,1381.8 1602.0,1388.4 C1603.2,1394.1 1600.1,1400.0 1598.6,1405.6 C1594.9,1419.5 1590.5,1433.2 1586.5,1447.0 C1585.3,1451.0 1584.2,1455.1 1583.0,1459.1" fill="none" stroke="#000" stroke-width="1.3"/>
<path d="M1553.7,1326.3 C1567.4,1343.6 1581.2,1360.9 1595.1,1378.0 C1598.4,1382.1 1604.3,1384.9 1605.5,1390.1 C1606.8,1396.4 1603.6,1402.8 1602.0,1409.1 C1598.4,1423.0 1594.2,1436.7 1589.9,1450.5" fill="none" stroke="#000" stroke-width="1.3"/>
<path d="M1462.3,1236.5 C1478.9,1248.1 1495.5,1259.7 1512.3,1271.1 C1529.5,1282.7 1547.9,1292.6 1564.1,1305.6 C1582.5,1320.3 1597.7,1338.7 1615.8,1353.9 C1626.6,1362.9 1637.2,1372.9 1650.3,1378.0 C1673.5,1387.1 1698.1,1391.5 1722.8,1396.0" fill="none" stroke="#000" stroke-width="2.6"/>
<path d="M1603.7,1390.1 L1722.8,1405.6" fill="none" stroke="#000" stroke-width="1.3"/>
<path d="M1602.0,1402.2 L1722.8,1418.0" fill="none" stroke="#000" stroke-width="1.3"/>
<path d="M1146.5,1576.4 C1182.2,1575.5 1217.9,1574.6 1253.5,1573.0 C1278.8,1571.8 1304.3,1571.6 1329.4,1567.8 C1339.1,1566.3 1348.5,1562.3 1357.0,1557.4 C1367.0,1551.8 1375.6,1543.9 1384.6,1536.7 C1398.7,1525.5 1412.4,1513.9 1426.0,1502.2 C1444.6,1486.3 1461.9,1468.9 1481.2,1453.9 C1485.1,1450.9 1490.1,1448.4 1495.0,1448.8 C1513.7,1450.2 1532.2,1454.1 1550.2,1459.1 C1555.5,1460.5 1561.5,1463.0 1564.1,1467.7 C1566.2,1471.8 1564.7,1477.5 1562.3,1481.5 C1552.9,1497.5 1540.7,1511.6 1529.5,1526.4 C1518.2,1541.5 1507.0,1556.7 1495.0,1571.2 C1490.9,1576.3 1486.1,1580.7 1481.2,1585.0" fill="none" stroke="#000" stroke-width="1.3"/>
<path d="M1146.5,1581.6 C1182.2,1580.7 1217.9,1579.8 1253.5,1578.1 C1278.8,1576.9 1304.3,1576.6 1329.4,1573.0 C1340.2,1571.4 1350.3,1567.0 1360.5,1562.6" fill="none" stroke="#000" stroke-width="1.3"/>
<path d="M1329.4,1567.8 L1327.7,1581.6" fill="none" stroke="#000" stroke-width="1.3"/>
<path d="M1384.6,1536.7 L1391.5,1550.5" fill="none" stroke="#000" stroke-width="1.3"/>
<path d="M1215.6,1438.4 L1236.3,1464.3 L1239.7,1474.6 L1288.0,1478.1 L1284.6,1488.4 L1201.8,1557.4 L1165.5,1559.2 L1158.6,1533.3Z" fill="none" stroke="#000" stroke-width="2.4"/>
<ellipse cx="1229.4" cy="1487.7" rx="8" ry="7" fill="none" stroke="#000" stroke-width="2.4"/>
<path d="M1165.5,1559.2 L1146.5,1579.9" fill="none" stroke="#000" stroke-width="1.3"/>
<path d="M1158.6,1533.3 L1146.5,1554.0" fill="none" stroke="#000" stroke-width="1.3"/>
<path d="M1236.3,1464.3 C1239.7,1465.5 1243.1,1466.8 1246.6,1467.7 C1260.4,1471.4 1274.2,1474.7 1288.0,1478.1" fill="none" stroke="#000" stroke-width="1.3"/>
<path d="M1484.7,1409.1 L1510.6,1381.5 L1539.9,1405.6 L1526.1,1428.0Z" fill="none" stroke="#000" stroke-width="2.4"/>
<path d="M1510.6,1381.5 C1511.7,1390.8 1512.8,1400.2 1515.7,1409.1 C1518.0,1415.9 1522.1,1422.0 1526.1,1428.0" fill="none" stroke="#000" stroke-width="1.3"/>
<path d="M1489.9,1410.8 C1498.5,1410.3 1507.1,1409.7 1515.7,1409.1 C1522.7,1408.6 1529.5,1408.0 1536.4,1407.3" fill="none" stroke="#000" stroke-width="1.3"/>
<path d="M1495.0,1414.2 L1522.6,1422.9" fill="none" stroke="#000" stroke-width="1.3"/>
<path d="M1539.9,1405.6 L1565.8,1426.3 L1562.3,1441.8 L1529.5,1428.0Z" fill="none" stroke="#000" stroke-width="2.4"/>
<path d="M1543.3,1410.8 L1546.8,1433.2" fill="none" stroke="#000" stroke-width="1.3"/>
<path d="M1533.0,1426.3 L1560.6,1434.9" fill="none" stroke="#000" stroke-width="1.3"/>
<path d="M1226.6,1243.5 L1242.5,1237.2 L1285.6,1249.3 L1258.3,1280.7Z" fill="none" stroke="#000" stroke-width="2.2"/>
<path d="M1242.5,1237.2 C1247.5,1243.5 1252.5,1249.7 1253.5,1257.3 C1254.1,1261.4 1250.3,1264.5 1246.6,1267.6" fill="none" stroke="#000" stroke-width="1.3"/>
<path d="M1253.5,1257.3 L1285.6,1249.3" fill="none" stroke="#000" stroke-width="1.3"/>
<path d="M1253.5,1257.3 C1260.6,1260.1 1267.7,1262.9 1269.0,1269.3 C1270.1,1274.4 1264.2,1277.6 1258.3,1280.7" fill="none" stroke="#000" stroke-width="1.3"/>
<path d="M1232.8,1246.9 C1236.2,1255.1 1239.6,1263.2 1246.6,1267.6 C1253.0,1271.5 1261.0,1270.4 1269.0,1269.3" fill="none" stroke="#000" stroke-width="1.3"/>
<path d="M1652.0,1438.4 L1681.4,1440.1 L1674.5,1453.9 L1679.6,1464.3 L1695.2,1469.5 L1598.6,1605.7 L1595.1,1654.1" fill="none" stroke="#000" stroke-width="2.4"/>
<path d="M1652.0,1438.4 C1651.5,1446.4 1651.0,1454.3 1646.9,1460.8 C1605.3,1526.6 1560.5,1590.3 1515.7,1654.1" fill="none" stroke="#000" stroke-width="1.3"/>
<path d="M1633.1,1471.2 L1505.4,1643.7" fill="none" stroke="#000" stroke-width="1.3"/>
<path d="M1683.1,1471.2 C1650.5,1511.8 1617.9,1552.4 1595.1,1598.8 C1587.0,1615.4 1590.2,1634.7 1593.4,1654.1" fill="none" stroke="#000" stroke-width="1.3"/>
<path d="M1667.6,1509.1 C1644.9,1539.8 1622.3,1570.5 1608.9,1605.7 C1603.2,1620.8 1607.8,1637.4 1612.4,1654.1" fill="none" stroke="#000" stroke-width="1.3"/>
<path d="M1581.3,1460.8 L1633.1,1471.2" fill="none" stroke="#000" stroke-width="1.3"/>
<path d="M1584.8,1453.9 L1636.5,1464.3" fill="none" stroke="#000" stroke-width="1.3"/>
<path d="M1481.2,1581.6 L1474.3,1654.1" fill="none" stroke="#000" stroke-width="1.3"/>
<path d="M1512.3,1557.4 L1505.4,1640.2" fill="none" stroke="#000" stroke-width="1.3"/>
<path d="M1688.3,1491.9 L1722.8,1481.5" fill="none" stroke="#000" stroke-width="2.4"/>
<path d="M1690.0,1497.1 L1722.8,1487.7" fill="none" stroke="#000" stroke-width="1.3"/>
<path d="M1688.3,1533.3 L1722.8,1564.3" fill="none" stroke="#000" stroke-width="1.3"/>
<path d="M1612.4,1654.1 L1722.8,1626.4" fill="none" stroke="#000" stroke-width="2.4"/>
<path d="M1598.6,1619.5 C1601.6,1618.5 1604.7,1617.4 1605.5,1619.5 C1607.4,1625.0 1606.9,1631.5 1604.8,1636.8 C1604.0,1638.7 1601.3,1637.8 1598.6,1636.8" fill="none" stroke="#000" stroke-width="1.3"/>
<path d="M1169.0,1654.1 L1181.1,1623.0 L1227.6,1621.3 L1219.0,1654.1" fill="none" stroke="#000" stroke-width="2.2"/>
<path d="M1183.8,1624.7 L1188.0,1654.1" fill="none" stroke="#000" stroke-width="1.3"/>
<path d="M1255.2,1654.1 L1267.3,1621.3 L1315.6,1619.5 L1307.0,1654.1" fill="none" stroke="#000" stroke-width="2.2"/>
<path d="M1270.1,1623.0 L1274.2,1654.1" fill="none" stroke="#000" stroke-width="1.3"/>
<path d="M1344.9,1654.1 L1357.0,1614.4 L1407.1,1609.2 L1398.4,1654.1" fill="none" stroke="#000" stroke-width="2.2"/>
<path d="M1359.8,1616.1 L1363.9,1654.1" fill="none" stroke="#000" stroke-width="1.3"/>
</g>
<g clip-path="url(#inHR)">
<path d="M1623.7,2024.1 C1651.0,2008.2 1678.2,1992.4 1705.1,1975.9 C1750.5,1948.1 1795.8,1920.0 1840.7,1891.2 C1882.9,1864.1 1924.5,1836.1 1966.1,1808.1" fill="none" stroke="#000" stroke-width="3"/>
<path d="M1589.8,2024.1 C1624.9,2003.7 1660.1,1983.2 1694.9,1962.4 C1759.5,1923.7 1823.7,1884.3 1888.1,1845.4 C1914.0,1829.8 1940.1,1814.4 1966.1,1799.0" fill="none" stroke="#000" stroke-width="1.3"/>
<path d="M1596.6,2024.1 C1630.6,2004.9 1664.7,1985.7 1698.3,1965.8 C1762.4,1927.8 1826.0,1888.9 1889.8,1850.5 C1915.2,1835.2 1940.7,1820.0 1966.1,1804.7" fill="none" stroke="#000" stroke-width="1.3"/>
<path d="M1694.9,1962.4 L1688.1,1982.7" fill="none" stroke="#000" stroke-width="1.3"/>
<path d="M1888.1,1845.4 L1883.1,1862.4" fill="none" stroke="#000" stroke-width="1.3"/>
<path d="M1396.6,2015.3 C1429.1,1998.6 1461.5,1982.0 1493.2,1964.1 C1532.7,1941.8 1571.8,1918.7 1610.2,1894.6 C1653.7,1867.3 1695.9,1837.9 1739.0,1809.8 C1793.1,1774.6 1847.4,1739.7 1901.7,1704.7" fill="none" stroke="#000" stroke-width="1.3"/>
<path d="M1433.9,1870.8 C1445.1,1889.0 1456.4,1907.1 1467.8,1925.1 C1476.1,1938.2 1484.9,1951.0 1493.2,1964.1 C1500.7,1975.8 1507.7,1988.0 1515.3,1999.7 C1520.7,2008.0 1526.4,2016.0 1532.2,2024.1" fill="none" stroke="#000" stroke-width="1.3"/>
<path d="M1610.2,1894.6 C1617.7,1908.4 1625.2,1922.2 1633.9,1935.3 C1641.0,1946.0 1649.3,1955.9 1657.6,1965.8 C1661.8,1970.6 1666.5,1975.0 1671.2,1979.3" fill="none" stroke="#000" stroke-width="1.3"/>
<path d="M1901.7,1704.7 C1906.9,1715.2 1912.2,1725.6 1918.6,1735.3 C1925.8,1746.0 1933.4,1756.5 1942.4,1765.8 C1949.4,1773.0 1957.7,1778.7 1966.1,1784.4" fill="none" stroke="#000" stroke-width="1.3"/>
<path d="M1523.7,1648.8 C1545.9,1648.9 1568.0,1649.0 1589.8,1652.2 C1592.3,1652.6 1590.7,1658.9 1593.2,1659.0 C1612.5,1659.5 1631.7,1655.9 1650.8,1653.9 C1674.6,1651.4 1698.1,1645.8 1722.0,1645.4 C1733.6,1645.2 1745.0,1648.5 1755.9,1652.2 C1773.4,1658.1 1789.4,1668.0 1806.8,1674.2 C1817.7,1678.2 1829.0,1682.2 1840.7,1682.7 C1857.7,1683.4 1874.6,1679.3 1891.5,1677.6 C1916.4,1675.1 1941.2,1672.7 1966.1,1670.2" fill="none" stroke="#000" stroke-width="2.6"/>
<path d="M1555.9,1674.2 C1583.1,1673.7 1610.2,1673.1 1637.3,1672.5 C1665.5,1672.0 1693.8,1669.6 1722.0,1670.8 C1733.5,1671.3 1744.8,1674.5 1755.9,1677.6 C1773.1,1682.4 1789.6,1689.8 1806.8,1694.6 C1820.1,1698.3 1833.6,1702.4 1847.5,1703.1 C1867.8,1704.1 1888.2,1701.5 1908.5,1699.7 C1927.8,1698.0 1946.9,1695.2 1966.1,1692.5" fill="none" stroke="#000" stroke-width="2.6"/>
<path d="M1523.7,1648.8 C1522.2,1650.5 1520.7,1652.2 1521.4,1653.9 C1522.7,1657.2 1525.9,1659.4 1528.8,1661.4 C1536.4,1666.3 1544.4,1670.3 1552.5,1674.2" fill="none" stroke="#000" stroke-width="2.4"/>
<path d="M1654.2,1653.9 C1676.8,1651.2 1699.4,1648.4 1722.0,1648.8 C1733.6,1649.0 1745.0,1651.9 1755.9,1655.6 C1773.4,1661.5 1789.4,1671.4 1806.8,1677.6 C1817.7,1681.6 1829.0,1685.6 1840.7,1686.1 C1857.7,1686.8 1874.6,1682.5 1891.5,1681.0 C1916.4,1678.9 1941.2,1677.1 1966.1,1675.3" fill="none" stroke="#000" stroke-width="4.5"/>
<path d="M1528.8,1652.9 L1589.8,1654.6" fill="none" stroke="#000" stroke-width="1.3"/>
<path d="M1545.8,1660.7 L1555.9,1674.2" fill="none" stroke="#000" stroke-width="1.3"/>
<path d="M1837.3,1684.4 C1837.8,1681.3 1838.2,1678.2 1840.7,1677.6 C1853.9,1674.6 1867.8,1673.5 1881.4,1674.2 C1884.4,1674.4 1886.3,1677.4 1888.1,1680.3" fill="none" stroke="#000" stroke-width="1.3"/>
<path d="M1589.8,1633.6 L1593.2,1652.2" fill="none" stroke="#000" stroke-width="2.4"/>
<path d="M1596.6,1633.6 C1596.9,1636.1 1597.2,1638.7 1598.3,1641.0 C1599.5,1643.4 1600.9,1646.1 1603.4,1647.1 C1607.6,1648.9 1612.3,1648.8 1616.9,1648.8" fill="none" stroke="#000" stroke-width="1.3"/>
<path d="M1650.8,1653.9 L1705.1,1620.0" fill="none" stroke="#000" stroke-width="2.6"/>
<path d="M1772.9,1657.3 L1800.0,1620.0" fill="none" stroke="#000" stroke-width="2.8"/>
<path d="M1820.3,1670.8 L1854.2,1640.3" fill="none" stroke="#000" stroke-width="1.3"/>
<path d="M1857.6,1620.0 L1864.4,1670.8" fill="none" stroke="#000" stroke-width="2.6"/>
<path d="M1874.6,1620.0 L1878.0,1633.6 L1888.1,1636.9 L1955.9,1630.2" fill="none" stroke="#000" stroke-width="2.2"/>
<path d="M1881.4,1653.9 L1891.5,1674.2" fill="none" stroke="#000" stroke-width="1.3"/>
<path d="M1881.4,1653.9 L1966.1,1632.9" fill="none" stroke="#000" stroke-width="2.2"/>
<path d="M1616.9,1648.8 L1650.8,1649.8" fill="none" stroke="#000" stroke-width="1.3"/>
<path d="M1396.6,1722.4 C1407.6,1723.2 1418.6,1723.9 1427.1,1718.3 C1439.2,1710.3 1444.8,1695.4 1454.2,1684.4 C1473.0,1662.6 1492.5,1641.3 1511.9,1620.0" fill="none" stroke="#000" stroke-width="1.3"/>
<path d="M1396.6,1733.6 C1409.2,1725.4 1421.9,1717.2 1433.9,1708.1 C1442.2,1701.9 1450.4,1695.3 1457.6,1687.8 C1478.7,1665.9 1498.7,1642.9 1518.6,1620.0" fill="none" stroke="#000" stroke-width="1.3"/>
<path d="M1396.6,1816.6 C1429.1,1770.1 1461.6,1723.6 1494.9,1677.6 C1509.1,1658.0 1524.0,1639.0 1539.0,1620.0" fill="none" stroke="#000" stroke-width="1.3"/>
<path d="M1403.4,1823.4 C1436.0,1775.8 1468.6,1728.3 1501.7,1681.0 C1516.1,1660.5 1530.9,1640.2 1545.8,1620.0" fill="none" stroke="#000" stroke-width="1.3"/>
<path d="M1494.9,1677.6 L1518.6,1731.9 L1396.6,1812.5" fill="none" stroke="#000" stroke-width="1.3"/>
<path d="M1403.4,1814.9 L1416.9,1860.7" fill="none" stroke="#000" stroke-width="1.3"/>
<path d="M1450.8,1684.4 L1471.2,1674.2" fill="none" stroke="#000" stroke-width="1.3"/>
<path d="M1396.6,1872.9 C1434.0,1849.8 1471.4,1826.7 1508.5,1803.1 C1537.0,1784.8 1565.1,1766.0 1593.2,1747.1" fill="none" stroke="#000" stroke-width="2.8"/>
<path d="M1396.6,1883.7 C1436.4,1859.5 1476.2,1835.3 1515.3,1809.8 C1545.2,1790.3 1572.8,1767.3 1603.4,1748.8 C1616.0,1741.2 1630.0,1736.1 1644.1,1731.9 C1656.2,1728.2 1669.2,1728.5 1681.4,1725.1 C1687.4,1723.4 1693.0,1720.0 1698.3,1716.6 C1716.8,1704.7 1734.7,1692.0 1752.5,1679.3" fill="none" stroke="#000" stroke-width="1.3"/>
<path d="M1396.6,1878.3 C1435.2,1854.6 1473.8,1831.0 1511.9,1806.4 C1541.1,1787.6 1568.4,1765.8 1598.3,1748.1 C1612.1,1740.0 1627.1,1733.9 1642.4,1729.2 C1654.4,1725.4 1667.0,1724.1 1679.7,1722.7" fill="none" stroke="#000" stroke-width="1.3"/>
<path d="M1593.2,1747.1 C1610.0,1740.3 1626.7,1733.5 1644.1,1728.5 C1656.2,1725.0 1669.3,1725.3 1681.4,1721.7 C1686.5,1720.2 1690.4,1716.1 1694.9,1713.2 C1713.0,1701.4 1731.1,1689.5 1749.2,1677.6" fill="none" stroke="#000" stroke-width="2.2"/>
<path d="M1593.2,1747.1 L1688.1,1675.9" fill="none" stroke="#000" stroke-width="1.3"/>
<path d="M1603.4,1745.4 L1705.1,1677.6" fill="none" stroke="#000" stroke-width="1.3"/>
<path d="M1644.1,1728.5 L1725.4,1679.3" fill="none" stroke="#000" stroke-width="1.3"/>
<path d="M1511.9,1804.7 L1518.6,1813.2" fill="none" stroke="#000" stroke-width="1.3"/>
</g>
<path d="M1209.0,1257.0 L1224.0,1291.0 L1137.0,1433.0 L1130.0,1463.0 L1135.0,1518.0 L1151.0,1581.0 L1128.0,1601.0 L1114.0,1497.0 L1109.0,1412.0 L1114.0,1367.0 L1190.0,1270.0Z" fill="#000" stroke="#000" stroke-width="1.5" stroke-linejoin="round"/>
<path d="M977.3,2493.8 L919.8,2610.4 M1020.3,2515.0 L962.9,2631.6" stroke="#000" stroke-width="3" fill="none"/>
<ellipse cx="998.8" cy="2504.4" rx="24.0" ry="7" transform="rotate(26.2 998.8 2504.4)" fill="#fff" stroke="#000" stroke-width="2.4"/>
<ellipse cx="1003.2" cy="2495.4" rx="20.0" ry="6" transform="rotate(26.2 1003.2 2495.4)" fill="#fff" stroke="#000" stroke-width="3"/>
<path d="M972.0,2504.6 A24.0,7 26.2 0 0 1015.0,2525.8" fill="none" stroke="#000" stroke-width="1.3"/>
<ellipse cx="1012.9" cy="2475.7" rx="21" ry="4" transform="rotate(26.2 1012.9 2475.7)" fill="#fff" stroke="#000" stroke-width="2.4"/>
<path d="M1003.2,2495.4 L1023.1,2455.1" stroke="#000" stroke-width="1.6"/>
<rect x="905.7" y="2621.7" width="66.0" height="9.5" rx="4.7" transform="rotate(26.2 938.7 2626.4)" fill="#fff" stroke="#000" stroke-width="2.6"/>
<rect x="899.9" y="2633.4" width="66.0" height="9.5" rx="4.7" transform="rotate(26.2 932.9 2638.1)" fill="#fff" stroke="#000" stroke-width="2.6"/>
<rect x="894.2" y="2645.0" width="66.0" height="9.5" rx="4.7" transform="rotate(26.2 927.2 2649.7)" fill="#fff" stroke="#000" stroke-width="2.6"/>
<rect x="888.4" y="2656.7" width="66.0" height="9.5" rx="4.7" transform="rotate(26.2 921.4 2661.4)" fill="#fff" stroke="#000" stroke-width="2.6"/>
<rect x="882.7" y="2668.3" width="66.0" height="9.5" rx="4.7" transform="rotate(26.2 915.7 2673.0)" fill="#fff" stroke="#000" stroke-width="2.6"/>
<rect x="877.0" y="2680.0" width="66.0" height="9.5" rx="4.7" transform="rotate(26.2 910.0 2684.7)" fill="#fff" stroke="#000" stroke-width="2.6"/>
<rect x="871.2" y="2691.7" width="66.0" height="9.5" rx="4.7" transform="rotate(26.2 904.2 2696.4)" fill="#fff" stroke="#000" stroke-width="2.6"/>
<rect x="865.5" y="2703.3" width="66.0" height="9.5" rx="4.7" transform="rotate(26.2 898.5 2708.0)" fill="#fff" stroke="#000" stroke-width="2.6"/>
<rect x="859.7" y="2715.0" width="66.0" height="9.5" rx="4.7" transform="rotate(26.2 892.7 2719.7)" fill="#fff" stroke="#000" stroke-width="2.6"/>
<rect x="854.0" y="2726.6" width="66.0" height="9.5" rx="4.7" transform="rotate(26.2 887.0 2731.3)" fill="#fff" stroke="#000" stroke-width="2.6"/>
<rect x="848.2" y="2738.3" width="66.0" height="9.5" rx="4.7" transform="rotate(26.2 881.2 2743.0)" fill="#fff" stroke="#000" stroke-width="2.6"/>
<rect x="847.5" y="2750.0" width="56.0" height="9.5" rx="4.7" transform="rotate(26.2 875.5 2754.7)" fill="#fff" stroke="#000" stroke-width="2.6"/>
<rect x="846.7" y="2761.6" width="46.0" height="9.5" rx="4.7" transform="rotate(26.2 869.7 2766.3)" fill="#fff" stroke="#000" stroke-width="2.6"/>
<rect x="846.0" y="2773.3" width="36.0" height="9.5" rx="4.7" transform="rotate(26.2 864.0 2778.0)" fill="#fff" stroke="#000" stroke-width="2.6"/>
<path d="M943.1,2621.9 L862.7,2785.1" stroke="#000" stroke-width="1.6"/>
<ellipse cx="857.4" cy="2791.4" rx="20" ry="5" transform="rotate(26.2 857.4 2791.4)" fill="#fff" stroke="#000" stroke-width="2.4"/>
<ellipse cx="853.4" cy="2799.5" rx="14" ry="4" transform="rotate(26.2 853.4 2799.5)" fill="#fff" stroke="#000" stroke-width="2.4"/>
<ellipse cx="849.4" cy="2807.6" rx="16" ry="4" transform="rotate(26.2 849.4 2807.6)" fill="#fff" stroke="#000" stroke-width="2.4"/>
<path d="M1019.9,2428.0 L1006.6,2450.4 L1005.8,2456.7 L1030.9,2469.1 L1035.3,2464.6 L1045.0,2440.4Z" fill="#fff" stroke="#000" stroke-width="2.4"/>
<path d="M1010.2,2443.2 L1038.9,2457.4 M1007.1,2449.5 L1035.8,2463.7" stroke="#000" stroke-width="2" fill="none"/>
<path d="M1003.7,2402.1 L997.5,2414.7 L1025.3,2430.6 L1031.5,2418.1Z" fill="#fff" stroke="#000" stroke-width="2.6"/>
<path d="M1006.8,2409.3 L1004.2,2414.7 L1019.9,2423.5 L1022.5,2418.1Z" fill="#000" stroke="#000" stroke-width="2.4"/>
<path d="M1045.8,2425.2 L1039.6,2437.7 L1068.3,2451.9 L1074.5,2439.3Z" fill="#fff" stroke="#000" stroke-width="2.6"/>
<path d="M1051.2,2432.3 L1048.6,2437.7 L1064.7,2445.6 L1067.4,2440.2Z" fill="#000" stroke="#000" stroke-width="2.4"/>
<circle cx="1036.0" cy="2427.0" r="11" fill="#fff" stroke="#000" stroke-width="2.4"/>
<circle cx="1041.4" cy="2429.7" r="5" fill="#fff" stroke="#000" stroke-width="1.6"/>
<path d="M823.0,2829.6 L832.7,2805.4 L837.1,2800.9 L862.2,2813.3 L861.4,2819.6 L848.1,2842.0Z" fill="#fff" stroke="#000" stroke-width="2.4"/>
<path d="M829.1,2812.6 L857.8,2826.8 M832.2,2806.3 L860.9,2820.5" stroke="#000" stroke-width="2" fill="none"/>
<path d="M792.6,2832.5 L798.8,2819.9 L828.4,2832.3 L822.2,2844.8Z" fill="#fff" stroke="#000" stroke-width="2.6"/>
<path d="M800.2,2830.7 L802.8,2825.3 L819.4,2832.3 L816.8,2837.7Z" fill="#000" stroke="#000" stroke-width="2.4"/>
<path d="M836.5,2851.9 L842.7,2839.4 L871.4,2853.5 L865.2,2866.1Z" fill="#fff" stroke="#000" stroke-width="2.6"/>
<path d="M845.5,2851.9 L848.1,2846.5 L864.3,2854.4 L861.6,2859.8Z" fill="#000" stroke="#000" stroke-width="2.4"/>
<circle cx="832.0" cy="2843.0" r="11" fill="#fff" stroke="#000" stroke-width="2.4"/>
<circle cx="837.4" cy="2845.7" r="5" fill="#fff" stroke="#000" stroke-width="1.6"/>
<path d="M1187.3,2376.5 L1068.2,2443.3" fill="none" stroke="#000" stroke-width="1.6"/>
<path d="M1164.0,2552.3 L1026.0,2488.4" fill="none" stroke="#000" stroke-width="1.6"/>
<path d="M1257.0,2794.9 L966.5,2607.5" fill="none" stroke="#000" stroke-width="1.6"/>
<path d="M798.7,2721.3 L843.3,2793.0" fill="none" stroke="#000" stroke-width="1.6"/>
<path d="M1008.0,2746.5 L849.0,2833.7" fill="none" stroke="#000" stroke-width="1.6"/>
<path d="M634.2,2560.0 C620.7,2583.1 607.3,2606.2 595.5,2630.2 C582.7,2656.6 572.4,2684.1 560.4,2711.0 C548.9,2736.8 538.3,2763.1 525.3,2788.2 C521.9,2794.9 516.2,2800.1 511.3,2805.8 C499.8,2818.9 488.0,2831.6 476.2,2844.4" fill="none" stroke="#000" stroke-width="3"/>
<path d="M472.7,2854.9 C467.9,2867.6 463.2,2880.3 460.4,2893.5 C458.4,2902.7 457.7,2912.3 458.6,2921.6 C459.5,2930.1 462.4,2938.3 465.6,2946.2 C470.1,2957.1 476.2,2967.3 481.4,2977.8 C491.4,2997.7 501.1,3017.7 511.3,3037.5 C521.6,3057.5 531.4,3077.8 542.9,3097.2 C545.0,3100.7 548.3,3103.3 551.7,3105.9 C578.0,3108.7 604.4,3111.5 630.7,3114.7 C665.8,3119.1 700.8,3124.8 736.0,3128.8 C757.6,3131.2 779.2,3132.4 800.9,3133.7" fill="none" stroke="#000" stroke-width="3"/>
<path d="M639.4,2560.0 C629.2,2579.7 618.9,2599.5 609.6,2619.7 C597.3,2646.3 586.2,2673.5 574.5,2700.4 C562.8,2727.4 552.5,2754.9 539.4,2781.2 C533.7,2792.5 523.4,2801.2 518.3,2812.8 C514.5,2821.5 512.4,2831.4 513.0,2840.9 C513.6,2850.7 517.1,2860.4 521.8,2869.0 C530.7,2885.2 542.3,2899.8 553.4,2914.6 C563.4,2927.9 574.5,2940.3 585.0,2953.2 C595.0,2965.5 604.9,2977.8 614.9,2990.1 C631.8,2994.4 648.7,2998.7 665.8,3002.4 C689.1,3007.4 712.5,3012.0 736.0,3016.4 C757.6,3020.5 779.3,3024.0 800.9,3027.6" fill="none" stroke="#000" stroke-width="3"/>
<path d="M630.7,2574.0 C618.9,2599.8 607.2,2625.5 595.5,2651.3 C583.8,2677.0 572.3,2702.8 560.4,2728.5 C551.2,2748.5 541.9,2768.4 532.3,2788.2 C527.2,2798.8 520.3,2808.6 516.5,2819.8 C514.3,2826.5 513.7,2833.9 514.8,2840.9 C516.7,2852.9 519.5,2865.2 525.3,2876.0 C534.9,2893.7 548.4,2909.0 560.4,2925.1 C569.4,2937.1 578.9,2948.8 588.5,2960.2 C597.6,2971.0 607.1,2981.4 616.6,2991.8" fill="none" stroke="#000" stroke-width="1.3"/>
<path d="M635.9,2574.0 C624.9,2599.8 613.9,2625.6 602.6,2651.3 C591.1,2677.1 579.0,2702.7 567.5,2728.5 C558.6,2748.4 550.2,2768.5 541.1,2788.2 C536.2,2798.9 529.0,2808.6 525.3,2819.8 C523.1,2826.5 522.4,2833.9 523.6,2840.9 C525.4,2851.8 528.8,2862.7 534.1,2872.5 C543.6,2889.9 555.9,2905.5 567.5,2921.6 C576.4,2934.2 586.2,2946.2 595.5,2958.5 C604.4,2970.2 613.1,2981.9 621.9,2993.6" fill="none" stroke="#000" stroke-width="1.3"/>
<path d="M627.1,2581.1 C614.3,2608.0 601.4,2634.9 588.5,2661.8 C576.8,2686.4 565.3,2711.1 553.4,2735.5 C544.3,2754.4 534.8,2773.0 525.3,2791.7" fill="none" stroke="#000" stroke-width="1.3"/>
<path d="M614.9,2990.1 L544.6,3097.2" fill="none" stroke="#000" stroke-width="2.6"/>
<path d="M528.8,2858.4 L479.7,2970.8" fill="none" stroke="#000" stroke-width="1.3"/>
<path d="M472.7,2854.9 L518.3,2805.8" fill="none" stroke="#000" stroke-width="1.3"/>
<path d="M513.0,2840.9 C493.8,2883.6 474.5,2926.4 479.7,2970.8 C485.1,3017.6 514.0,3057.4 542.9,3097.2" fill="none" stroke="#000" stroke-width="1.3"/>
<path d="M476.2,2956.7 L525.3,2858.4" fill="none" stroke="#000" stroke-width="1.3"/>
<path d="M467.4,2946.2 L479.7,2970.8" fill="none" stroke="#000" stroke-width="1.3"/>
<path d="M546.4,3100.7 C574.5,3102.8 602.6,3105.0 630.7,3107.7 C663.5,3110.8 696.2,3114.5 729.0,3118.2" fill="none" stroke="#000" stroke-width="1.3"/>
<path d="M544.6,3097.2 L729.0,3116.5" fill="none" stroke="#000" stroke-width="1.3"/>
<path d="M729.0,3118.2 L800.9,3051.5" fill="none" stroke="#000" stroke-width="1.3"/>
<path d="M736.0,3121.7 L800.9,3062.1" fill="none" stroke="#000" stroke-width="1.3"/>
<path d="M729.0,3118.2 L800.9,3111.9" fill="none" stroke="#000" stroke-width="1.3"/>
<path d="M736.0,3127.0 L800.9,3124.5" fill="none" stroke="#000" stroke-width="1.3"/>
<path d="M602.6,2647.8 C612.2,2647.6 621.7,2647.4 630.7,2644.3 C645.5,2639.1 657.4,2626.4 672.8,2623.2 C693.4,2618.9 715.0,2620.5 736.0,2622.5 C740.8,2622.9 745.9,2626.0 748.3,2630.2 C751.7,2636.5 752.7,2644.2 751.8,2651.3 C750.9,2657.8 747.6,2664.2 743.0,2668.8 C739.5,2672.4 733.9,2673.8 729.0,2674.1 C707.9,2675.5 686.7,2671.9 665.8,2674.1 C658.2,2674.9 651.1,2678.7 644.7,2682.9 C632.2,2691.1 620.6,2700.8 609.6,2711.0 C592.5,2726.6 576.5,2743.4 560.4,2760.1" fill="none" stroke="#000" stroke-width="2.4"/>
<path d="M609.6,2652.0 C618.0,2651.7 626.4,2651.4 634.2,2648.5 C648.0,2643.1 659.0,2630.6 673.5,2627.4 C693.3,2623.1 713.7,2624.9 734.2,2626.7" fill="none" stroke="#000" stroke-width="1.3"/>
<path d="M665.8,2674.1 L672.8,2623.2" fill="none" stroke="#000" stroke-width="1.3"/>
<path d="M630.7,2644.3 L609.6,2707.5" fill="none" stroke="#000" stroke-width="1.3"/>
<path d="M616.6,2647.1 L585.0,2725.0" fill="none" stroke="#000" stroke-width="1.3"/>
<path d="M560.4,2760.1 C568.0,2755.6 575.6,2751.1 578.0,2756.6 C581.8,2765.5 575.8,2776.4 571.0,2784.7 C567.2,2791.2 560.4,2796.0 553.4,2798.7 C550.5,2799.9 547.6,2797.6 544.6,2795.2" fill="none" stroke="#000" stroke-width="2.4"/>
<path d="M595.5,2654.8 C599.1,2658.3 602.6,2661.8 606.1,2660.1 C608.9,2658.7 605.7,2655.0 602.6,2651.3" fill="none" stroke="#000" stroke-width="1.3"/>
<path d="M563.9,2728.5 L574.5,2733.8" fill="none" stroke="#000" stroke-width="1.3"/>
<ellipse cx="716.0" cy="2647.8" rx="8" ry="6" fill="#666" stroke="#000" stroke-width="2"/>
<path d="M549.9,2837.4 C561.2,2827.5 577.1,2822.4 592.0,2821.6 C599.6,2821.1 605.9,2828.5 611.3,2833.8 C616.2,2838.7 619.8,2844.9 621.9,2851.4 C622.9,2854.8 622.9,2859.7 620.1,2861.9 C607.4,2872.1 593.8,2882.8 578.0,2886.5 C571.3,2888.1 565.3,2880.8 560.4,2876.0 C555.6,2871.2 551.7,2865.0 549.9,2858.4 C548.1,2851.6 544.6,2842.0 549.9,2837.4Z" fill="none" stroke="#000" stroke-width="2.4"/>
<path d="M567.5,2851.4 L595.5,2835.6" fill="none" stroke="#000" stroke-width="3"/>
<path d="M574.5,2865.4 L602.6,2851.4" fill="none" stroke="#000" stroke-width="4"/>
<path d="M571.0,2890.0 C573.3,2888.9 575.7,2887.8 578.0,2886.5 C592.7,2878.4 607.3,2870.2 621.9,2861.9" fill="none" stroke="#000" stroke-width="1.3"/>
<path d="M553.4,2858.4 C559.7,2853.0 565.9,2847.6 571.0,2851.4 C575.7,2855.0 571.6,2862.0 567.5,2869.0" fill="none" stroke="#000" stroke-width="1.3"/>
<ellipse cx="783.4" cy="2962.0" rx="16.5" ry="12" fill="#fff" stroke="#000" stroke-width="2.4"/>
<rect x="776.4" y="2946.0" width="12" height="12" rx="3" fill="#fff" stroke="#000" stroke-width="2.2"/>
<path d="M704.4,2591.6 L781.6,2953.2" fill="none" stroke="#000" stroke-width="1.6" stroke-dasharray="22 10 6 10"/>
<path d="M194.5,2665.1 L474.1,2849.0" fill="none" stroke="#000" stroke-width="1.6"/>
<path d="M800.0,3134.5 C818.6,3134.5 837.2,3134.4 855.7,3132.6 C874.4,3130.7 892.9,3126.9 911.4,3123.4 C920.8,3121.6 930.4,3120.1 939.2,3116.4 C958.4,3108.4 976.5,3098.1 994.9,3088.6 C1022.9,3074.0 1051.1,3059.8 1078.5,3044.0 C1092.9,3035.6 1107.6,3027.2 1120.2,3016.2 C1129.2,3008.4 1135.7,2998.1 1142.5,2988.3 C1158.9,2964.6 1173.7,2939.8 1189.8,2915.9 C1198.8,2902.7 1208.8,2890.2 1217.7,2876.9 C1219.1,2874.9 1221.1,2872.4 1220.5,2870.0 C1219.9,2867.7 1217.2,2866.3 1214.9,2865.8 C1212.6,2865.3 1210.3,2866.3 1207.9,2867.2" fill="none" stroke="#000" stroke-width="3"/>
<path d="M1207.9,2867.2 C1192.4,2874.7 1176.9,2882.2 1162.0,2890.9 C1141.1,2903.1 1121.7,2917.8 1100.7,2929.9 C1084.5,2939.2 1067.3,2946.6 1050.6,2954.9 C1032.0,2964.2 1013.0,2972.5 994.9,2982.8 C985.1,2988.3 976.6,2996.2 967.1,3002.3 C956.2,3009.2 945.4,3016.5 933.7,3021.7 C926.7,3024.9 918.9,3026.1 911.4,3027.3 C902.2,3028.8 892.9,3030.0 883.5,3030.1 C855.7,3030.4 827.8,3029.6 800.0,3028.7" fill="none" stroke="#000" stroke-width="3"/>
<path d="M1201.0,2875.6 C1187.8,2882.0 1174.6,2888.3 1162.0,2895.9 C1141.6,2908.1 1122.7,2922.9 1102.1,2934.9 C1086.0,2944.3 1068.7,2951.6 1052.0,2959.9 C1033.4,2969.2 1014.4,2977.5 996.3,2987.8 C986.9,2993.1 978.9,3000.6 969.9,3006.4 C959.9,3012.8 949.6,3018.7 939.2,3024.5" fill="none" stroke="#000" stroke-width="2.2"/>
<path d="M939.2,3034.3 L978.2,3010.6 L1059.0,2960.5 L1134.1,2924.3 L1188.4,2897.8 L1194.0,2902.0 L1134.1,2989.7 L1128.6,2991.1 L1078.5,3002.3 L981.0,3021.7 L942.0,3038.5Z" fill="none" stroke="#000" stroke-width="1.3"/>
<path d="M950.4,3034.3 L983.8,3014.8 L1061.7,2966.1 L1134.1,2931.2 L1181.5,2907.6 L1173.1,2921.5 L1125.8,2986.9 L1078.5,2998.1 L983.8,3017.6Z" fill="none" stroke="#000" stroke-width="1.3"/>
<path d="M972.6,3010.6 C1002.2,2994.4 1031.8,2978.2 1061.7,2962.7 C1085.6,2950.4 1109.9,2938.7 1134.1,2927.1" fill="none" stroke="#000" stroke-width="1.3"/>
<path d="M978.2,3019.0 L1078.5,3000.0" fill="none" stroke="#000" stroke-width="1.3"/>
<path d="M844.6,3105.3 C863.1,3084.8 881.6,3064.4 900.2,3044.0 C902.0,3042.1 903.9,3040.3 905.8,3038.5" fill="none" stroke="#000" stroke-width="1.3"/>
<path d="M852.9,3105.3 L907.2,3042.6" fill="none" stroke="#000" stroke-width="1.3"/>
<path d="M852.9,3102.5 C881.1,3089.7 909.4,3076.9 939.2,3069.1 C977.5,3059.1 1016.8,3054.4 1056.2,3049.6" fill="none" stroke="#000" stroke-width="1.3"/>
<path d="M1056.2,3049.6 C1060.1,3051.8 1064.1,3053.9 1061.7,3055.2 C1035.0,3069.5 1005.7,3078.5 978.2,3091.4 C962.0,3098.9 947.4,3109.6 930.9,3116.4 C915.7,3122.7 899.6,3126.5 883.5,3130.3" fill="none" stroke="#000" stroke-width="1.3"/>
<path d="M866.8,3116.4 C904.1,3104.7 941.3,3093.1 978.2,3080.2 C1002.6,3071.7 1026.6,3062.0 1050.6,3052.4" fill="none" stroke="#000" stroke-width="1.3"/>
<path d="M800.0,3116.4 L844.6,3105.3" fill="none" stroke="#000" stroke-width="1.3"/>
<path d="M800.0,3130.3 C823.4,3127.6 846.8,3124.9 869.6,3119.2 C906.4,3110.0 942.3,3097.9 978.2,3085.8" fill="none" stroke="#000" stroke-width="1.3"/>
<path d="M800.0,3135.9 C827.9,3134.9 855.8,3133.8 883.5,3130.3 C900.5,3128.2 917.1,3123.7 933.7,3119.2" fill="none" stroke="#000" stroke-width="1.3"/>
<path d="M933.7,3024.5 L937.8,3071.9" fill="none" stroke="#000" stroke-width="1.3"/>
<path d="M978.2,3077.4 L978.2,3091.4" fill="none" stroke="#000" stroke-width="1.3"/>
<path d="M1081.2,3002.3 C1082.3,3006.4 1083.3,3010.6 1086.8,3012.0 C1089.7,3013.2 1092.4,3010.5 1095.2,3007.8" fill="none" stroke="#000" stroke-width="1.3"/>
<path d="M1167.6,2893.7 L1173.1,2904.8" fill="none" stroke="#000" stroke-width="1.3"/>
<path d="M1184.3,2888.1 L1187.0,2896.4" fill="none" stroke="#000" stroke-width="1.3"/>
<path d="M1031.1,2971.6 L1036.7,2980.0" fill="none" stroke="#000" stroke-width="1.3"/>
<path d="M1059.0,2956.3 L1064.5,2966.1" fill="none" stroke="#000" stroke-width="1.3"/>
<path d="M1100.7,2932.6 L1106.3,2941.0" fill="none" stroke="#000" stroke-width="1.3"/>
<path d="M925.3,3116.4 L930.9,3124.8" fill="none" stroke="#000" stroke-width="1.3"/>
<path d="M827.8,3032.9 L800.0,3066.3" fill="none" stroke="#000" stroke-width="1.3"/>
<path d="M833.4,3035.7 L805.6,3069.1" fill="none" stroke="#000" stroke-width="1.3"/>
<path d="M827.8,3032.9 C852.0,3036.6 876.1,3040.4 900.2,3038.5 C912.3,3037.5 923.0,3031.0 933.7,3024.5" fill="none" stroke="#000" stroke-width="1.3"/>
<path d="M858.5,3035.7 L859.9,3044.0" fill="none" stroke="#000" stroke-width="1.3"/>
<path d="M905.8,3038.5 L855.7,3099.7" fill="none" stroke="#000" stroke-width="1.3"/>
<path d="M800.0,3122.0 C818.8,3120.2 837.5,3118.5 855.7,3113.6 C897.1,3102.6 937.6,3088.4 978.2,3074.6 C1011.9,3063.3 1046.0,3052.8 1078.5,3038.5 C1094.5,3031.4 1108.7,3021.0 1123.0,3010.6" fill="none" stroke="#000" stroke-width="1.3"/>
<path d="M1078.5,3044.0 L1128.6,2991.1" fill="none" stroke="#000" stroke-width="1.3"/>
<path d="M992.1,2824.0 C992.5,2820.9 992.8,2817.8 994.9,2815.7 C997.9,2812.8 1001.9,2810.6 1006.1,2810.1 C1020.8,2808.3 1035.8,2807.6 1050.6,2808.7 C1054.7,2809.0 1059.3,2810.9 1061.7,2814.3 C1065.4,2819.5 1066.0,2826.2 1067.3,2832.4 C1071.6,2852.7 1074.6,2873.3 1078.5,2893.7 C1081.1,2907.6 1083.9,2921.5 1086.8,2935.4" fill="none" stroke="#000" stroke-width="2.6"/>
<path d="M992.1,2824.0 C994.8,2839.8 997.6,2855.6 1000.5,2871.4 C1002.2,2880.7 1005.6,2889.8 1006.1,2899.2 C1006.6,2910.4 1005.3,2921.6 1003.3,2932.6 C1001.5,2942.2 998.6,2951.5 994.9,2960.5 C992.1,2967.4 987.7,2973.6 983.8,2980.0 C980.3,2985.7 976.5,2991.2 972.6,2996.7" fill="none" stroke="#000" stroke-width="2.4"/>
<path d="M1004.7,2872.8 L1067.3,2858.8" fill="none" stroke="#000" stroke-width="1.3"/>
<path d="M1006.1,2938.2 L1078.5,2909.0" fill="none" stroke="#000" stroke-width="1.3"/>
<path d="M994.9,2966.1 L1086.8,2924.3" fill="none" stroke="#000" stroke-width="1.3"/>
<ellipse cx="1028.9" cy="2831.8" rx="8.5" ry="6" fill="#777" stroke="#000" stroke-width="2"/>
<path d="M1071.5,2931.2 L1075.7,2939.6" fill="none" stroke="#000" stroke-width="5"/>
<path d="M988.0,2977.2 L993.5,2985.0" fill="none" stroke="#000" stroke-width="5"/>
<path d="M800.0,3023.1 C816.0,3012.4 832.1,3001.6 850.1,2995.3 C860.6,2991.6 872.6,2992.0 883.5,2993.9 C891.7,2995.3 899.2,3000.0 905.8,3005.0 C907.7,3006.5 908.5,3010.0 907.2,3012.0 C903.4,3018.1 897.6,3022.7 891.9,3027.3" fill="none" stroke="#000" stroke-width="2.4"/>
<path d="M836.2,3012.0 L855.7,3003.6" fill="none" stroke="#000" stroke-width="3.2"/>
<path d="M864.0,3013.4 L886.3,3006.4" fill="none" stroke="#000" stroke-width="3.2"/>
<path d="M825.1,3021.7 L847.3,3021.7 L848.7,3027.3" fill="none" stroke="#000" stroke-width="2"/>
<ellipse cx="1095.2" cy="3147.6" rx="15.5" ry="11.5" fill="#fff" stroke="#000" stroke-width="2.4"/>
<rect x="1088.2" y="3131.6" width="11" height="12" rx="3" fill="#fff" stroke="#000" stroke-width="2.2"/>
<path d="M1112.2,3147.6 L1385.0,3145.0" fill="none" stroke="#000" stroke-width="1.6"/>
<path d="M1018.6,2787.8 L1022.8,2808.7" fill="none" stroke="#000" stroke-width="1.6"/>
<path d="M1075.7,3049.6 L1095.2,3133.1" fill="none" stroke="#000" stroke-width="1.6" stroke-dasharray="22 10 6 10"/>
<path d="M322.9,1365.0 L442.3,1577.0" fill="none" stroke="#000" stroke-width="1.6" stroke-dasharray="17 10"/>
<path d="M444.3,1360.9 L619.3,1671.6" fill="none" stroke="#000" stroke-width="1.6" stroke-dasharray="17 10"/>
<path d="M534.9,1350.6 L551.3,1379.4" fill="none" stroke="#000" stroke-width="1.6"/>
<path d="M566.0,1408.0 L580.0,1430.0" fill="none" stroke="#000" stroke-width="1.6"/>
<path d="M586.0,1442.0 L597.0,1462.0" fill="none" stroke="#000" stroke-width="1.6"/>
<path d="M446.0,1588.0 L457.0,1606.0" fill="none" stroke="#000" stroke-width="1.6"/>
<path d="M632.0,1699.0 L642.0,1717.0" fill="none" stroke="#000" stroke-width="1.6"/>
<path d="M542.5,1396.8 l4,12 a16,13 -20 0 0 30,-8 l-4,-12" fill="#fff" stroke="#000" stroke-width="2.6"/>
<ellipse cx="557.5" cy="1393.8" rx="16" ry="13.5" transform="rotate(-20 557.5 1393.8)" fill="#fff" stroke="#000" stroke-width="2.6"/>
<ellipse cx="557.5" cy="1392.8" rx="8.5" ry="7" transform="rotate(-20 557.5 1392.8)" fill="#bbb" stroke="#000" stroke-width="2"/>
<circle cx="582.2" cy="1435.0" r="7.0" fill="#fff" stroke="#000" stroke-width="2.6"/><circle cx="582.2" cy="1435.0" r="3.1" fill="#888" stroke="#000" stroke-width="1.5"/>
<path d="M596.6,1461.7 L606.9,1478.2" stroke="#000" stroke-width="8" stroke-linecap="round"/><path d="M596.6,1461.7 L606.9,1478.2" stroke="#fff" stroke-width="3.4" stroke-linecap="round"/>
<circle cx="606.9" cy="1478.2" r="6.5" fill="#fff" stroke="#000" stroke-width="2.6"/><circle cx="606.9" cy="1478.2" r="2.5" fill="#000"/>
<circle cx="443.1" cy="1581.1" r="7.0" fill="#fff" stroke="#000" stroke-width="2.6"/><circle cx="443.1" cy="1581.1" r="3.1" fill="#888" stroke="#000" stroke-width="1.5"/>
<path d="M456.7,1605.8 L467.0,1624.3" stroke="#000" stroke-width="8" stroke-linecap="round"/><path d="M456.7,1605.8 L467.0,1624.3" stroke="#fff" stroke-width="3.4" stroke-linecap="round"/>
<circle cx="467.0" cy="1624.3" r="6.5" fill="#fff" stroke="#000" stroke-width="2.6"/><circle cx="467.0" cy="1624.3" r="2.5" fill="#000"/>
<circle cx="628.7" cy="1692.2" r="7.0" fill="#fff" stroke="#000" stroke-width="2.6"/><circle cx="628.7" cy="1692.2" r="3.1" fill="#888" stroke="#000" stroke-width="1.5"/>
<path d="M641.9,1716.9 L654.2,1735.5" stroke="#000" stroke-width="8" stroke-linecap="round"/><path d="M641.9,1716.9 L654.2,1735.5" stroke="#fff" stroke-width="3.4" stroke-linecap="round"/>
<circle cx="654.2" cy="1735.5" r="6.5" fill="#fff" stroke="#000" stroke-width="2.6"/><circle cx="654.2" cy="1735.5" r="2.5" fill="#000"/>
<path d="M222.0,1729.3 L438.1,1585.2" fill="none" stroke="#000" stroke-width="1.6"/>
<path d="M372.3,1819.8 L464.9,1628.4" fill="none" stroke="#000" stroke-width="1.6"/>
<path d="M742.5,1292.5 L574.0,1388.0" fill="none" stroke="#000" stroke-width="1.6"/>
<path d="M435.5,432.0 L437.0,720.0" fill="none" stroke="#000" stroke-width="1.6"/>
<path d="M1836.2,2127.0 L1858.0,2110.7 L1892.4,2127.0 L1894.2,2136.1 L1870.6,2150.6 L1838.0,2136.1Z" fill="none" stroke="#000" stroke-width="2.6"/>
<path d="M1845.3,2127.0 L1858.0,2118.0 L1885.2,2128.8 L1870.6,2143.3Z" fill="none" stroke="#000" stroke-width="2.2"/>
<path d="M1852.5,2127.0 L1859.8,2122.7 L1877.9,2129.9 L1869.9,2136.1Z" fill="none" stroke="#000" stroke-width="2.4"/>
<path d="M1838.0,2136.1 L1834.4,2147.0 L1847.1,2152.4 L1852.5,2177.8 L1876.1,2190.5 L1883.3,2185.0 L1879.7,2163.3 L1870.6,2150.6" fill="none" stroke="#000" stroke-width="2.6"/>
<path d="M1894.2,2136.1 L1899.7,2145.2 L1899.7,2168.7 L1894.2,2174.2" fill="none" stroke="#000" stroke-width="2.4"/>
<path d="M1885.2,2174.2 L1885.2,2159.7 L1892.4,2148.8" fill="none" stroke="#000" stroke-width="2"/>
<path d="M1856.1,2159.7 L1872.5,2166.9 L1875.0,2185.0" fill="none" stroke="#000" stroke-width="2"/>
<path d="M1847.1,2152.4 C1849.4,2150.2 1851.8,2147.9 1854.3,2148.8 C1856.9,2149.6 1857.4,2152.8 1858.0,2156.0" fill="none" stroke="#000" stroke-width="2.2"/>
<path d="M1852.5,2040.0 L1858.0,2105.0" fill="none" stroke="#000" stroke-width="1.6"/>
<path d="M1841.0,1892.5 L1852.5,2040.0" fill="none" stroke="#000" stroke-width="1.6" stroke-dasharray="22 10 6 10"/>
<path d="M1883.3,2177.8 L2039.3,2254.7" fill="none" stroke="#000" stroke-width="1.6"/>
<path d="M2094.3,1966.2 L1974.5,1916.3 C1972.0,1913.4 1969.6,1910.6 1968.1,1907.2 C1967.4,1905.5 1967.2,1903.3 1968.1,1901.7 C1969.5,1899.3 1972.0,1897.8 1974.5,1896.3 C1989.4,1884.3 2004.3,1872.3 2020.8,1862.7 C2022.8,1861.5 2025.8,1863.6 2027.1,1865.4 C2029.4,1868.5 2028.8,1873.0 2030.8,1876.3 C2032.5,1879.3 2035.3,1881.6 2038.0,1883.6 C2044.4,1888.3 2051.3,1892.1 2058.0,1896.3 C2072.5,1905.4 2087.7,1913.6 2101.6,1923.5 C2108.9,1928.8 2115.1,1935.5 2121.6,1941.7 C2123.0,1943.0 2124.7,1944.4 2125.2,1946.2 C2125.7,1948.3 2125.8,1951.0 2124.3,1952.6 C2120.0,1957.2 2114.3,1960.3 2108.9,1963.5 C2106.1,1965.1 2103.0,1966.5 2099.8,1967.1 C2098.0,1967.5 2096.2,1966.8 2094.3,1966.2Z" fill="none" stroke="#000" stroke-width="3"/>
<path d="M1976.3,1913.5 C2014.9,1932.8 2053.5,1952.0 2095.2,1960.8 C2105.0,1962.8 2112.4,1953.2 2119.8,1943.5" fill="none" stroke="#000" stroke-width="1.3"/>
<path d="M2095.2,1960.8 L2094.3,1966.2" fill="none" stroke="#000" stroke-width="1.3"/>
<text x="2052.6" y="1920.5" font-size="17.5" font-weight="bold" text-anchor="middle" transform="rotate(212 2052.6 1914.5)">PULL</text>
<path d="M2005.4,1934.4 L1996.3,1956.2 L1979.9,1961.7 L1972.7,1965.3 L1969.0,1970.7 L1949.1,2021.6 L1957.2,2024.3 L1965.4,1999.8" fill="none" stroke="#000" stroke-width="2.6"/>
<path d="M2009.0,1936.2 L1999.9,1958.0 L1992.6,1970.7 L1990.8,1965.3" fill="none" stroke="#000" stroke-width="2.2"/>
<path d="M1951.8,2019.8 L1964.5,1998.0" fill="none" stroke="#000" stroke-width="4"/>
<path d="M2070.7,1958.0 L2065.3,1967.1 L2030.8,2063.4 L2024.4,2083.3" fill="none" stroke="#000" stroke-width="2.6"/>
<path d="M2076.2,1959.9 L2036.2,2074.3 L2029.0,2084.2" fill="none" stroke="#000" stroke-width="2.6"/>
<path d="M1959.0,2019.8 L1963.6,2032.5 L1974.5,2054.3 L1963.6,2070.6 L1966.3,2077.9 L2029.0,2084.2 L2034.4,2074.3" fill="none" stroke="#000" stroke-width="2.6"/>
<path d="M1974.5,2054.3 L2030.8,2060.6" fill="none" stroke="#000" stroke-width="2.2"/>
<path d="M1965.4,2071.5 L2029.0,2077.0" fill="none" stroke="#000" stroke-width="3"/>
<path d="M1975.4,2057.9 L2029.9,2064.3" fill="none" stroke="#000" stroke-width="2"/>
<path d="M2018.1,1970.7 L2052.6,1985.3 L2039.9,2014.3 L2005.4,1999.8Z" fill="none" stroke="#000" stroke-width="3.4"/>
<path d="M2019.9,1979.8 L2045.3,1990.7 L2036.2,2008.9 L2010.8,1998.9Z" fill="none" stroke="#000" stroke-width="1.3"/>
<path d="M2014.4,1947.1 L2063.5,1961.7" fill="none" stroke="#000" stroke-width="3"/>
<path d="M2009.0,1952.6 L2065.3,1967.1" fill="none" stroke="#000" stroke-width="1.3"/>
<path d="M2061.6,1956.2 L2065.3,1967.1" fill="none" stroke="#000" stroke-width="1.3"/>
<path d="M1999.9,1967.1 L2001.7,1994.4 L1992.6,1999.8 L1969.0,2001.6" fill="none" stroke="#000" stroke-width="2"/>
<path d="M2001.7,1994.4 L2043.5,2014.3" fill="none" stroke="#000" stroke-width="1.3"/>
<path d="M1992.6,1999.8 C2007.6,2010.1 2022.6,2020.4 2039.9,2021.6 C2046.4,2022.0 2046.7,2012.7 2047.1,2003.4" fill="none" stroke="#000" stroke-width="1.3"/>
<path d="M1969.0,2001.6 L2036.2,2028.9" fill="none" stroke="#000" stroke-width="1.3"/>
<path d="M1990.8,2009.8 L1999.9,2012.5" fill="none" stroke="#000" stroke-width="3"/>
<path d="M2018.1,2020.7 L2036.2,2027.0" fill="none" stroke="#000" stroke-width="2.4"/>
<path d="M1937.3,1988.0 L2071.6,2042.5" fill="none" stroke="#000" stroke-width="1.3"/>
<path d="M1943.6,1990.7 C1944.4,1989.6 1945.9,1988.8 1947.2,1988.9 C1949.8,1989.1 1952.6,1989.9 1954.5,1991.6 C1955.7,1992.7 1956.6,1995.2 1955.4,1996.2 C1953.3,1998.0 1950.0,1998.4 1947.2,1998.0 C1945.5,1997.7 1944.4,1995.9 1943.6,1994.4 C1943.1,1993.3 1942.9,1991.7 1943.6,1990.7Z" fill="none" stroke="#000" stroke-width="2.2"/>
<path d="M2050.7,2035.2 L2058.9,2033.4 L2059.8,2039.8 L2053.5,2041.6Z" fill="none" stroke="#000" stroke-width="2.2"/>
<path d="M1963.6,2032.5 L2030.8,2057.9" fill="none" stroke="#000" stroke-width="1.3"/>
<path d="M2005.4,1934.4 C2007.4,1935.7 2009.4,1937.0 2010.8,1939.0 C2012.5,1941.4 2013.5,1944.3 2014.4,1947.1" fill="none" stroke="#000" stroke-width="1.3"/>
<path d="M1996.3,1956.2 C1999.2,1958.5 2002.2,1960.7 2005.4,1959.9 C2008.0,1959.1 2008.5,1955.9 2009.0,1952.6" fill="none" stroke="#000" stroke-width="1.3"/>
</g>
<g>
<text x="432.0" y="410.4" font-size="41.5" text-anchor="middle">7</text>
<text x="1171.0" y="443.9" font-size="41.5" text-anchor="middle">14</text>
<text x="1538.0" y="509.9" font-size="41.5" text-anchor="middle">19</text>
<text x="1378.0" y="620.9" font-size="41.5" text-anchor="middle">5</text>
<text x="1317.0" y="759.9" font-size="41.5" text-anchor="middle">1</text>
<text x="2006.0" y="940.9" font-size="41.5" text-anchor="middle">13</text>
<text x="2166.0" y="905.9" font-size="41.5" text-anchor="middle">15</text>
<text x="2317.0" y="1427.9" font-size="41.5" text-anchor="middle">5</text>
<text x="2208.0" y="1509.9" font-size="41.5" text-anchor="middle">1</text>
<text x="786.0" y="1281.9" font-size="41.5" text-anchor="middle">24</text>
<text x="187.0" y="1764.9" font-size="41.5" text-anchor="middle">2</text>
<text x="356.0" y="1879.9" font-size="41.5" text-anchor="middle">3</text>
<text x="172.6" y="2169.9" font-size="41.5" text-anchor="middle">12</text>
<text x="2235.0" y="2181.9" font-size="41.5" text-anchor="middle">10</text>
<text x="2084.0" y="2290.6" font-size="41.5" text-anchor="middle">29</text>
<text x="1214.0" y="2376.9" font-size="41.5" text-anchor="middle">30</text>
<text x="1190.0" y="2577.9" font-size="41.5" text-anchor="middle">31</text>
<text x="151.0" y="2649.9" font-size="41.5" text-anchor="middle">21</text>
<text x="784.0" y="2714.9" font-size="41.5" text-anchor="middle">31</text>
<text x="1035.0" y="2747.9" font-size="41.5" text-anchor="middle">30</text>
<text x="1282.0" y="2824.9" font-size="41.5" text-anchor="middle">20</text>
<text x="1439.0" y="3158.6" font-size="41.5" text-anchor="middle">25</text>
<text x="103.0" y="3217.0" font-size="41.7" text-anchor="start">26S1211,12,13,14,15,16,17,18,19</text>
</g>
<g>
<g transform="translate(512.0 485.0)"><g transform="rotate(-12)" font-family="DejaVu Sans, sans-serif" font-weight="bold" font-size="53" text-anchor="middle" fill="#fff" fill-opacity="0.55" stroke="#b4b4b4" stroke-width="1.6"><text x="-10" y="-30" style="font-family:'DejaVu Sans',sans-serif;fill:#fff">vNext</text><text x="0" y="46" style="font-family:'DejaVu Sans',sans-serif;fill:#fff">Technologies</text></g><text transform="rotate(10.5)" x="0" y="9" font-size="29" text-anchor="middle" style="font-family:'DejaVu Serif',serif;fill:#111">vNext Technologies</text></g>
<g transform="translate(512.0 1515.0)"><g transform="rotate(-12)" font-family="DejaVu Sans, sans-serif" font-weight="bold" font-size="53" text-anchor="middle" fill="#fff" fill-opacity="0.55" stroke="#b4b4b4" stroke-width="1.6"><text x="-10" y="-30" style="font-family:'DejaVu Sans',sans-serif;fill:#fff">vNext</text><text x="0" y="46" style="font-family:'DejaVu Sans',sans-serif;fill:#fff">Technologies</text></g><text transform="rotate(10.5)" x="0" y="9" font-size="29" text-anchor="middle" style="font-family:'DejaVu Serif',serif;fill:#111">vNext Technologies</text></g>
<g transform="translate(512.0 2545.0)"><g transform="rotate(-12)" font-family="DejaVu Sans, sans-serif" font-weight="bold" font-size="53" text-anchor="middle" fill="#fff" fill-opacity="0.55" stroke="#b4b4b4" stroke-width="1.6"><text x="-10" y="-30" style="font-family:'DejaVu Sans',sans-serif;fill:#fff">vNext</text><text x="0" y="46" style="font-family:'DejaVu Sans',sans-serif;fill:#fff">Technologies</text></g><text transform="rotate(10.5)" x="0" y="9" font-size="29" text-anchor="middle" style="font-family:'DejaVu Serif',serif;fill:#111">vNext Technologies</text></g>
<g transform="translate(1542.0 485.0)"><g transform="rotate(-12)" font-family="DejaVu Sans, sans-serif" font-weight="bold" font-size="53" text-anchor="middle" fill="#fff" fill-opacity="0.55" stroke="#b4b4b4" stroke-width="1.6"><text x="-10" y="-30" style="font-family:'DejaVu Sans',sans-serif;fill:#fff">vNext</text><text x="0" y="46" style="font-family:'DejaVu Sans',sans-serif;fill:#fff">Technologies</text></g><text transform="rotate(10.5)" x="0" y="9" font-size="29" text-anchor="middle" style="font-family:'DejaVu Serif',serif;fill:#111">vNext Technologies</text></g>
<g transform="translate(1542.0 1515.0)"><g transform="rotate(-12)" font-family="DejaVu Sans, sans-serif" font-weight="bold" font-size="53" text-anchor="middle" fill="#fff" fill-opacity="0.55" stroke="#b4b4b4" stroke-width="1.6"><text x="-10" y="-30" style="font-family:'DejaVu Sans',sans-serif;fill:#fff">vNext</text><text x="0" y="46" style="font-family:'DejaVu Sans',sans-serif;fill:#fff">Technologies</text></g><text transform="rotate(10.5)" x="0" y="9" font-size="29" text-anchor="middle" style="font-family:'DejaVu Serif',serif;fill:#111">vNext Technologies</text></g>
<g transform="translate(1542.0 2545.0)"><g transform="rotate(-12)" font-family="DejaVu Sans, sans-serif" font-weight="bold" font-size="53" text-anchor="middle" fill="#fff" fill-opacity="0.55" stroke="#b4b4b4" stroke-width="1.6"><text x="-10" y="-30" style="font-family:'DejaVu Sans',sans-serif;fill:#fff">vNext</text><text x="0" y="46" style="font-family:'DejaVu Sans',sans-serif;fill:#fff">Technologies</text></g><text transform="rotate(10.5)" x="0" y="9" font-size="29" text-anchor="middle" style="font-family:'DejaVu Serif',serif;fill:#111">vNext Technologies</text></g>
</g>
</svg>
</body></html>
